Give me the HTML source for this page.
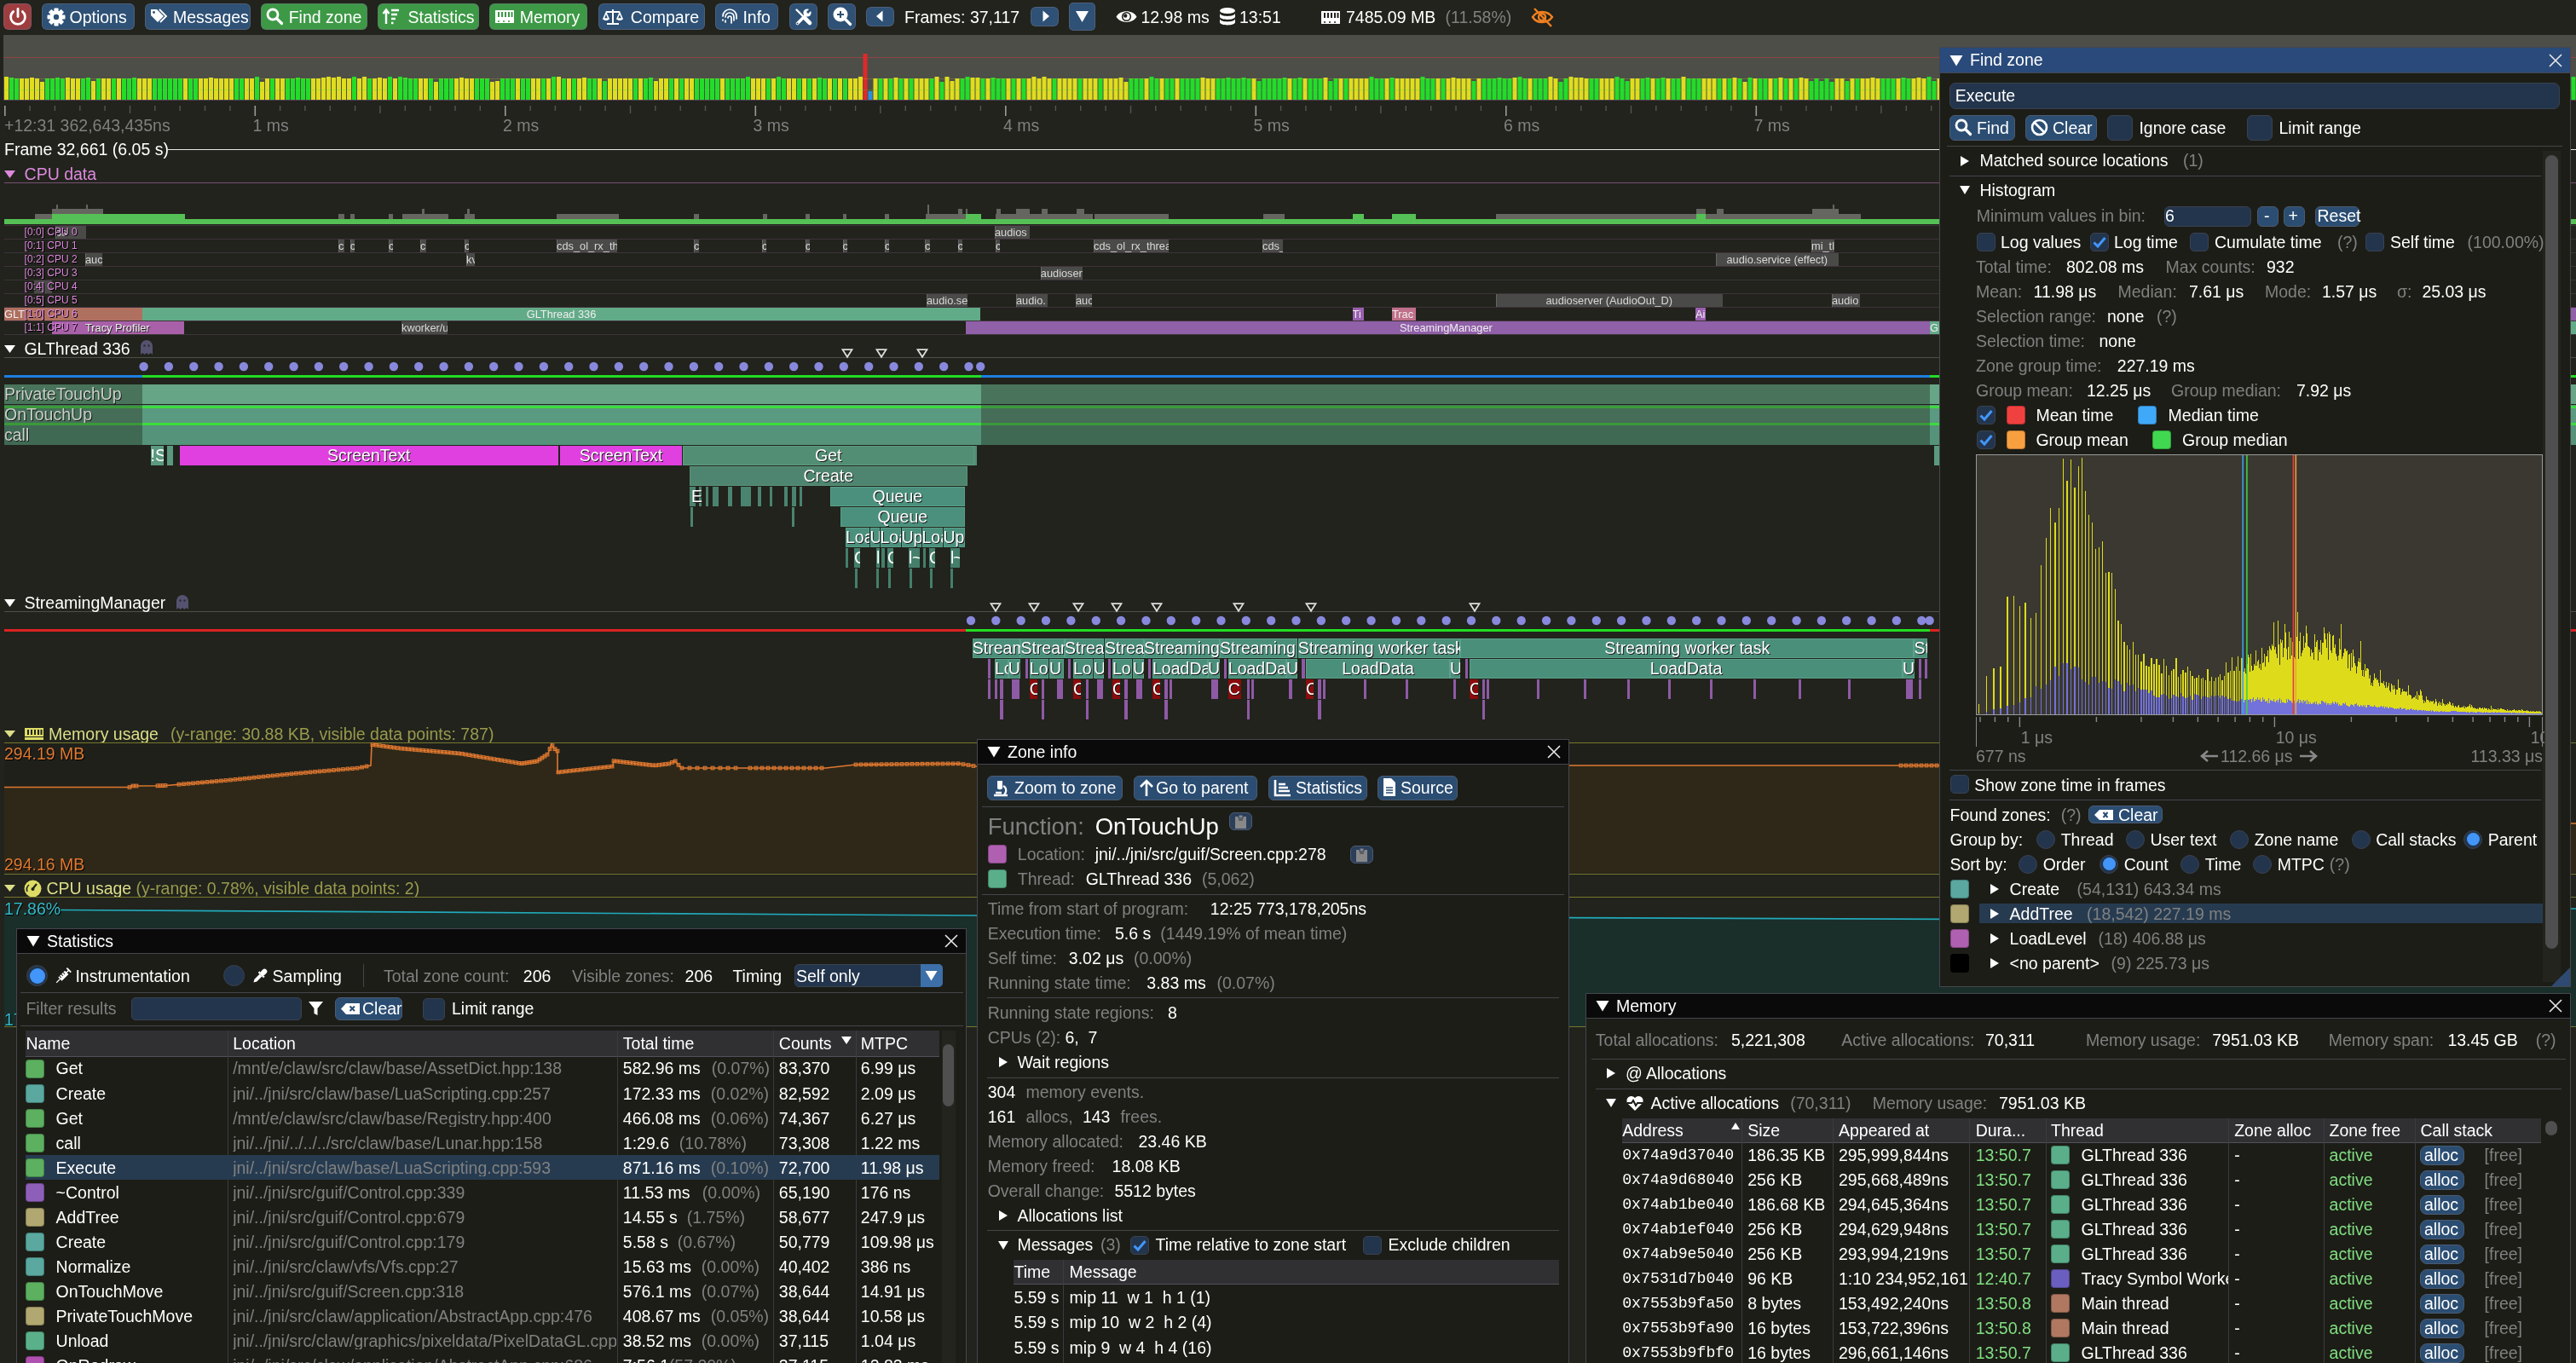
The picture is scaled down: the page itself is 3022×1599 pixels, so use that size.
<!DOCTYPE html><html><head><meta charset="utf-8"><style>
html,body{margin:0;padding:0}
body{width:3022px;height:1599px;overflow:hidden;background:#21231C;position:relative;-webkit-font-smoothing:antialiased;font-family:"Liberation Sans",sans-serif;font-size:19.5px;color:#fff}
.a{position:absolute}
.t{position:absolute;white-space:pre;line-height:19.5px}
#r{position:absolute;left:0;top:0;width:3022px;height:1599px;will-change:transform}
.z{position:absolute;white-space:pre;box-sizing:border-box}
svg.a{overflow:visible}
</style></head><body>
<div id=r>
<div class=a style="left:4.0px;top:4.0px;width:33.0px;height:31.0px;background:#9E3D40;border-radius:6px;box-sizing:border-box;border:1px solid rgba(110,110,128,0.5)"></div>
<svg class=a style="left:10.5px;top:9px;" width="20" height="21" viewBox="0 0 20 21"><path d="M10 1.5v9" stroke="#fff" stroke-width="2.8" stroke-linecap="round" fill="none"/><path d="M4.6 4.6a8.4 8.4 0 1 0 10.8 0" stroke="#fff" stroke-width="2.8" stroke-linecap="round" fill="none"/></svg>
<div class=a style="left:49.0px;top:4.0px;width:108.6px;height:31.0px;background:#2E5175;border-radius:6px;box-sizing:border-box;border:1px solid rgba(110,110,128,0.5)"></div>
<svg class=a style="left:55px;top:8.5px;" width="22" height="22" viewBox="0 0 22 22"><g transform="translate(11,11)"><circle r="7.6" fill="#fff"/><g fill="#fff"><rect x="-2.6" y="-10.5" width="5.2" height="6" rx="1" transform="rotate(0)"/><rect x="-2.6" y="-10.5" width="5.2" height="6" rx="1" transform="rotate(45)"/><rect x="-2.6" y="-10.5" width="5.2" height="6" rx="1" transform="rotate(90)"/><rect x="-2.6" y="-10.5" width="5.2" height="6" rx="1" transform="rotate(135)"/><rect x="-2.6" y="-10.5" width="5.2" height="6" rx="1" transform="rotate(180)"/><rect x="-2.6" y="-10.5" width="5.2" height="6" rx="1" transform="rotate(225)"/><rect x="-2.6" y="-10.5" width="5.2" height="6" rx="1" transform="rotate(270)"/><rect x="-2.6" y="-10.5" width="5.2" height="6" rx="1" transform="rotate(315)"/></g><circle r="3.2" fill="#2E5175"/></g></svg>
<div class=t style="left:81.5px;top:10.8px">Options</div>
<div class=a style="left:170.0px;top:4.0px;width:123.7px;height:31.0px;background:#2E5175;border-radius:6px;box-sizing:border-box;border:1px solid rgba(110,110,128,0.5)"></div>
<svg class=a style="left:176px;top:8.5px;" width="22" height="22" viewBox="0 0 22 22"><path d="M1 2h7l8 8-7 7-8-8z" fill="#fff"/><circle cx="4.5" cy="5.5" r="1.4" fill="#2E5175"/><path d="M11 2l8 8-7 7" stroke="#fff" stroke-width="1.8" fill="none"/></svg>
<div class=t style="left:203.0px;top:10.8px">Messages</div>
<div class=a style="left:306.0px;top:4.0px;width:125.0px;height:31.0px;background:#3D9946;border-radius:6px;box-sizing:border-box;border:1px solid rgba(110,110,128,0.5)"></div>
<svg class=a style="left:312px;top:8.5px;" width="22" height="22" viewBox="0 0 22 22"><circle cx="8" cy="8" r="6" stroke="#fff" stroke-width="2.8" fill="none"/><path d="M12.5 12.5l6 6" stroke="#fff" stroke-width="3.2" stroke-linecap="round"/></svg>
<div class=t style="left:338.7px;top:10.8px">Find zone</div>
<div class=a style="left:443.0px;top:4.0px;width:118.7px;height:31.0px;background:#3D9946;border-radius:6px;box-sizing:border-box;border:1px solid rgba(110,110,128,0.5)"></div>
<svg class=a style="left:449px;top:8.5px;" width="22" height="22" viewBox="0 0 22 22"><path d="M4 19V3M0.5 7L4 2.5 7.5 7" stroke="#fff" stroke-width="2.4" fill="none"/><path d="M10 3h9M10 8h7M10 13h5M10 18h2.5" stroke="#fff" stroke-width="2.4"/></svg>
<div class=t style="left:478.5px;top:10.8px">Statistics</div>
<div class=a style="left:574.0px;top:4.0px;width:115.4px;height:31.0px;background:#3D9946;border-radius:6px;box-sizing:border-box;border:1px solid rgba(110,110,128,0.5)"></div>
<svg class=a style="left:580px;top:8.5px;" width="24" height="22" viewBox="0 0 24 22"><path d="M1 3h22v11H1z" fill="#fff"/><path d="M5 5v6M9 5v6M13 5v6M17 5v6M20.5 5v6" stroke="#3D9946" stroke-width="2"/><path d="M1 14h22v4H1z" fill="#fff"/><path d="M4 16h2M10 16h2M16 16h2" stroke="#3D9946" stroke-width="1.5"/></svg>
<div class=t style="left:609.8px;top:10.8px">Memory</div>
<div class=a style="left:702.0px;top:4.0px;width:124.9px;height:31.0px;background:#2E5175;border-radius:6px;box-sizing:border-box;border:1px solid rgba(110,110,128,0.5)"></div>
<svg class=a style="left:708px;top:8.5px;" width="22" height="22" viewBox="0 0 22 22"><path d="M11 2v17M4 19h14M3 5h16" stroke="#fff" stroke-width="2" fill="none"/><path d="M3 6l-3 7h6z M19 6l-3 7h6z" stroke="#fff" stroke-width="1.6" fill="none"/><path d="M0 13a3 2 0 0 0 6 0zM16 13a3 2 0 0 0 6 0z" fill="#fff"/></svg>
<div class=t style="left:739.8px;top:10.8px">Compare</div>
<div class=a style="left:839.0px;top:4.0px;width:74.4px;height:31.0px;background:#2E5175;border-radius:6px;box-sizing:border-box;border:1px solid rgba(110,110,128,0.5)"></div>
<svg class=a style="left:845px;top:8.5px;" width="22" height="22" viewBox="0 0 22 22"><g stroke="#fff" stroke-width="1.7" fill="none" stroke-linecap="round"><path d="M3 10a8 8 0 0 1 16 0v3"/><path d="M6 11a5 5 0 0 1 10 0v4"/><path d="M9 12a2 2 0 0 1 4 0v6"/><path d="M6 15v2M3 14v1"/></g></svg>
<div class=t style="left:871.4px;top:10.8px">Info</div>
<div class=a style="left:926.0px;top:4.0px;width:33.0px;height:31.0px;background:#2E5175;border-radius:6px;box-sizing:border-box;border:1px solid rgba(110,110,128,0.5)"></div>
<svg class=a style="left:932px;top:9px;" width="21" height="21" viewBox="0 0 21 21"><g stroke="#fff" stroke-linecap="round"><path d="M2.5 2.5l9 9" stroke-width="2.4"/><path d="M12 12l6 6" stroke-width="4.6"/><path d="M3.5 18.5L13 9" stroke-width="3.6"/></g><circle cx="15" cy="6" r="4.6" fill="#fff"/><path d="M15 6l4-4" stroke="#2E5175" stroke-width="3"/><circle cx="3.5" cy="18.5" r="1" fill="#2E5175"/></svg>
<div class=a style="left:971.0px;top:4.0px;width:33.0px;height:31.0px;background:#2E5175;border-radius:6px;box-sizing:border-box;border:1px solid rgba(110,110,128,0.5)"></div>
<svg class=a style="left:977px;top:8px;" width="22" height="22" viewBox="0 0 22 22"><circle cx="9" cy="9" r="8.5" fill="#fff"/><path d="M14.5 14.5l6 6" stroke="#fff" stroke-width="3.2" stroke-linecap="round"/><path d="M5 9h8M9 5v8" stroke="#2E5175" stroke-width="2"/></svg>
<div class=a style="left:1016.0px;top:8.0px;width:33.0px;height:23.0px;background:#2E5175;border-radius:6px;box-sizing:border-box;border:1px solid rgba(110,110,128,0.5)"></div>
<svg class=a style="left:1026.5px;top:12px;" width="10" height="14" viewBox="0 0 10 14"><path d="M8.5 0.5L1 7l7.5 6.5z" fill="#fff"/></svg>
<div class=t style="left:1061.0px;top:10.8px">Frames: 37,117</div>
<div class=a style="left:1209.0px;top:8.0px;width:33.0px;height:23.0px;background:#2E5175;border-radius:6px;box-sizing:border-box;border:1px solid rgba(110,110,128,0.5)"></div>
<svg class=a style="left:1222px;top:12px;" width="10" height="14" viewBox="0 0 10 14"><path d="M1.5 0.5L9 7l-7.5 6.5z" fill="#fff"/></svg>
<div class=a style="left:1254.0px;top:3.0px;width:30.5px;height:33.0px;background:#2E5175;border-radius:5px;box-sizing:border-box;border:1px solid rgba(110,110,128,0.5)"></div>
<svg class=a style="left:1261px;top:11px;" width="17" height="16" viewBox="0 0 17 16"><path d="M1 2h15L8.5 15z" fill="#fff"/></svg>
<svg class=a style="left:1308.5px;top:9.5px;" width="25" height="19" viewBox="0 0 25 19"><path d="M0.5 9.5C5 1 20 1 24.5 9.5 20 18 5 18 0.5 9.5z" fill="#fff"/><circle cx="12.5" cy="9.5" r="5.6" fill="#21231C"/><circle cx="12.5" cy="9.5" r="4" fill="#fff"/><circle cx="11.2" cy="8.5" r="2.2" fill="#21231C"/></svg>
<div class=t style="left:1338.5px;top:10.8px">12.98 ms</div>
<svg class=a style="left:1430px;top:8px;" width="20" height="24" viewBox="0 0 20 24"><ellipse cx="10" cy="4.5" rx="9" ry="3.6" fill="#fff"/><path d="M1 7.5c0 4.5 18 4.5 18 0v4c0 4.5-18 4.5-18 0z M1 14c0 4.5 18 4.5 18 0v4c0 4.5-18 4.5-18 0z" fill="#fff"/></svg>
<div class=t style="left:1454.0px;top:10.8px">13:51</div>
<svg class=a style="left:1549px;top:10px;" width="25" height="20" viewBox="0 0 25 20"><path d="M1 3h22v11H1z" fill="#fff"/><path d="M5 5v6M9 5v6M13 5v6M17 5v6M20.5 5v6" stroke="#21231C" stroke-width="2"/><path d="M1 14h22v4H1z" fill="#fff"/><path d="M4 16h2M10 16h2M16 16h2" stroke="#21231C" stroke-width="1.5"/></svg>
<div class=t style="left:1579.0px;top:10.8px">7485.09 MB</div>
<div class=t style="left:1695.6px;top:10.8px;color:#808080">(11.58%)</div>
<svg class=a style="left:1795px;top:8px;" width="29" height="24" viewBox="0 0 29 24"><g fill="none" stroke="#F08020" stroke-width="2.4"><path d="M3 12C8 4 20 4 26 12 20 20 8 20 3 12z"/><circle cx="14" cy="12" r="4"/><path d="M5 2l20 21"/></g></svg>
<div class=a style="left:4.0px;top:41.0px;width:3018.0px;height:77.0px;background:#4D4E48"></div>
<div class=a style="left:4.0px;top:67.0px;width:3018.0px;height:1.0px;background:rgba(200,60,60,0.55)"></div>
<svg class=a style="left:0px;top:0px;" width="3022" height="120" viewBox="0 0 3022 120"><rect x="5" y="90" width="5" height="27" fill="#E0DD1E"/><rect x="11" y="91" width="5" height="26" fill="#22DD28"/><rect x="17" y="92" width="5" height="25" fill="#22DD28"/><rect x="23" y="92" width="5" height="25" fill="#E0DD1E"/><rect x="29" y="92" width="5" height="25" fill="#E0DD1E"/><rect x="35" y="91" width="5" height="26" fill="#E0DD1E"/><rect x="41" y="92" width="5" height="25" fill="#E0DD1E"/><rect x="47" y="96" width="5" height="21" fill="#E0DD1E"/><rect x="53" y="92" width="5" height="25" fill="#22DD28"/><rect x="59" y="92" width="5" height="25" fill="#22DD28"/><rect x="65" y="91" width="5" height="26" fill="#22DD28"/><rect x="71" y="92" width="5" height="25" fill="#22DD28"/><rect x="77" y="91" width="5" height="26" fill="#E0DD1E"/><rect x="83" y="92" width="5" height="25" fill="#E0DD1E"/><rect x="89" y="92" width="5" height="25" fill="#E0DD1E"/><rect x="95" y="92" width="5" height="25" fill="#22DD28"/><rect x="101" y="91" width="5" height="26" fill="#22DD28"/><rect x="107" y="95" width="5" height="22" fill="#E0DD1E"/><rect x="113" y="92" width="5" height="25" fill="#22DD28"/><rect x="119" y="92" width="5" height="25" fill="#E0DD1E"/><rect x="125" y="92" width="5" height="25" fill="#E0DD1E"/><rect x="131" y="92" width="5" height="25" fill="#22DD28"/><rect x="137" y="92" width="5" height="25" fill="#E0DD1E"/><rect x="143" y="92" width="5" height="25" fill="#22DD28"/><rect x="149" y="92" width="5" height="25" fill="#22DD28"/><rect x="155" y="91" width="5" height="26" fill="#22DD28"/><rect x="161" y="92" width="5" height="25" fill="#E0DD1E"/><rect x="167" y="92" width="5" height="25" fill="#E0DD1E"/><rect x="173" y="92" width="5" height="25" fill="#E0DD1E"/><rect x="179" y="92" width="5" height="25" fill="#22DD28"/><rect x="185" y="92" width="5" height="25" fill="#22DD28"/><rect x="191" y="92" width="5" height="25" fill="#22DD28"/><rect x="197" y="92" width="5" height="25" fill="#22DD28"/><rect x="203" y="92" width="5" height="25" fill="#22DD28"/><rect x="209" y="92" width="5" height="25" fill="#22DD28"/><rect x="215" y="92" width="5" height="25" fill="#E0DD1E"/><rect x="221" y="92" width="5" height="25" fill="#22DD28"/><rect x="227" y="92" width="5" height="25" fill="#22DD28"/><rect x="233" y="92" width="5" height="25" fill="#E0DD1E"/><rect x="239" y="92" width="5" height="25" fill="#E0DD1E"/><rect x="245" y="91" width="5" height="26" fill="#E0DD1E"/><rect x="251" y="92" width="5" height="25" fill="#E0DD1E"/><rect x="257" y="92" width="5" height="25" fill="#E0DD1E"/><rect x="263" y="92" width="5" height="25" fill="#E0DD1E"/><rect x="269" y="92" width="5" height="25" fill="#E0DD1E"/><rect x="275" y="92" width="5" height="25" fill="#22DD28"/><rect x="281" y="92" width="5" height="25" fill="#22DD28"/><rect x="287" y="92" width="5" height="25" fill="#E0DD1E"/><rect x="293" y="92" width="5" height="25" fill="#E0DD1E"/><rect x="299" y="90" width="5" height="27" fill="#22DD28"/><rect x="305" y="96" width="5" height="21" fill="#E0DD1E"/><rect x="311" y="92" width="5" height="25" fill="#E0DD1E"/><rect x="317" y="92" width="5" height="25" fill="#22DD28"/><rect x="323" y="92" width="5" height="25" fill="#E0DD1E"/><rect x="329" y="92" width="5" height="25" fill="#E0DD1E"/><rect x="335" y="92" width="5" height="25" fill="#22DD28"/><rect x="341" y="92" width="5" height="25" fill="#22DD28"/><rect x="347" y="91" width="5" height="26" fill="#22DD28"/><rect x="353" y="92" width="5" height="25" fill="#22DD28"/><rect x="359" y="92" width="5" height="25" fill="#22DD28"/><rect x="365" y="92" width="5" height="25" fill="#E0DD1E"/><rect x="371" y="92" width="5" height="25" fill="#E0DD1E"/><rect x="377" y="91" width="5" height="26" fill="#E0DD1E"/><rect x="383" y="90" width="5" height="27" fill="#E0DD1E"/><rect x="389" y="91" width="5" height="26" fill="#E0DD1E"/><rect x="395" y="90" width="5" height="27" fill="#E0DD1E"/><rect x="401" y="92" width="5" height="25" fill="#E0DD1E"/><rect x="407" y="92" width="5" height="25" fill="#E0DD1E"/><rect x="413" y="90" width="5" height="27" fill="#22DD28"/><rect x="419" y="92" width="5" height="25" fill="#E0DD1E"/><rect x="425" y="90" width="5" height="27" fill="#E0DD1E"/><rect x="431" y="92" width="5" height="25" fill="#22DD28"/><rect x="437" y="92" width="5" height="25" fill="#E0DD1E"/><rect x="443" y="91" width="5" height="26" fill="#E0DD1E"/><rect x="449" y="92" width="5" height="25" fill="#E0DD1E"/><rect x="455" y="90" width="5" height="27" fill="#22DD28"/><rect x="461" y="92" width="5" height="25" fill="#E0DD1E"/><rect x="467" y="90" width="5" height="27" fill="#22DD28"/><rect x="473" y="91" width="5" height="26" fill="#22DD28"/><rect x="479" y="92" width="5" height="25" fill="#22DD28"/><rect x="485" y="92" width="5" height="25" fill="#22DD28"/><rect x="491" y="92" width="5" height="25" fill="#E0DD1E"/><rect x="497" y="92" width="5" height="25" fill="#E0DD1E"/><rect x="503" y="92" width="5" height="25" fill="#22DD28"/><rect x="509" y="96" width="5" height="21" fill="#E0DD1E"/><rect x="515" y="92" width="5" height="25" fill="#22DD28"/><rect x="521" y="92" width="5" height="25" fill="#22DD28"/><rect x="527" y="92" width="5" height="25" fill="#22DD28"/><rect x="533" y="92" width="5" height="25" fill="#E0DD1E"/><rect x="539" y="91" width="5" height="26" fill="#E0DD1E"/><rect x="545" y="92" width="5" height="25" fill="#E0DD1E"/><rect x="551" y="92" width="5" height="25" fill="#E0DD1E"/><rect x="557" y="92" width="5" height="25" fill="#22DD28"/><rect x="563" y="92" width="5" height="25" fill="#22DD28"/><rect x="569" y="92" width="5" height="25" fill="#22DD28"/><rect x="575" y="96" width="5" height="21" fill="#E0DD1E"/><rect x="581" y="95" width="5" height="22" fill="#E0DD1E"/><rect x="587" y="92" width="5" height="25" fill="#22DD28"/><rect x="593" y="92" width="5" height="25" fill="#22DD28"/><rect x="599" y="92" width="5" height="25" fill="#22DD28"/><rect x="605" y="92" width="5" height="25" fill="#E0DD1E"/><rect x="611" y="92" width="5" height="25" fill="#22DD28"/><rect x="617" y="92" width="5" height="25" fill="#22DD28"/><rect x="623" y="92" width="5" height="25" fill="#E0DD1E"/><rect x="629" y="92" width="5" height="25" fill="#E0DD1E"/><rect x="635" y="92" width="5" height="25" fill="#22DD28"/><rect x="641" y="92" width="5" height="25" fill="#E0DD1E"/><rect x="647" y="90" width="5" height="27" fill="#22DD28"/><rect x="653" y="90" width="5" height="27" fill="#E0DD1E"/><rect x="659" y="92" width="5" height="25" fill="#22DD28"/><rect x="665" y="92" width="5" height="25" fill="#E0DD1E"/><rect x="671" y="92" width="5" height="25" fill="#22DD28"/><rect x="677" y="92" width="5" height="25" fill="#E0DD1E"/><rect x="683" y="91" width="5" height="26" fill="#E0DD1E"/><rect x="689" y="92" width="5" height="25" fill="#22DD28"/><rect x="695" y="92" width="5" height="25" fill="#22DD28"/><rect x="701" y="92" width="5" height="25" fill="#E0DD1E"/><rect x="707" y="95" width="5" height="22" fill="#22DD28"/><rect x="713" y="92" width="5" height="25" fill="#E0DD1E"/><rect x="719" y="92" width="5" height="25" fill="#E0DD1E"/><rect x="725" y="92" width="5" height="25" fill="#E0DD1E"/><rect x="731" y="92" width="5" height="25" fill="#E0DD1E"/><rect x="737" y="92" width="5" height="25" fill="#E0DD1E"/><rect x="743" y="92" width="5" height="25" fill="#22DD28"/><rect x="749" y="92" width="5" height="25" fill="#E0DD1E"/><rect x="755" y="92" width="5" height="25" fill="#22DD28"/><rect x="761" y="91" width="5" height="26" fill="#22DD28"/><rect x="767" y="95" width="5" height="22" fill="#E0DD1E"/><rect x="773" y="92" width="5" height="25" fill="#E0DD1E"/><rect x="779" y="92" width="5" height="25" fill="#E0DD1E"/><rect x="785" y="92" width="5" height="25" fill="#22DD28"/><rect x="791" y="92" width="5" height="25" fill="#E0DD1E"/><rect x="797" y="92" width="5" height="25" fill="#22DD28"/><rect x="803" y="92" width="5" height="25" fill="#E0DD1E"/><rect x="809" y="92" width="5" height="25" fill="#E0DD1E"/><rect x="815" y="92" width="5" height="25" fill="#22DD28"/><rect x="821" y="92" width="5" height="25" fill="#22DD28"/><rect x="827" y="92" width="5" height="25" fill="#22DD28"/><rect x="833" y="92" width="5" height="25" fill="#22DD28"/><rect x="839" y="92" width="5" height="25" fill="#22DD28"/><rect x="845" y="92" width="5" height="25" fill="#E0DD1E"/><rect x="851" y="92" width="5" height="25" fill="#22DD28"/><rect x="857" y="92" width="5" height="25" fill="#22DD28"/><rect x="863" y="92" width="5" height="25" fill="#22DD28"/><rect x="869" y="92" width="5" height="25" fill="#22DD28"/><rect x="875" y="90" width="5" height="27" fill="#22DD28"/><rect x="881" y="92" width="5" height="25" fill="#E0DD1E"/><rect x="887" y="92" width="5" height="25" fill="#E0DD1E"/><rect x="893" y="92" width="5" height="25" fill="#E0DD1E"/><rect x="899" y="92" width="5" height="25" fill="#22DD28"/><rect x="905" y="92" width="5" height="25" fill="#E0DD1E"/><rect x="911" y="90" width="5" height="27" fill="#22DD28"/><rect x="917" y="92" width="5" height="25" fill="#22DD28"/><rect x="923" y="92" width="5" height="25" fill="#E0DD1E"/><rect x="929" y="92" width="5" height="25" fill="#E0DD1E"/><rect x="935" y="92" width="5" height="25" fill="#22DD28"/><rect x="941" y="92" width="5" height="25" fill="#E0DD1E"/><rect x="947" y="92" width="5" height="25" fill="#22DD28"/><rect x="953" y="92" width="5" height="25" fill="#E0DD1E"/><rect x="959" y="91" width="5" height="26" fill="#22DD28"/><rect x="965" y="92" width="5" height="25" fill="#22DD28"/><rect x="971" y="92" width="5" height="25" fill="#E0DD1E"/><rect x="977" y="92" width="5" height="25" fill="#22DD28"/><rect x="983" y="92" width="5" height="25" fill="#E0DD1E"/><rect x="989" y="92" width="5" height="25" fill="#22DD28"/><rect x="995" y="92" width="5" height="25" fill="#E0DD1E"/><rect x="1001" y="92" width="5" height="25" fill="#E0DD1E"/><rect x="1007" y="90" width="5" height="27" fill="#E0DD1E"/><rect x="1012.5" y="63" width="5" height="54" fill="#DD2A2A"/><rect x="1018.5" y="107" width="5" height="10" fill="#2A90E0"/><rect x="1024.5" y="92" width="5" height="25" fill="#E0DD1E"/><rect x="1030.5" y="92" width="5" height="25" fill="#22DD28"/><rect x="1036.5" y="92" width="5" height="25" fill="#E0DD1E"/><rect x="1042.5" y="92" width="5" height="25" fill="#22DD28"/><rect x="1048.5" y="91" width="5" height="26" fill="#E0DD1E"/><rect x="1054.5" y="92" width="5" height="25" fill="#22DD28"/><rect x="1060.5" y="92" width="5" height="25" fill="#E0DD1E"/><rect x="1066.5" y="92" width="5" height="25" fill="#22DD28"/><rect x="1072.5" y="92" width="5" height="25" fill="#E0DD1E"/><rect x="1078.5" y="92" width="5" height="25" fill="#E0DD1E"/><rect x="1084.5" y="92" width="5" height="25" fill="#E0DD1E"/><rect x="1090.5" y="92" width="5" height="25" fill="#22DD28"/><rect x="1096.5" y="90" width="5" height="27" fill="#E0DD1E"/><rect x="1102.5" y="96" width="5" height="21" fill="#22DD28"/><rect x="1108.5" y="90" width="5" height="27" fill="#E0DD1E"/><rect x="1114.5" y="95" width="5" height="22" fill="#E0DD1E"/><rect x="1120.5" y="92" width="5" height="25" fill="#E0DD1E"/><rect x="1126.5" y="92" width="5" height="25" fill="#22DD28"/><rect x="1132.5" y="90" width="5" height="27" fill="#22DD28"/><rect x="1138.5" y="91" width="5" height="26" fill="#E0DD1E"/><rect x="1144.5" y="91" width="5" height="26" fill="#E0DD1E"/><rect x="1150.5" y="92" width="5" height="25" fill="#22DD28"/><rect x="1156.5" y="92" width="5" height="25" fill="#E0DD1E"/><rect x="1162.5" y="91" width="5" height="26" fill="#22DD28"/><rect x="1168.5" y="92" width="5" height="25" fill="#22DD28"/><rect x="1174.5" y="92" width="5" height="25" fill="#22DD28"/><rect x="1180.5" y="92" width="5" height="25" fill="#E0DD1E"/><rect x="1186.5" y="92" width="5" height="25" fill="#22DD28"/><rect x="1192.5" y="92" width="5" height="25" fill="#E0DD1E"/><rect x="1198.5" y="92" width="5" height="25" fill="#22DD28"/><rect x="1204.5" y="92" width="5" height="25" fill="#E0DD1E"/><rect x="1210.5" y="90" width="5" height="27" fill="#E0DD1E"/><rect x="1216.5" y="92" width="5" height="25" fill="#E0DD1E"/><rect x="1222.5" y="90" width="5" height="27" fill="#E0DD1E"/><rect x="1228.5" y="92" width="5" height="25" fill="#E0DD1E"/><rect x="1234.5" y="92" width="5" height="25" fill="#22DD28"/><rect x="1240.5" y="92" width="5" height="25" fill="#E0DD1E"/><rect x="1246.5" y="92" width="5" height="25" fill="#E0DD1E"/><rect x="1252.5" y="92" width="5" height="25" fill="#E0DD1E"/><rect x="1258.5" y="92" width="5" height="25" fill="#E0DD1E"/><rect x="1264.5" y="92" width="5" height="25" fill="#22DD28"/><rect x="1270.5" y="92" width="5" height="25" fill="#E0DD1E"/><rect x="1276.5" y="92" width="5" height="25" fill="#E0DD1E"/><rect x="1282.5" y="92" width="5" height="25" fill="#E0DD1E"/><rect x="1288.5" y="92" width="5" height="25" fill="#22DD28"/><rect x="1294.5" y="92" width="5" height="25" fill="#E0DD1E"/><rect x="1300.5" y="92" width="5" height="25" fill="#E0DD1E"/><rect x="1306.5" y="92" width="5" height="25" fill="#E0DD1E"/><rect x="1312.5" y="91" width="5" height="26" fill="#E0DD1E"/><rect x="1318.5" y="96" width="5" height="21" fill="#E0DD1E"/><rect x="1324.5" y="92" width="5" height="25" fill="#22DD28"/><rect x="1330.5" y="92" width="5" height="25" fill="#22DD28"/><rect x="1336.5" y="92" width="5" height="25" fill="#22DD28"/><rect x="1342.5" y="92" width="5" height="25" fill="#E0DD1E"/><rect x="1348.5" y="90" width="5" height="27" fill="#22DD28"/><rect x="1354.5" y="92" width="5" height="25" fill="#22DD28"/><rect x="1360.5" y="92" width="5" height="25" fill="#E0DD1E"/><rect x="1366.5" y="92" width="5" height="25" fill="#22DD28"/><rect x="1372.5" y="92" width="5" height="25" fill="#22DD28"/><rect x="1378.5" y="92" width="5" height="25" fill="#E0DD1E"/><rect x="1384.5" y="92" width="5" height="25" fill="#22DD28"/><rect x="1390.5" y="92" width="5" height="25" fill="#22DD28"/><rect x="1396.5" y="92" width="5" height="25" fill="#22DD28"/><rect x="1402.5" y="92" width="5" height="25" fill="#22DD28"/><rect x="1408.5" y="91" width="5" height="26" fill="#E0DD1E"/><rect x="1414.5" y="92" width="5" height="25" fill="#E0DD1E"/><rect x="1420.5" y="92" width="5" height="25" fill="#E0DD1E"/><rect x="1426.5" y="92" width="5" height="25" fill="#22DD28"/><rect x="1432.5" y="92" width="5" height="25" fill="#22DD28"/><rect x="1438.5" y="91" width="5" height="26" fill="#22DD28"/><rect x="1444.5" y="92" width="5" height="25" fill="#22DD28"/><rect x="1450.5" y="92" width="5" height="25" fill="#22DD28"/><rect x="1456.5" y="91" width="5" height="26" fill="#22DD28"/><rect x="1462.5" y="92" width="5" height="25" fill="#22DD28"/><rect x="1468.5" y="92" width="5" height="25" fill="#E0DD1E"/><rect x="1474.5" y="95" width="5" height="22" fill="#22DD28"/><rect x="1480.5" y="92" width="5" height="25" fill="#22DD28"/><rect x="1486.5" y="92" width="5" height="25" fill="#22DD28"/><rect x="1492.5" y="92" width="5" height="25" fill="#22DD28"/><rect x="1498.5" y="92" width="5" height="25" fill="#22DD28"/><rect x="1504.5" y="91" width="5" height="26" fill="#22DD28"/><rect x="1510.5" y="92" width="5" height="25" fill="#E0DD1E"/><rect x="1516.5" y="92" width="5" height="25" fill="#22DD28"/><rect x="1522.5" y="91" width="5" height="26" fill="#22DD28"/><rect x="1528.5" y="92" width="5" height="25" fill="#E0DD1E"/><rect x="1534.5" y="92" width="5" height="25" fill="#22DD28"/><rect x="1540.5" y="92" width="5" height="25" fill="#22DD28"/><rect x="1546.5" y="92" width="5" height="25" fill="#22DD28"/><rect x="1552.5" y="91" width="5" height="26" fill="#E0DD1E"/><rect x="1558.5" y="95" width="5" height="22" fill="#22DD28"/><rect x="1564.5" y="92" width="5" height="25" fill="#22DD28"/><rect x="1570.5" y="92" width="5" height="25" fill="#E0DD1E"/><rect x="1576.5" y="92" width="5" height="25" fill="#22DD28"/><rect x="1582.5" y="92" width="5" height="25" fill="#E0DD1E"/><rect x="1588.5" y="92" width="5" height="25" fill="#E0DD1E"/><rect x="1594.5" y="92" width="5" height="25" fill="#E0DD1E"/><rect x="1600.5" y="92" width="5" height="25" fill="#E0DD1E"/><rect x="1606.5" y="90" width="5" height="27" fill="#22DD28"/><rect x="1612.5" y="92" width="5" height="25" fill="#22DD28"/><rect x="1618.5" y="92" width="5" height="25" fill="#22DD28"/><rect x="1624.5" y="92" width="5" height="25" fill="#E0DD1E"/><rect x="1630.5" y="91" width="5" height="26" fill="#22DD28"/><rect x="1636.5" y="92" width="5" height="25" fill="#E0DD1E"/><rect x="1642.5" y="92" width="5" height="25" fill="#E0DD1E"/><rect x="1648.5" y="92" width="5" height="25" fill="#E0DD1E"/><rect x="1654.5" y="92" width="5" height="25" fill="#E0DD1E"/><rect x="1660.5" y="92" width="5" height="25" fill="#E0DD1E"/><rect x="1666.5" y="90" width="5" height="27" fill="#22DD28"/><rect x="1672.5" y="92" width="5" height="25" fill="#22DD28"/><rect x="1678.5" y="92" width="5" height="25" fill="#22DD28"/><rect x="1684.5" y="92" width="5" height="25" fill="#E0DD1E"/><rect x="1690.5" y="92" width="5" height="25" fill="#22DD28"/><rect x="1696.5" y="92" width="5" height="25" fill="#E0DD1E"/><rect x="1702.5" y="91" width="5" height="26" fill="#E0DD1E"/><rect x="1708.5" y="92" width="5" height="25" fill="#E0DD1E"/><rect x="1714.5" y="92" width="5" height="25" fill="#E0DD1E"/><rect x="1720.5" y="92" width="5" height="25" fill="#E0DD1E"/><rect x="1726.5" y="95" width="5" height="22" fill="#22DD28"/><rect x="1732.5" y="92" width="5" height="25" fill="#E0DD1E"/><rect x="1738.5" y="92" width="5" height="25" fill="#22DD28"/><rect x="1744.5" y="92" width="5" height="25" fill="#22DD28"/><rect x="1750.5" y="92" width="5" height="25" fill="#22DD28"/><rect x="1756.5" y="91" width="5" height="26" fill="#22DD28"/><rect x="1762.5" y="92" width="5" height="25" fill="#22DD28"/><rect x="1768.5" y="92" width="5" height="25" fill="#22DD28"/><rect x="1774.5" y="91" width="5" height="26" fill="#E0DD1E"/><rect x="1780.5" y="90" width="5" height="27" fill="#22DD28"/><rect x="1786.5" y="92" width="5" height="25" fill="#22DD28"/><rect x="1792.5" y="92" width="5" height="25" fill="#E0DD1E"/><rect x="1798.5" y="92" width="5" height="25" fill="#22DD28"/><rect x="1804.5" y="92" width="5" height="25" fill="#22DD28"/><rect x="1810.5" y="92" width="5" height="25" fill="#22DD28"/><rect x="1816.5" y="90" width="5" height="27" fill="#E0DD1E"/><rect x="1822.5" y="92" width="5" height="25" fill="#E0DD1E"/><rect x="1828.5" y="96" width="5" height="21" fill="#22DD28"/><rect x="1834.5" y="92" width="5" height="25" fill="#22DD28"/><rect x="1840.5" y="90" width="5" height="27" fill="#E0DD1E"/><rect x="1846.5" y="91" width="5" height="26" fill="#E0DD1E"/><rect x="1852.5" y="91" width="5" height="26" fill="#E0DD1E"/><rect x="1858.5" y="92" width="5" height="25" fill="#E0DD1E"/><rect x="1864.5" y="92" width="5" height="25" fill="#22DD28"/><rect x="1870.5" y="92" width="5" height="25" fill="#22DD28"/><rect x="1876.5" y="92" width="5" height="25" fill="#E0DD1E"/><rect x="1882.5" y="92" width="5" height="25" fill="#E0DD1E"/><rect x="1888.5" y="92" width="5" height="25" fill="#E0DD1E"/><rect x="1894.5" y="90" width="5" height="27" fill="#22DD28"/><rect x="1900.5" y="92" width="5" height="25" fill="#22DD28"/><rect x="1906.5" y="95" width="5" height="22" fill="#22DD28"/><rect x="1912.5" y="92" width="5" height="25" fill="#E0DD1E"/><rect x="1918.5" y="92" width="5" height="25" fill="#E0DD1E"/><rect x="1924.5" y="92" width="5" height="25" fill="#22DD28"/><rect x="1930.5" y="91" width="5" height="26" fill="#22DD28"/><rect x="1936.5" y="92" width="5" height="25" fill="#E0DD1E"/><rect x="1942.5" y="92" width="5" height="25" fill="#22DD28"/><rect x="1948.5" y="91" width="5" height="26" fill="#22DD28"/><rect x="1954.5" y="92" width="5" height="25" fill="#E0DD1E"/><rect x="1960.5" y="92" width="5" height="25" fill="#22DD28"/><rect x="1966.5" y="92" width="5" height="25" fill="#22DD28"/><rect x="1972.5" y="90" width="5" height="27" fill="#E0DD1E"/><rect x="1978.5" y="92" width="5" height="25" fill="#22DD28"/><rect x="1984.5" y="92" width="5" height="25" fill="#22DD28"/><rect x="1990.5" y="92" width="5" height="25" fill="#22DD28"/><rect x="1996.5" y="92" width="5" height="25" fill="#E0DD1E"/><rect x="2002.5" y="92" width="5" height="25" fill="#E0DD1E"/><rect x="2008.5" y="92" width="5" height="25" fill="#E0DD1E"/><rect x="2014.5" y="92" width="5" height="25" fill="#22DD28"/><rect x="2020.5" y="92" width="5" height="25" fill="#E0DD1E"/><rect x="2026.5" y="92" width="5" height="25" fill="#22DD28"/><rect x="2032.5" y="91" width="5" height="26" fill="#E0DD1E"/><rect x="2038.5" y="92" width="5" height="25" fill="#22DD28"/><rect x="2044.5" y="96" width="5" height="21" fill="#E0DD1E"/><rect x="2050.5" y="91" width="5" height="26" fill="#22DD28"/><rect x="2056.5" y="92" width="5" height="25" fill="#E0DD1E"/><rect x="2062.5" y="92" width="5" height="25" fill="#22DD28"/><rect x="2068.5" y="92" width="5" height="25" fill="#22DD28"/><rect x="2074.5" y="92" width="5" height="25" fill="#E0DD1E"/><rect x="2080.5" y="92" width="5" height="25" fill="#22DD28"/><rect x="2086.5" y="91" width="5" height="26" fill="#E0DD1E"/><rect x="2092.5" y="92" width="5" height="25" fill="#22DD28"/><rect x="2098.5" y="92" width="5" height="25" fill="#E0DD1E"/><rect x="2104.5" y="92" width="5" height="25" fill="#22DD28"/><rect x="2110.5" y="91" width="5" height="26" fill="#E0DD1E"/><rect x="2116.5" y="92" width="5" height="25" fill="#E0DD1E"/><rect x="2122.5" y="95" width="5" height="22" fill="#22DD28"/><rect x="2128.5" y="92" width="5" height="25" fill="#22DD28"/><rect x="2134.5" y="95" width="5" height="22" fill="#22DD28"/><rect x="2140.5" y="92" width="5" height="25" fill="#22DD28"/><rect x="2146.5" y="96" width="5" height="21" fill="#22DD28"/><rect x="2152.5" y="92" width="5" height="25" fill="#E0DD1E"/><rect x="2158.5" y="92" width="5" height="25" fill="#E0DD1E"/><rect x="2164.5" y="95" width="5" height="22" fill="#22DD28"/><rect x="2170.5" y="92" width="5" height="25" fill="#E0DD1E"/><rect x="2176.5" y="92" width="5" height="25" fill="#22DD28"/><rect x="2182.5" y="92" width="5" height="25" fill="#E0DD1E"/><rect x="2188.5" y="92" width="5" height="25" fill="#E0DD1E"/><rect x="2194.5" y="91" width="5" height="26" fill="#E0DD1E"/><rect x="2200.5" y="92" width="5" height="25" fill="#E0DD1E"/><rect x="2206.5" y="92" width="5" height="25" fill="#22DD28"/><rect x="2212.5" y="92" width="5" height="25" fill="#22DD28"/><rect x="2218.5" y="92" width="5" height="25" fill="#22DD28"/><rect x="2224.5" y="92" width="5" height="25" fill="#E0DD1E"/><rect x="2230.5" y="91" width="5" height="26" fill="#22DD28"/><rect x="2236.5" y="92" width="5" height="25" fill="#22DD28"/><rect x="2242.5" y="92" width="5" height="25" fill="#E0DD1E"/><rect x="2248.5" y="91" width="5" height="26" fill="#E0DD1E"/><rect x="2254.5" y="92" width="5" height="25" fill="#E0DD1E"/><rect x="2260.5" y="90" width="5" height="27" fill="#22DD28"/><rect x="2266.5" y="95" width="5" height="22" fill="#22DD28"/><rect x="2272.5" y="92" width="5" height="25" fill="#E0DD1E"/><rect x="2278.5" y="92" width="5" height="25" fill="#22DD28"/><rect x="2284.5" y="92" width="5" height="25" fill="#E0DD1E"/><rect x="2290.5" y="92" width="5" height="25" fill="#E0DD1E"/><rect x="2296.5" y="92" width="5" height="25" fill="#E0DD1E"/><rect x="2302.5" y="91" width="5" height="26" fill="#22DD28"/><rect x="2308.5" y="92" width="5" height="25" fill="#E0DD1E"/><rect x="2314.5" y="91" width="5" height="26" fill="#22DD28"/><rect x="2320.5" y="91" width="5" height="26" fill="#E0DD1E"/><rect x="2326.5" y="92" width="5" height="25" fill="#22DD28"/><rect x="2332.5" y="92" width="5" height="25" fill="#22DD28"/><rect x="2338.5" y="92" width="5" height="25" fill="#E0DD1E"/><rect x="2344.5" y="92" width="5" height="25" fill="#22DD28"/><rect x="2350.5" y="92" width="5" height="25" fill="#E0DD1E"/><rect x="2356.5" y="92" width="5" height="25" fill="#E0DD1E"/><rect x="2362.5" y="92" width="5" height="25" fill="#E0DD1E"/><rect x="2368.5" y="92" width="5" height="25" fill="#22DD28"/><rect x="2374.5" y="91" width="5" height="26" fill="#22DD28"/><rect x="2380.5" y="92" width="5" height="25" fill="#E0DD1E"/><rect x="2386.5" y="92" width="5" height="25" fill="#22DD28"/><rect x="2392.5" y="92" width="5" height="25" fill="#E0DD1E"/><rect x="2398.5" y="92" width="5" height="25" fill="#E0DD1E"/><rect x="2404.5" y="95" width="5" height="22" fill="#22DD28"/><rect x="2410.5" y="92" width="5" height="25" fill="#22DD28"/><rect x="2416.5" y="92" width="5" height="25" fill="#22DD28"/><rect x="2422.5" y="92" width="5" height="25" fill="#22DD28"/><rect x="2428.5" y="92" width="5" height="25" fill="#E0DD1E"/><rect x="2434.5" y="91" width="5" height="26" fill="#22DD28"/><rect x="2440.5" y="92" width="5" height="25" fill="#E0DD1E"/><rect x="2446.5" y="91" width="5" height="26" fill="#E0DD1E"/><rect x="2452.5" y="92" width="5" height="25" fill="#E0DD1E"/><rect x="2458.5" y="92" width="5" height="25" fill="#E0DD1E"/><rect x="2464.5" y="92" width="5" height="25" fill="#22DD28"/><rect x="2470.5" y="91" width="5" height="26" fill="#E0DD1E"/><rect x="2476.5" y="92" width="5" height="25" fill="#E0DD1E"/><rect x="2482.5" y="92" width="5" height="25" fill="#22DD28"/><rect x="2488.5" y="92" width="5" height="25" fill="#E0DD1E"/><rect x="2494.5" y="92" width="5" height="25" fill="#22DD28"/><rect x="2500.5" y="92" width="5" height="25" fill="#22DD28"/><rect x="2506.5" y="90" width="5" height="27" fill="#22DD28"/><rect x="2512.5" y="92" width="5" height="25" fill="#22DD28"/><rect x="2518.5" y="92" width="5" height="25" fill="#22DD28"/><rect x="2524.5" y="95" width="5" height="22" fill="#22DD28"/><rect x="2530.5" y="92" width="5" height="25" fill="#E0DD1E"/><rect x="2536.5" y="92" width="5" height="25" fill="#E0DD1E"/><rect x="2542.5" y="92" width="5" height="25" fill="#22DD28"/><rect x="2548.5" y="92" width="5" height="25" fill="#E0DD1E"/><rect x="2554.5" y="96" width="5" height="21" fill="#22DD28"/><rect x="2560.5" y="92" width="5" height="25" fill="#22DD28"/><rect x="2566.5" y="91" width="5" height="26" fill="#22DD28"/><rect x="2572.5" y="92" width="5" height="25" fill="#22DD28"/><rect x="2578.5" y="92" width="5" height="25" fill="#22DD28"/><rect x="2584.5" y="92" width="5" height="25" fill="#E0DD1E"/><rect x="2590.5" y="95" width="5" height="22" fill="#E0DD1E"/><rect x="2596.5" y="92" width="5" height="25" fill="#22DD28"/><rect x="2602.5" y="92" width="5" height="25" fill="#22DD28"/><rect x="2608.5" y="92" width="5" height="25" fill="#22DD28"/><rect x="2614.5" y="92" width="5" height="25" fill="#E0DD1E"/><rect x="2620.5" y="91" width="5" height="26" fill="#22DD28"/><rect x="2626.5" y="92" width="5" height="25" fill="#22DD28"/><rect x="2632.5" y="92" width="5" height="25" fill="#E0DD1E"/><rect x="2638.5" y="95" width="5" height="22" fill="#E0DD1E"/><rect x="2644.5" y="92" width="5" height="25" fill="#E0DD1E"/><rect x="2650.5" y="95" width="5" height="22" fill="#22DD28"/><rect x="2656.5" y="92" width="5" height="25" fill="#E0DD1E"/><rect x="2662.5" y="95" width="5" height="22" fill="#22DD28"/><rect x="2668.5" y="95" width="5" height="22" fill="#E0DD1E"/><rect x="2674.5" y="92" width="5" height="25" fill="#22DD28"/><rect x="2680.5" y="91" width="5" height="26" fill="#E0DD1E"/><rect x="2686.5" y="92" width="5" height="25" fill="#E0DD1E"/><rect x="2692.5" y="91" width="5" height="26" fill="#22DD28"/><rect x="2698.5" y="92" width="5" height="25" fill="#E0DD1E"/><rect x="2704.5" y="92" width="5" height="25" fill="#E0DD1E"/><rect x="2710.5" y="92" width="5" height="25" fill="#E0DD1E"/><rect x="2716.5" y="92" width="5" height="25" fill="#E0DD1E"/><rect x="2722.5" y="92" width="5" height="25" fill="#E0DD1E"/><rect x="2728.5" y="92" width="5" height="25" fill="#22DD28"/><rect x="2734.5" y="95" width="5" height="22" fill="#E0DD1E"/><rect x="2740.5" y="95" width="5" height="22" fill="#22DD28"/><rect x="2746.5" y="92" width="5" height="25" fill="#E0DD1E"/><rect x="2752.5" y="92" width="5" height="25" fill="#E0DD1E"/><rect x="2758.5" y="92" width="5" height="25" fill="#E0DD1E"/><rect x="2764.5" y="90" width="5" height="27" fill="#E0DD1E"/><rect x="2770.5" y="92" width="5" height="25" fill="#E0DD1E"/><rect x="2776.5" y="92" width="5" height="25" fill="#22DD28"/><rect x="2782.5" y="92" width="5" height="25" fill="#E0DD1E"/><rect x="2788.5" y="92" width="5" height="25" fill="#E0DD1E"/><rect x="2794.5" y="92" width="5" height="25" fill="#E0DD1E"/><rect x="2800.5" y="92" width="5" height="25" fill="#22DD28"/><rect x="2806.5" y="92" width="5" height="25" fill="#E0DD1E"/><rect x="2812.5" y="92" width="5" height="25" fill="#22DD28"/><rect x="2818.5" y="90" width="5" height="27" fill="#E0DD1E"/><rect x="2824.5" y="92" width="5" height="25" fill="#22DD28"/><rect x="2830.5" y="91" width="5" height="26" fill="#22DD28"/><rect x="2836.5" y="92" width="5" height="25" fill="#22DD28"/><rect x="2842.5" y="92" width="5" height="25" fill="#22DD28"/><rect x="2848.5" y="90" width="5" height="27" fill="#22DD28"/><rect x="2854.5" y="96" width="5" height="21" fill="#22DD28"/><rect x="2860.5" y="92" width="5" height="25" fill="#E0DD1E"/><rect x="2866.5" y="95" width="5" height="22" fill="#22DD28"/><rect x="2872.5" y="92" width="5" height="25" fill="#E0DD1E"/><rect x="2878.5" y="92" width="5" height="25" fill="#22DD28"/><rect x="2884.5" y="92" width="5" height="25" fill="#E0DD1E"/><rect x="2890.5" y="92" width="5" height="25" fill="#22DD28"/><rect x="2896.5" y="92" width="5" height="25" fill="#E0DD1E"/><rect x="2902.5" y="91" width="5" height="26" fill="#22DD28"/><rect x="2908.5" y="91" width="5" height="26" fill="#22DD28"/><rect x="2914.5" y="92" width="5" height="25" fill="#22DD28"/><rect x="2920.5" y="92" width="5" height="25" fill="#22DD28"/><rect x="2926.5" y="92" width="5" height="25" fill="#E0DD1E"/><rect x="2932.5" y="92" width="5" height="25" fill="#E0DD1E"/><rect x="2938.5" y="92" width="5" height="25" fill="#E0DD1E"/><rect x="2944.5" y="92" width="5" height="25" fill="#E0DD1E"/><rect x="2950.5" y="96" width="5" height="21" fill="#22DD28"/><rect x="2956.5" y="92" width="5" height="25" fill="#22DD28"/><rect x="2962.5" y="90" width="5" height="27" fill="#E0DD1E"/><rect x="2968.5" y="91" width="5" height="26" fill="#22DD28"/><rect x="2974.5" y="92" width="5" height="25" fill="#E0DD1E"/><rect x="2980.5" y="92" width="5" height="25" fill="#E0DD1E"/><rect x="2986.5" y="91" width="5" height="26" fill="#22DD28"/><rect x="2992.5" y="91" width="5" height="26" fill="#22DD28"/><rect x="2998.5" y="92" width="5" height="25" fill="#22DD28"/><rect x="3004.5" y="91" width="5" height="26" fill="#22DD28"/><rect x="3010.5" y="92" width="5" height="25" fill="#22DD28"/><rect x="3016.5" y="90" width="5" height="27" fill="#22DD28"/></svg>
<div class=a style="left:4.0px;top:92.0px;width:3018.0px;height:1.0px;background:rgba(220,220,60,0.22)"></div>
<div class=a style="left:4.0px;top:105.0px;width:3018.0px;height:1.0px;background:rgba(60,220,60,0.25)"></div>
<div class=a style="left:4.0px;top:117.0px;width:3018.0px;height:1.0px;background:rgba(90,60,90,0.6)"></div>
<svg class=a style="left:0px;top:120px;" width="3022" height="25" viewBox="0 0 3022 25"><g transform="translate(0,-120)"><rect x="5.0" y="124" width="1.6" height="12" fill="#9a9a9a"/><rect x="34.4" y="124" width="1.4" height="6" fill="#555"/><rect x="63.7" y="124" width="1.4" height="6" fill="#555"/><rect x="93.1" y="124" width="1.4" height="6" fill="#555"/><rect x="122.4" y="124" width="1.4" height="6" fill="#555"/><rect x="151.8" y="124" width="1.4" height="9" fill="#555"/><rect x="181.1" y="124" width="1.4" height="6" fill="#555"/><rect x="210.5" y="124" width="1.4" height="6" fill="#555"/><rect x="239.8" y="124" width="1.4" height="6" fill="#555"/><rect x="269.2" y="124" width="1.4" height="6" fill="#555"/><rect x="298.5" y="124" width="1.6" height="12" fill="#9a9a9a"/><rect x="327.9" y="124" width="1.4" height="6" fill="#555"/><rect x="357.2" y="124" width="1.4" height="6" fill="#555"/><rect x="386.6" y="124" width="1.4" height="6" fill="#555"/><rect x="415.9" y="124" width="1.4" height="6" fill="#555"/><rect x="445.2" y="124" width="1.4" height="9" fill="#555"/><rect x="474.6" y="124" width="1.4" height="6" fill="#555"/><rect x="504.0" y="124" width="1.4" height="6" fill="#555"/><rect x="533.3" y="124" width="1.4" height="6" fill="#555"/><rect x="562.6" y="124" width="1.4" height="6" fill="#555"/><rect x="592.0" y="124" width="1.6" height="12" fill="#9a9a9a"/><rect x="621.4" y="124" width="1.4" height="6" fill="#555"/><rect x="650.7" y="124" width="1.4" height="6" fill="#555"/><rect x="680.1" y="124" width="1.4" height="6" fill="#555"/><rect x="709.4" y="124" width="1.4" height="6" fill="#555"/><rect x="738.8" y="124" width="1.4" height="9" fill="#555"/><rect x="768.1" y="124" width="1.4" height="6" fill="#555"/><rect x="797.5" y="124" width="1.4" height="6" fill="#555"/><rect x="826.8" y="124" width="1.4" height="6" fill="#555"/><rect x="856.2" y="124" width="1.4" height="6" fill="#555"/><rect x="885.5" y="124" width="1.6" height="12" fill="#9a9a9a"/><rect x="914.9" y="124" width="1.4" height="6" fill="#555"/><rect x="944.2" y="124" width="1.4" height="6" fill="#555"/><rect x="973.6" y="124" width="1.4" height="6" fill="#555"/><rect x="1002.9" y="124" width="1.4" height="6" fill="#555"/><rect x="1032.2" y="124" width="1.4" height="9" fill="#555"/><rect x="1061.6" y="124" width="1.4" height="6" fill="#555"/><rect x="1091.0" y="124" width="1.4" height="6" fill="#555"/><rect x="1120.3" y="124" width="1.4" height="6" fill="#555"/><rect x="1149.7" y="124" width="1.4" height="6" fill="#555"/><rect x="1179.0" y="124" width="1.6" height="12" fill="#9a9a9a"/><rect x="1208.4" y="124" width="1.4" height="6" fill="#555"/><rect x="1237.7" y="124" width="1.4" height="6" fill="#555"/><rect x="1267.0" y="124" width="1.4" height="6" fill="#555"/><rect x="1296.4" y="124" width="1.4" height="6" fill="#555"/><rect x="1325.8" y="124" width="1.4" height="9" fill="#555"/><rect x="1355.1" y="124" width="1.4" height="6" fill="#555"/><rect x="1384.5" y="124" width="1.4" height="6" fill="#555"/><rect x="1413.8" y="124" width="1.4" height="6" fill="#555"/><rect x="1443.2" y="124" width="1.4" height="6" fill="#555"/><rect x="1472.5" y="124" width="1.6" height="12" fill="#9a9a9a"/><rect x="1501.9" y="124" width="1.4" height="6" fill="#555"/><rect x="1531.2" y="124" width="1.4" height="6" fill="#555"/><rect x="1560.6" y="124" width="1.4" height="6" fill="#555"/><rect x="1589.9" y="124" width="1.4" height="6" fill="#555"/><rect x="1619.2" y="124" width="1.4" height="9" fill="#555"/><rect x="1648.6" y="124" width="1.4" height="6" fill="#555"/><rect x="1678.0" y="124" width="1.4" height="6" fill="#555"/><rect x="1707.3" y="124" width="1.4" height="6" fill="#555"/><rect x="1736.7" y="124" width="1.4" height="6" fill="#555"/><rect x="1766.0" y="124" width="1.6" height="12" fill="#9a9a9a"/><rect x="1795.4" y="124" width="1.4" height="6" fill="#555"/><rect x="1824.7" y="124" width="1.4" height="6" fill="#555"/><rect x="1854.1" y="124" width="1.4" height="6" fill="#555"/><rect x="1883.4" y="124" width="1.4" height="6" fill="#555"/><rect x="1912.8" y="124" width="1.4" height="9" fill="#555"/><rect x="1942.1" y="124" width="1.4" height="6" fill="#555"/><rect x="1971.5" y="124" width="1.4" height="6" fill="#555"/><rect x="2000.8" y="124" width="1.4" height="6" fill="#555"/><rect x="2030.2" y="124" width="1.4" height="6" fill="#555"/><rect x="2059.5" y="124" width="1.6" height="12" fill="#9a9a9a"/><rect x="2088.8" y="124" width="1.4" height="6" fill="#555"/><rect x="2118.2" y="124" width="1.4" height="6" fill="#555"/><rect x="2147.6" y="124" width="1.4" height="6" fill="#555"/><rect x="2176.9" y="124" width="1.4" height="6" fill="#555"/><rect x="2206.2" y="124" width="1.4" height="9" fill="#555"/><rect x="2235.6" y="124" width="1.4" height="6" fill="#555"/><rect x="2265.0" y="124" width="1.4" height="6" fill="#555"/><rect x="2294.3" y="124" width="1.4" height="6" fill="#555"/><rect x="2323.7" y="124" width="1.4" height="6" fill="#555"/><rect x="2353.0" y="124" width="1.6" height="12" fill="#9a9a9a"/><rect x="2382.3" y="124" width="1.4" height="6" fill="#555"/><rect x="2411.7" y="124" width="1.4" height="6" fill="#555"/><rect x="2441.1" y="124" width="1.4" height="6" fill="#555"/><rect x="2470.4" y="124" width="1.4" height="6" fill="#555"/><rect x="2499.8" y="124" width="1.4" height="9" fill="#555"/><rect x="2529.1" y="124" width="1.4" height="6" fill="#555"/><rect x="2558.5" y="124" width="1.4" height="6" fill="#555"/><rect x="2587.8" y="124" width="1.4" height="6" fill="#555"/><rect x="2617.2" y="124" width="1.4" height="6" fill="#555"/><rect x="2646.5" y="124" width="1.6" height="12" fill="#9a9a9a"/><rect x="2675.8" y="124" width="1.4" height="6" fill="#555"/><rect x="2705.2" y="124" width="1.4" height="6" fill="#555"/><rect x="2734.6" y="124" width="1.4" height="6" fill="#555"/><rect x="2763.9" y="124" width="1.4" height="6" fill="#555"/><rect x="2793.2" y="124" width="1.4" height="9" fill="#555"/><rect x="2822.6" y="124" width="1.4" height="6" fill="#555"/><rect x="2852.0" y="124" width="1.4" height="6" fill="#555"/><rect x="2881.3" y="124" width="1.4" height="6" fill="#555"/><rect x="2910.7" y="124" width="1.4" height="6" fill="#555"/><rect x="2940.0" y="124" width="1.6" height="12" fill="#9a9a9a"/><rect x="2969.4" y="124" width="1.4" height="6" fill="#555"/><rect x="2998.7" y="124" width="1.4" height="6" fill="#555"/></g></svg>
<div class=t style="left:5.0px;top:138.3px;color:#808080">+12:31 362,643,435ns</div>
<div class=t style="left:296.5px;top:138.3px;color:#808080">1 ms</div>
<div class=t style="left:590.0px;top:138.3px;color:#808080">2 ms</div>
<div class=t style="left:883.5px;top:138.3px;color:#808080">3 ms</div>
<div class=t style="left:1177.0px;top:138.3px;color:#808080">4 ms</div>
<div class=t style="left:1470.5px;top:138.3px;color:#808080">5 ms</div>
<div class=t style="left:1764.0px;top:138.3px;color:#808080">6 ms</div>
<div class=t style="left:2057.5px;top:138.3px;color:#808080">7 ms</div>
<div class=t style="left:2351.0px;top:138.3px;color:#808080">8 ms</div>
<div class=t style="left:2644.5px;top:138.3px;color:#808080">9 ms</div>
<div class=t style="left:2938.0px;top:138.3px;color:#808080">10 ms</div>
<div class=t style="left:5.0px;top:165.8px;color:#fff">Frame 32,661 (6.05 s)</div>
<div class=a style="left:197.0px;top:174.5px;width:2825.0px;height:1.2px;background:#e8e8e8"></div>
<svg class=a style="left:5px;top:199.5px;" width="13" height="9" viewBox="0 0 13 9"><path d="M0 0H13L6.5 9z" fill="#DD88DD"/></svg>
<div class=t style="left:28.6px;top:194.8px;color:#DD88DD">CPU data</div>
<div class=a style="left:5.0px;top:214.0px;width:3017.0px;height:1.0px;background:rgba(221,136,221,0.45)"></div>
<div class=a style="left:5.0px;top:257.0px;width:3017.0px;height:6.0px;background:#55C055"></div>
<div class=a style="left:40.7px;top:251.0px;width:20.7px;height:6.0px;background:#666660"></div>
<div class=a style="left:61.4px;top:251.0px;width:155.5px;height:6.0px;background:#55C055"></div>
<div class=a style="left:61.4px;top:245.0px;width:59.6px;height:6.0px;background:#666660"></div>
<div class=a style="left:66.0px;top:240.0px;width:2.0px;height:5.0px;background:#666660"></div>
<div class=a style="left:101.0px;top:240.0px;width:2.0px;height:5.0px;background:#666660"></div>
<div class=a style="left:397.0px;top:251.0px;width:6.6px;height:6.0px;background:#666660"></div>
<div class=a style="left:410.7px;top:251.0px;width:5.3px;height:6.0px;background:#666660"></div>
<div class=a style="left:456.0px;top:251.0px;width:5.0px;height:6.0px;background:#666660"></div>
<div class=a style="left:472.0px;top:251.0px;width:53.8px;height:6.0px;background:#666660"></div>
<div class=a style="left:545.0px;top:251.0px;width:11.8px;height:6.0px;background:#666660"></div>
<div class=a style="left:653.0px;top:251.0px;width:73.0px;height:6.0px;background:#666660"></div>
<div class=a style="left:814.0px;top:251.0px;width:6.0px;height:6.0px;background:#666660"></div>
<div class=a style="left:894.7px;top:251.0px;width:4.9px;height:6.0px;background:#666660"></div>
<div class=a style="left:945.0px;top:251.0px;width:5.0px;height:6.0px;background:#666660"></div>
<div class=a style="left:988.8px;top:251.0px;width:4.2px;height:6.0px;background:#666660"></div>
<div class=a style="left:1037.9px;top:251.0px;width:5.1px;height:6.0px;background:#666660"></div>
<div class=a style="left:1085.7px;top:251.0px;width:47.3px;height:6.0px;background:#666660"></div>
<div class=a style="left:1168.0px;top:251.0px;width:114.0px;height:6.0px;background:#666660"></div>
<div class=a style="left:1284.0px;top:251.0px;width:87.0px;height:6.0px;background:#666660"></div>
<div class=a style="left:1481.7px;top:251.0px;width:25.3px;height:6.0px;background:#666660"></div>
<div class=a style="left:1755.0px;top:251.0px;width:235.7px;height:6.0px;background:#666660"></div>
<div class=a style="left:2000.7px;top:251.0px;width:182.3px;height:6.0px;background:#666660"></div>
<div class=a style="left:1133.0px;top:251.0px;width:18.0px;height:6.0px;background:#55C055"></div>
<div class=a style="left:1633.0px;top:251.0px;width:27.7px;height:6.0px;background:#55C055"></div>
<div class=a style="left:1990.0px;top:251.0px;width:10.7px;height:6.0px;background:#55C055"></div>
<div class=a style="left:1587.0px;top:251.0px;width:13.0px;height:6.0px;background:#55C055"></div>
<div class=a style="left:495.0px;top:245.0px;width:3.0px;height:6.0px;background:#666660"></div>
<div class=a style="left:548.0px;top:245.0px;width:3.0px;height:6.0px;background:#666660"></div>
<div class=a style="left:1124.0px;top:245.0px;width:5.0px;height:6.0px;background:#666660"></div>
<div class=a style="left:1168.6px;top:245.0px;width:5.4px;height:6.0px;background:#666660"></div>
<div class=a style="left:1192.0px;top:245.0px;width:16.0px;height:6.0px;background:#666660"></div>
<div class=a style="left:1222.0px;top:245.0px;width:7.0px;height:6.0px;background:#666660"></div>
<div class=a style="left:1262.7px;top:245.0px;width:9.3px;height:6.0px;background:#666660"></div>
<div class=a style="left:1990.0px;top:245.0px;width:10.7px;height:6.0px;background:#666660"></div>
<div class=a style="left:2014.0px;top:245.0px;width:8.0px;height:6.0px;background:#666660"></div>
<div class=a style="left:2126.0px;top:245.0px;width:31.0px;height:6.0px;background:#666660"></div>
<div class=a style="left:1088.0px;top:240.0px;width:2.0px;height:11.0px;background:#666660"></div>
<div class=a style="left:1133.0px;top:245.0px;width:2.0px;height:6.0px;background:#666660"></div>
<div class=a style="left:2150.0px;top:240.0px;width:2.0px;height:5.0px;background:#666660"></div>
<div class=a style="left:5.0px;top:264.0px;width:3017.0px;height:1.0px;background:rgba(221,136,221,0.16)"></div>
<div class=a style="left:5.0px;top:280.0px;width:3017.0px;height:1.0px;background:rgba(221,136,221,0.16)"></div>
<div class=a style="left:5.0px;top:296.0px;width:3017.0px;height:1.0px;background:rgba(221,136,221,0.16)"></div>
<div class=a style="left:5.0px;top:312.0px;width:3017.0px;height:1.0px;background:rgba(221,136,221,0.16)"></div>
<div class=a style="left:5.0px;top:328.0px;width:3017.0px;height:1.0px;background:rgba(221,136,221,0.16)"></div>
<div class=a style="left:5.0px;top:344.0px;width:3017.0px;height:1.0px;background:rgba(221,136,221,0.16)"></div>
<div class=a style="left:5.0px;top:360.0px;width:3017.0px;height:1.0px;background:rgba(221,136,221,0.16)"></div>
<div class=a style="left:5.0px;top:376.0px;width:3017.0px;height:1.0px;background:rgba(221,136,221,0.16)"></div>
<div class=a style="left:5.0px;top:392.0px;width:3017.0px;height:1.0px;background:rgba(221,136,221,0.16)"></div>
<div class=z style="left:65.0px;top:265.0px;width:36.2px;height:15px;background:#4A4A48;line-height:15px;font-size:12.8px;color:#d8d8d8;overflow:hidden;text-align:left;box-shadow:inset 1px 0 #666">os</div>
<div class=z style="left:1167.0px;top:265.0px;width:40.5px;height:15px;background:#4A4A48;line-height:15px;font-size:12.8px;color:#d8d8d8;overflow:hidden;text-align:left;box-shadow:inset 1px 0 #666">audios</div>
<div class=z style="left:397.0px;top:281.0px;width:6.6px;height:15px;background:#4A4A48;line-height:15px;font-size:12.8px;color:#d8d8d8;overflow:hidden;text-align:left;box-shadow:inset 1px 0 #666">c</div>
<div class=z style="left:410.7px;top:281.0px;width:5.3px;height:15px;background:#4A4A48;line-height:15px;font-size:12.8px;color:#d8d8d8;overflow:hidden;text-align:left;box-shadow:inset 1px 0 #666">c</div>
<div class=z style="left:456.0px;top:281.0px;width:5.0px;height:15px;background:#4A4A48;line-height:15px;font-size:12.8px;color:#d8d8d8;overflow:hidden;text-align:left;box-shadow:inset 1px 0 #666">c</div>
<div class=z style="left:493.0px;top:281.0px;width:7.0px;height:15px;background:#4A4A48;line-height:15px;font-size:12.8px;color:#d8d8d8;overflow:hidden;text-align:left;box-shadow:inset 1px 0 #666">c</div>
<div class=z style="left:545.0px;top:281.0px;width:5.0px;height:15px;background:#4A4A48;line-height:15px;font-size:12.8px;color:#d8d8d8;overflow:hidden;text-align:left;box-shadow:inset 1px 0 #666">c</div>
<div class=z style="left:653.0px;top:281.0px;width:71.4px;height:15px;background:#4A4A48;line-height:15px;font-size:12.8px;color:#d8d8d8;overflow:hidden;text-align:center;box-shadow:inset 1px 0 #666">cds_ol_rx_thr</div>
<div class=z style="left:814.0px;top:281.0px;width:6.0px;height:15px;background:#4A4A48;line-height:15px;font-size:12.8px;color:#d8d8d8;overflow:hidden;text-align:left;box-shadow:inset 1px 0 #666">c</div>
<div class=z style="left:894.0px;top:281.0px;width:5.0px;height:15px;background:#4A4A48;line-height:15px;font-size:12.8px;color:#d8d8d8;overflow:hidden;text-align:left;box-shadow:inset 1px 0 #666">c</div>
<div class=z style="left:944.7px;top:281.0px;width:5.3px;height:15px;background:#4A4A48;line-height:15px;font-size:12.8px;color:#d8d8d8;overflow:hidden;text-align:left;box-shadow:inset 1px 0 #666">c</div>
<div class=z style="left:988.5px;top:281.0px;width:5.5px;height:15px;background:#4A4A48;line-height:15px;font-size:12.8px;color:#d8d8d8;overflow:hidden;text-align:left;box-shadow:inset 1px 0 #666">c</div>
<div class=z style="left:1037.9px;top:281.0px;width:5.1px;height:15px;background:#4A4A48;line-height:15px;font-size:12.8px;color:#d8d8d8;overflow:hidden;text-align:left;box-shadow:inset 1px 0 #666">c</div>
<div class=z style="left:1085.0px;top:281.0px;width:6.0px;height:15px;background:#4A4A48;line-height:15px;font-size:12.8px;color:#d8d8d8;overflow:hidden;text-align:left;box-shadow:inset 1px 0 #666">c</div>
<div class=z style="left:1123.6px;top:281.0px;width:5.4px;height:15px;background:#4A4A48;line-height:15px;font-size:12.8px;color:#d8d8d8;overflow:hidden;text-align:left;box-shadow:inset 1px 0 #666">c</div>
<div class=z style="left:1168.0px;top:281.0px;width:5.0px;height:15px;background:#4A4A48;line-height:15px;font-size:12.8px;color:#d8d8d8;overflow:hidden;text-align:left;box-shadow:inset 1px 0 #666">c</div>
<div class=z style="left:1283.0px;top:281.0px;width:87.5px;height:15px;background:#4A4A48;line-height:15px;font-size:12.8px;color:#d8d8d8;overflow:hidden;text-align:center;box-shadow:inset 1px 0 #666">cds_ol_rx_threa</div>
<div class=z style="left:1481.0px;top:281.0px;width:24.0px;height:15px;background:#4A4A48;line-height:15px;font-size:12.8px;color:#d8d8d8;overflow:hidden;text-align:left;box-shadow:inset 1px 0 #666">cds_</div>
<div class=z style="left:2125.0px;top:281.0px;width:26.7px;height:15px;background:#4A4A48;line-height:15px;font-size:12.8px;color:#d8d8d8;overflow:hidden;text-align:left;box-shadow:inset 1px 0 #666">mi_tl</div>
<div class=z style="left:100.0px;top:297.0px;width:20.4px;height:15px;background:#4A4A48;line-height:15px;font-size:12.8px;color:#d8d8d8;overflow:hidden;text-align:left;box-shadow:inset 1px 0 #666">auc</div>
<div class=z style="left:547.0px;top:297.0px;width:9.8px;height:15px;background:#4A4A48;line-height:15px;font-size:12.8px;color:#d8d8d8;overflow:hidden;text-align:left;box-shadow:inset 1px 0 #666">kv</div>
<div class=z style="left:2013.0px;top:297.0px;width:143.5px;height:15px;background:#4A4A48;line-height:15px;font-size:12.8px;color:#d8d8d8;overflow:hidden;text-align:center;box-shadow:inset 1px 0 #666">audio.service (effect)</div>
<div class=z style="left:1220.8px;top:313.0px;width:49.7px;height:15px;background:#4A4A48;line-height:15px;font-size:12.8px;color:#d8d8d8;overflow:hidden;text-align:left;box-shadow:inset 1px 0 #666">audioser</div>
<div class=a style="left:40.0px;top:329.0px;width:21.0px;height:15.0px;background:#4A4A48"></div>
<div class=z style="left:1087.0px;top:345.0px;width:47.5px;height:15px;background:#4A4A48;line-height:15px;font-size:12.8px;color:#d8d8d8;overflow:hidden;text-align:left;box-shadow:inset 1px 0 #666">audio.se</div>
<div class=z style="left:1192.0px;top:345.0px;width:36.6px;height:15px;background:#4A4A48;line-height:15px;font-size:12.8px;color:#d8d8d8;overflow:hidden;text-align:left;box-shadow:inset 1px 0 #666">audio.</div>
<div class=z style="left:1262.0px;top:345.0px;width:19.0px;height:15px;background:#4A4A48;line-height:15px;font-size:12.8px;color:#d8d8d8;overflow:hidden;text-align:left;box-shadow:inset 1px 0 #666">auc</div>
<div class=z style="left:1755.0px;top:345.0px;width:265.5px;height:15px;background:#4A4A48;line-height:15px;font-size:12.8px;color:#d8d8d8;overflow:hidden;text-align:center;box-shadow:inset 1px 0 #666">audioserver (AudioOut_D)</div>
<div class=z style="left:2149.0px;top:345.0px;width:32.6px;height:15px;background:#4A4A48;line-height:15px;font-size:12.8px;color:#d8d8d8;overflow:hidden;text-align:left;box-shadow:inset 1px 0 #666">audio</div>
<div class=z style="left:5.0px;top:361.0px;width:162.0px;height:15px;background:#B07060;line-height:15px;font-size:12.8px;color:#eee;overflow:hidden;text-align:left">GLT</div>
<div class=z style="left:167.0px;top:361.0px;width:983.0px;height:15px;background:#62AB88;line-height:15px;font-size:12.8px;color:#eee;overflow:hidden;text-align:center">GLThread 336</div>
<div class=z style="left:1586.6px;top:361.0px;width:13.4px;height:15px;background:#9A60B0;line-height:15px;font-size:12.8px;color:#eee;overflow:hidden;text-align:left">Ti</div>
<div class=z style="left:1633.0px;top:361.0px;width:27.7px;height:15px;background:#C0708A;line-height:15px;font-size:12.8px;color:#eee;overflow:hidden;text-align:left">Trac</div>
<div class=z style="left:1989.0px;top:361.0px;width:11.7px;height:15px;background:#9A60B0;line-height:15px;font-size:12.8px;color:#eee;overflow:hidden;text-align:left">Ai</div>
<div class=a style="left:60.5px;top:377.0px;width:155.5px;height:15.0px;background:#A860A8"></div>
<div class=t style="left:100.0px;top:378.5px;font-size:12.8px;line-height:12.8px;color:#eee;text-shadow:1px 1px #222">Tracy Profiler</div>
<div class=z style="left:471.0px;top:377.0px;width:53.6px;height:15px;background:#4A4A48;line-height:15px;font-size:12.8px;color:#d8d8d8;overflow:hidden;text-align:left">kworker/u</div>
<div class=z style="left:1133.0px;top:377.0px;width:1131.0px;height:15px;background:#9060A8;line-height:15px;font-size:12.8px;color:#eee;overflow:hidden;text-align:left;text-indent:509px">StreamingManager</div>
<div class=z style="left:2264.0px;top:377.0px;width:11.0px;height:15px;background:#62AB88;line-height:15px;font-size:12.8px;color:#eee;overflow:hidden;text-align:left">Gl</div>
<div class=a style="left:3016.0px;top:361.0px;width:6.0px;height:15.0px;background:#9060A8"></div>
<div class=a style="left:3016.0px;top:377.0px;width:6.0px;height:15.0px;background:#62AB88"></div>
<div class=t style="left:28.6px;top:266.4px;font-size:12px;line-height:12px;color:#DD88DD;text-shadow:1px 1px #000">[0:0] CPU 0</div>
<div class=t style="left:28.6px;top:282.4px;font-size:12px;line-height:12px;color:#DD88DD;text-shadow:1px 1px #000">[0:1] CPU 1</div>
<div class=t style="left:28.6px;top:298.4px;font-size:12px;line-height:12px;color:#DD88DD;text-shadow:1px 1px #000">[0:2] CPU 2</div>
<div class=t style="left:28.6px;top:314.4px;font-size:12px;line-height:12px;color:#DD88DD;text-shadow:1px 1px #000">[0:3] CPU 3</div>
<div class=t style="left:28.6px;top:330.4px;font-size:12px;line-height:12px;color:#DD88DD;text-shadow:1px 1px #000">[0:4] CPU 4</div>
<div class=t style="left:28.6px;top:346.4px;font-size:12px;line-height:12px;color:#DD88DD;text-shadow:1px 1px #000">[0:5] CPU 5</div>
<div class=t style="left:28.6px;top:362.4px;font-size:12px;line-height:12px;color:#DD88DD;text-shadow:1px 1px #000">[1:0] CPU 6</div>
<div class=t style="left:28.6px;top:378.4px;font-size:12px;line-height:12px;color:#DD88DD;text-shadow:1px 1px #000">[1:1] CPU 7</div>
<svg class=a style="left:5px;top:404.5px;" width="13" height="9" viewBox="0 0 13 9"><path d="M0 0H13L6.5 9z" fill="#fff"/></svg>
<div class=t style="left:28.4px;top:399.8px">GLThread 336</div>
<svg class=a style="left:164px;top:398px;" width="16" height="18" viewBox="0 0 16 18"><path d="M1 8a7 7 0 0 1 14 0v10l-2.3-2-2.3 2-2.4-2-2.4 2-2.3-2L1 18z" fill="#555270"/><circle cx="5.5" cy="7.5" r="1.2" fill="#2a2a30"/><circle cx="10.5" cy="7.5" r="1.2" fill="#2a2a30"/></svg>
<div class=a style="left:5.0px;top:419.0px;width:3017.0px;height:1.0px;background:rgba(255,255,255,0.2)"></div>
<svg class=a style="left:987px;top:409px;" width="14" height="11" viewBox="0 0 14 11"><path d="M1.5 1.2H12.5L7 9.8z" fill="none" stroke="#ddd" stroke-width="1.8"/></svg>
<svg class=a style="left:1026.7px;top:409px;" width="14" height="11" viewBox="0 0 14 11"><path d="M1.5 1.2H12.5L7 9.8z" fill="none" stroke="#ddd" stroke-width="1.8"/></svg>
<svg class=a style="left:1075px;top:409px;" width="14" height="11" viewBox="0 0 14 11"><path d="M1.5 1.2H12.5L7 9.8z" fill="none" stroke="#ddd" stroke-width="1.8"/></svg>
<svg class=a style="left:0px;top:424px;" width="3022" height="12" viewBox="0 0 3022 12"><circle cx="168.6" cy="6" r="5.2" fill="#8888DD"/><circle cx="197.9" cy="6" r="5.2" fill="#8888DD"/><circle cx="227.3" cy="6" r="5.2" fill="#8888DD"/><circle cx="256.6" cy="6" r="5.2" fill="#8888DD"/><circle cx="285.9" cy="6" r="5.2" fill="#8888DD"/><circle cx="315.2" cy="6" r="5.2" fill="#8888DD"/><circle cx="344.6" cy="6" r="5.2" fill="#8888DD"/><circle cx="373.9" cy="6" r="5.2" fill="#8888DD"/><circle cx="403.2" cy="6" r="5.2" fill="#8888DD"/><circle cx="432.6" cy="6" r="5.2" fill="#8888DD"/><circle cx="461.9" cy="6" r="5.2" fill="#8888DD"/><circle cx="491.2" cy="6" r="5.2" fill="#8888DD"/><circle cx="520.6" cy="6" r="5.2" fill="#8888DD"/><circle cx="549.9" cy="6" r="5.2" fill="#8888DD"/><circle cx="579.2" cy="6" r="5.2" fill="#8888DD"/><circle cx="608.5" cy="6" r="5.2" fill="#8888DD"/><circle cx="637.9" cy="6" r="5.2" fill="#8888DD"/><circle cx="667.2" cy="6" r="5.2" fill="#8888DD"/><circle cx="696.5" cy="6" r="5.2" fill="#8888DD"/><circle cx="725.9" cy="6" r="5.2" fill="#8888DD"/><circle cx="755.2" cy="6" r="5.2" fill="#8888DD"/><circle cx="784.5" cy="6" r="5.2" fill="#8888DD"/><circle cx="813.9" cy="6" r="5.2" fill="#8888DD"/><circle cx="843.2" cy="6" r="5.2" fill="#8888DD"/><circle cx="872.5" cy="6" r="5.2" fill="#8888DD"/><circle cx="901.9" cy="6" r="5.2" fill="#8888DD"/><circle cx="931.2" cy="6" r="5.2" fill="#8888DD"/><circle cx="960.5" cy="6" r="5.2" fill="#8888DD"/><circle cx="989.8" cy="6" r="5.2" fill="#8888DD"/><circle cx="1019.2" cy="6" r="5.2" fill="#8888DD"/><circle cx="1048.5" cy="6" r="5.2" fill="#8888DD"/><circle cx="1077.8" cy="6" r="5.2" fill="#8888DD"/><circle cx="1107.2" cy="6" r="5.2" fill="#8888DD"/><circle cx="1136.5" cy="6" r="5.2" fill="#8888DD"/><circle cx="1150.2" cy="6" r="5.2" fill="#8888DD"/></svg>
<div class=a style="left:5.0px;top:440.0px;width:161.8px;height:3.0px;background:#1E7FE0"></div>
<div class=a style="left:166.8px;top:440.0px;width:984.2px;height:3.0px;background:#22DD22"></div>
<div class=a style="left:1151.0px;top:440.0px;width:1871.0px;height:3.0px;background:#1E7FE0"></div>
<div class=a style="left:2264.0px;top:440.0px;width:11.0px;height:3.0px;background:#22DD22"></div>
<div class=a style="left:3016.0px;top:440.0px;width:6.0px;height:3.0px;background:#22DD22"></div>
<div class=a style="left:5.0px;top:451.0px;width:161.8px;height:23.0px;background:#49745B"></div>
<div class=a style="left:166.8px;top:451.0px;width:984.2px;height:23.0px;background:#66A585"></div>
<div class=a style="left:1151.0px;top:451.0px;width:1871.0px;height:23.0px;background:#49745B"></div>
<div class=a style="left:2264.0px;top:451.0px;width:11.0px;height:23.0px;background:#66A585"></div>
<div class=a style="left:3016.0px;top:451.0px;width:6.0px;height:23.0px;background:#66A585"></div>
<div class=t style="left:5.0px;top:453.3px;color:#c8d0c8;text-shadow:1px 1px 0 #1a1a1a">PrivateTouchUp</div>
<div class=a style="left:5.0px;top:475.0px;width:161.8px;height:23.0px;background:#456D58"></div>
<div class=a style="left:166.8px;top:475.0px;width:984.2px;height:23.0px;background:#5A9A80"></div>
<div class=a style="left:1151.0px;top:475.0px;width:1871.0px;height:23.0px;background:#456D58"></div>
<div class=a style="left:2264.0px;top:475.0px;width:11.0px;height:23.0px;background:#5A9A80"></div>
<div class=a style="left:3016.0px;top:475.0px;width:6.0px;height:23.0px;background:#5A9A80"></div>
<div class=t style="left:5.0px;top:477.3px;color:#c8d0c8;text-shadow:1px 1px 0 #1a1a1a">OnTouchUp</div>
<div class=a style="left:5.0px;top:499.0px;width:161.8px;height:23.0px;background:#406953"></div>
<div class=a style="left:166.8px;top:499.0px;width:984.2px;height:23.0px;background:#55937A"></div>
<div class=a style="left:1151.0px;top:499.0px;width:1871.0px;height:23.0px;background:#406953"></div>
<div class=a style="left:2264.0px;top:499.0px;width:11.0px;height:23.0px;background:#55937A"></div>
<div class=a style="left:3016.0px;top:499.0px;width:6.0px;height:23.0px;background:#55937A"></div>
<div class=t style="left:5.0px;top:501.3px;color:#c8d0c8;text-shadow:1px 1px 0 #1a1a1a">call</div>
<div class=a style="left:5.0px;top:475.5px;width:161.8px;height:3.0px;background:#3A9A3A"></div>
<div class=a style="left:166.8px;top:475.5px;width:984.2px;height:3.0px;background:#3CDD3C"></div>
<div class=a style="left:1151.0px;top:475.5px;width:1871.0px;height:3.0px;background:#3A9A3A"></div>
<div class=a style="left:2264.0px;top:475.5px;width:11.0px;height:3.0px;background:#3CDD3C"></div>
<div class=a style="left:3016.0px;top:475.5px;width:6.0px;height:3.0px;background:#3CDD3C"></div>
<div class=a style="left:5.0px;top:496.0px;width:161.8px;height:3.0px;background:#3A9A3A"></div>
<div class=a style="left:166.8px;top:496.0px;width:984.2px;height:3.0px;background:#3CDD3C"></div>
<div class=a style="left:1151.0px;top:496.0px;width:1871.0px;height:3.0px;background:#3A9A3A"></div>
<div class=a style="left:2264.0px;top:496.0px;width:11.0px;height:3.0px;background:#3CDD3C"></div>
<div class=a style="left:3016.0px;top:496.0px;width:6.0px;height:3.0px;background:#3CDD3C"></div>
<div class=a style="left:2269.0px;top:523.0px;width:6.0px;height:23.0px;background:#5A9A80"></div>
<div class=z style="left:176.6px;top:523.0px;width:15.4px;height:23px;background:#5A9A80;line-height:23px;font-size:19.5px;color:#fff;overflow:hidden;text-align:left">!S</div>
<div class=a style="left:196.0px;top:523.0px;width:7.0px;height:23.0px;background:#5A9A80"></div>
<div class=z style="left:210.8px;top:523.0px;width:443.9px;height:23px;background:#E040E0;line-height:23px;font-size:19.5px;color:#fff;overflow:hidden;text-align:center;text-shadow:1px 1px 0 #1a1a1a">ScreenText</div>
<div class=z style="left:657.0px;top:523.0px;width:142.9px;height:23px;background:#E040E0;line-height:23px;font-size:19.5px;color:#fff;overflow:hidden;text-align:center;text-shadow:1px 1px 0 #1a1a1a">ScreenText</div>
<div class=z style="left:800.8px;top:523.0px;width:341.9px;height:23px;background:#528E74;line-height:23px;font-size:19.5px;color:#fff;overflow:hidden;text-align:center;text-shadow:1px 1px 0 #1a1a1a;box-shadow:inset 0 0 0 1px #5c9c80">Get</div>
<div class=a style="left:1143.0px;top:523.0px;width:3.0px;height:23.0px;background:#528E74"></div>
<div class=z style="left:809.0px;top:547.0px;width:325.6px;height:23px;background:#4E8570;line-height:23px;font-size:19.5px;color:#fff;overflow:hidden;text-align:center;text-shadow:1px 1px 0 #1a1a1a;box-shadow:inset 0 0 0 1px #5a917a">Create</div>
<div class=a style="left:809.0px;top:571.0px;width:7.0px;height:23.0px;background:#4A8470"></div>
<div class=a style="left:820.0px;top:571.0px;width:3.0px;height:23.0px;background:#4A8470"></div>
<div class=a style="left:828.0px;top:571.0px;width:3.0px;height:23.0px;background:#4A8470"></div>
<div class=a style="left:836.0px;top:571.0px;width:7.0px;height:23.0px;background:#4A8470"></div>
<div class=a style="left:854.0px;top:571.0px;width:5.0px;height:23.0px;background:#4A8470"></div>
<div class=a style="left:869.0px;top:571.0px;width:12.0px;height:23.0px;background:#4A8470"></div>
<div class=a style="left:889.0px;top:571.0px;width:4.0px;height:23.0px;background:#4A8470"></div>
<div class=a style="left:903.0px;top:571.0px;width:3.0px;height:23.0px;background:#4A8470"></div>
<div class=a style="left:920.0px;top:571.0px;width:4.0px;height:23.0px;background:#4A8470"></div>
<div class=a style="left:929.0px;top:571.0px;width:5.0px;height:23.0px;background:#4A8470"></div>
<div class=a style="left:938.0px;top:571.0px;width:3.0px;height:23.0px;background:#4A8470"></div>
<div class=t style="left:811.0px;top:573.3px;text-shadow:1px 1px 0 #1a1a1a">E</div>
<div class=z style="left:973.9px;top:571.0px;width:157.9px;height:23px;background:#4A907C;line-height:23px;font-size:19.5px;color:#fff;overflow:hidden;text-align:center;text-shadow:1px 1px 0 #1a1a1a;box-shadow:inset 0 0 0 1px #58a08a">Queue</div>
<div class=a style="left:810.0px;top:595.0px;width:3.0px;height:23.0px;background:#4A8470"></div>
<div class=a style="left:929.0px;top:595.0px;width:3.0px;height:23.0px;background:#4A8470"></div>
<div class=z style="left:986.0px;top:595.0px;width:145.8px;height:23px;background:#4A907C;line-height:23px;font-size:19.5px;color:#fff;overflow:hidden;text-align:center;text-shadow:1px 1px 0 #1a1a1a;box-shadow:inset 0 0 0 1px #58a08a">Queue</div>
<div class=z style="left:992.0px;top:619.0px;width:28.0px;height:23px;background:#4A907C;line-height:23px;font-size:19.5px;color:#fff;overflow:hidden;text-align:left;text-shadow:1px 1px 0 #1a1a1a;box-shadow:inset 0 0 0 1px #58a08a">Loa</div>
<div class=z style="left:1020.5px;top:619.0px;width:11.5px;height:23px;background:#4A907C;line-height:23px;font-size:19.5px;color:#fff;overflow:hidden;text-align:left;text-shadow:1px 1px 0 #1a1a1a;box-shadow:inset 0 0 0 1px #58a08a">U</div>
<div class=z style="left:1032.5px;top:619.0px;width:24.5px;height:23px;background:#4A907C;line-height:23px;font-size:19.5px;color:#fff;overflow:hidden;text-align:left;text-shadow:1px 1px 0 #1a1a1a;box-shadow:inset 0 0 0 1px #58a08a">Loa</div>
<div class=z style="left:1057.5px;top:619.0px;width:23.5px;height:23px;background:#4A907C;line-height:23px;font-size:19.5px;color:#fff;overflow:hidden;text-align:left;text-shadow:1px 1px 0 #1a1a1a;box-shadow:inset 0 0 0 1px #58a08a">Up</div>
<div class=z style="left:1081.5px;top:619.0px;width:24.5px;height:23px;background:#4A907C;line-height:23px;font-size:19.5px;color:#fff;overflow:hidden;text-align:left;text-shadow:1px 1px 0 #1a1a1a;box-shadow:inset 0 0 0 1px #58a08a">Loa</div>
<div class=z style="left:1106.5px;top:619.0px;width:25.3px;height:23px;background:#4A907C;line-height:23px;font-size:19.5px;color:#fff;overflow:hidden;text-align:left;text-shadow:1px 1px 0 #1a1a1a;box-shadow:inset 0 0 0 1px #58a08a">Up</div>
<div class=a style="left:992.0px;top:643.0px;width:3.0px;height:23.0px;background:#447F6C"></div>
<div class=z style="left:1002.0px;top:643.0px;width:7.0px;height:23px;background:#447F6C;line-height:23px;font-size:19.5px;color:#fff;overflow:hidden;text-align:left">C</div>
<div class=z style="left:1028.0px;top:643.0px;width:4.0px;height:23px;background:#447F6C;line-height:23px;font-size:19.5px;color:#fff;overflow:hidden;text-align:left">l</div>
<div class=a style="left:1034.0px;top:643.0px;width:4.0px;height:23.0px;background:#447F6C"></div>
<div class=z style="left:1041.0px;top:643.0px;width:7.0px;height:23px;background:#447F6C;line-height:23px;font-size:19.5px;color:#fff;overflow:hidden;text-align:left">C</div>
<div class=z style="left:1066.0px;top:643.0px;width:4.0px;height:23px;background:#447F6C;line-height:23px;font-size:19.5px;color:#fff;overflow:hidden;text-align:left">l</div>
<div class=z style="left:1070.0px;top:643.0px;width:9.0px;height:23px;background:#447F6C;line-height:23px;font-size:19.5px;color:#fff;overflow:hidden;text-align:left">~</div>
<div class=a style="left:1083.0px;top:643.0px;width:3.0px;height:23.0px;background:#447F6C"></div>
<div class=z style="left:1090.0px;top:643.0px;width:7.0px;height:23px;background:#447F6C;line-height:23px;font-size:19.5px;color:#fff;overflow:hidden;text-align:left">C</div>
<div class=z style="left:1115.0px;top:643.0px;width:3.0px;height:23px;background:#447F6C;line-height:23px;font-size:19.5px;color:#fff;overflow:hidden;text-align:left">l</div>
<div class=z style="left:1118.0px;top:643.0px;width:8.0px;height:23px;background:#447F6C;line-height:23px;font-size:19.5px;color:#fff;overflow:hidden;text-align:left">~</div>
<div class=a style="left:1003.0px;top:667.0px;width:3.0px;height:23.0px;background:#447F6C"></div>
<div class=a style="left:1028.0px;top:667.0px;width:3.0px;height:23.0px;background:#447F6C"></div>
<div class=a style="left:1042.0px;top:667.0px;width:3.0px;height:23.0px;background:#447F6C"></div>
<div class=a style="left:1067.0px;top:667.0px;width:3.0px;height:23.0px;background:#447F6C"></div>
<div class=a style="left:1091.0px;top:667.0px;width:3.0px;height:23.0px;background:#447F6C"></div>
<div class=a style="left:1115.0px;top:667.0px;width:3.0px;height:23.0px;background:#447F6C"></div>
<svg class=a style="left:5px;top:702.5px;" width="13" height="9" viewBox="0 0 13 9"><path d="M0 0H13L6.5 9z" fill="#fff"/></svg>
<div class=t style="left:28.4px;top:697.8px">StreamingManager</div>
<svg class=a style="left:206px;top:697px;" width="16" height="18" viewBox="0 0 16 18"><path d="M1 8a7 7 0 0 1 14 0v10l-2.3-2-2.3 2-2.4-2-2.4 2-2.3-2L1 18z" fill="#555270"/><circle cx="5.5" cy="7.5" r="1.2" fill="#2a2a30"/><circle cx="10.5" cy="7.5" r="1.2" fill="#2a2a30"/></svg>
<div class=a style="left:5.0px;top:717.0px;width:3017.0px;height:1.0px;background:rgba(255,255,255,0.2)"></div>
<svg class=a style="left:1160.5px;top:707px;" width="14" height="11" viewBox="0 0 14 11"><path d="M1.5 1.2H12.5L7 9.8z" fill="none" stroke="#ddd" stroke-width="1.8"/></svg>
<svg class=a style="left:1206.4px;top:707px;" width="14" height="11" viewBox="0 0 14 11"><path d="M1.5 1.2H12.5L7 9.8z" fill="none" stroke="#ddd" stroke-width="1.8"/></svg>
<svg class=a style="left:1258.4px;top:707px;" width="14" height="11" viewBox="0 0 14 11"><path d="M1.5 1.2H12.5L7 9.8z" fill="none" stroke="#ddd" stroke-width="1.8"/></svg>
<svg class=a style="left:1303.3px;top:707px;" width="14" height="11" viewBox="0 0 14 11"><path d="M1.5 1.2H12.5L7 9.8z" fill="none" stroke="#ddd" stroke-width="1.8"/></svg>
<svg class=a style="left:1350.4px;top:707px;" width="14" height="11" viewBox="0 0 14 11"><path d="M1.5 1.2H12.5L7 9.8z" fill="none" stroke="#ddd" stroke-width="1.8"/></svg>
<svg class=a style="left:1446px;top:707px;" width="14" height="11" viewBox="0 0 14 11"><path d="M1.5 1.2H12.5L7 9.8z" fill="none" stroke="#ddd" stroke-width="1.8"/></svg>
<svg class=a style="left:1530.5px;top:707px;" width="14" height="11" viewBox="0 0 14 11"><path d="M1.5 1.2H12.5L7 9.8z" fill="none" stroke="#ddd" stroke-width="1.8"/></svg>
<svg class=a style="left:1723.4px;top:707px;" width="14" height="11" viewBox="0 0 14 11"><path d="M1.5 1.2H12.5L7 9.8z" fill="none" stroke="#ddd" stroke-width="1.8"/></svg>
<svg class=a style="left:0px;top:722px;" width="3022" height="12" viewBox="0 0 3022 12"><circle cx="1139.0" cy="6" r="5.2" fill="#8888DD"/><circle cx="1168.3" cy="6" r="5.2" fill="#8888DD"/><circle cx="1197.7" cy="6" r="5.2" fill="#8888DD"/><circle cx="1227.0" cy="6" r="5.2" fill="#8888DD"/><circle cx="1256.4" cy="6" r="5.2" fill="#8888DD"/><circle cx="1285.8" cy="6" r="5.2" fill="#8888DD"/><circle cx="1315.1" cy="6" r="5.2" fill="#8888DD"/><circle cx="1344.5" cy="6" r="5.2" fill="#8888DD"/><circle cx="1373.8" cy="6" r="5.2" fill="#8888DD"/><circle cx="1403.2" cy="6" r="5.2" fill="#8888DD"/><circle cx="1432.5" cy="6" r="5.2" fill="#8888DD"/><circle cx="1461.8" cy="6" r="5.2" fill="#8888DD"/><circle cx="1491.2" cy="6" r="5.2" fill="#8888DD"/><circle cx="1520.5" cy="6" r="5.2" fill="#8888DD"/><circle cx="1549.9" cy="6" r="5.2" fill="#8888DD"/><circle cx="1579.2" cy="6" r="5.2" fill="#8888DD"/><circle cx="1608.6" cy="6" r="5.2" fill="#8888DD"/><circle cx="1638.0" cy="6" r="5.2" fill="#8888DD"/><circle cx="1667.3" cy="6" r="5.2" fill="#8888DD"/><circle cx="1696.7" cy="6" r="5.2" fill="#8888DD"/><circle cx="1726.0" cy="6" r="5.2" fill="#8888DD"/><circle cx="1755.3" cy="6" r="5.2" fill="#8888DD"/><circle cx="1784.7" cy="6" r="5.2" fill="#8888DD"/><circle cx="1814.1" cy="6" r="5.2" fill="#8888DD"/><circle cx="1843.4" cy="6" r="5.2" fill="#8888DD"/><circle cx="1872.8" cy="6" r="5.2" fill="#8888DD"/><circle cx="1902.1" cy="6" r="5.2" fill="#8888DD"/><circle cx="1931.5" cy="6" r="5.2" fill="#8888DD"/><circle cx="1960.8" cy="6" r="5.2" fill="#8888DD"/><circle cx="1990.2" cy="6" r="5.2" fill="#8888DD"/><circle cx="2019.5" cy="6" r="5.2" fill="#8888DD"/><circle cx="2048.8" cy="6" r="5.2" fill="#8888DD"/><circle cx="2078.2" cy="6" r="5.2" fill="#8888DD"/><circle cx="2107.6" cy="6" r="5.2" fill="#8888DD"/><circle cx="2136.9" cy="6" r="5.2" fill="#8888DD"/><circle cx="2166.2" cy="6" r="5.2" fill="#8888DD"/><circle cx="2195.6" cy="6" r="5.2" fill="#8888DD"/><circle cx="2224.9" cy="6" r="5.2" fill="#8888DD"/><circle cx="2254.3" cy="6" r="5.2" fill="#8888DD"/><circle cx="2263.6" cy="6" r="5.2" fill="#8888DD"/></svg>
<div class=a style="left:5.0px;top:738.0px;width:1127.6px;height:3.0px;background:#DD2222"></div>
<div class=a style="left:1132.6px;top:738.0px;width:1131.4px;height:3.0px;background:#22DD22"></div>
<div class=a style="left:2264.0px;top:738.0px;width:758.0px;height:3.0px;background:#DD2222"></div>
<div class=z style="left:1140.8px;top:749.0px;width:55.9px;height:23px;background:#4A8F7A;line-height:23px;font-size:19.5px;color:#fff;overflow:hidden;text-align:left;text-shadow:1px 1px 0 #1a1a1a;box-shadow:inset 0 0 0 1px #5aa08a">Streaming worker task</div>
<div class=z style="left:1197.4px;top:749.0px;width:51.2px;height:23px;background:#4A8F7A;line-height:23px;font-size:19.5px;color:#fff;overflow:hidden;text-align:left;text-shadow:1px 1px 0 #1a1a1a;box-shadow:inset 0 0 0 1px #5aa08a">Streaming worker task</div>
<div class=z style="left:1249.0px;top:749.0px;width:46.0px;height:23px;background:#4A8F7A;line-height:23px;font-size:19.5px;color:#fff;overflow:hidden;text-align:left;text-shadow:1px 1px 0 #1a1a1a;box-shadow:inset 0 0 0 1px #5aa08a">Streaming</div>
<div class=z style="left:1296.0px;top:749.0px;width:45.8px;height:23px;background:#4A8F7A;line-height:23px;font-size:19.5px;color:#fff;overflow:hidden;text-align:left;text-shadow:1px 1px 0 #1a1a1a;box-shadow:inset 0 0 0 1px #5aa08a">Streaming</div>
<div class=z style="left:1342.0px;top:749.0px;width:88.8px;height:23px;background:#4A8F7A;line-height:23px;font-size:19.5px;color:#fff;overflow:hidden;text-align:left;text-shadow:1px 1px 0 #1a1a1a;box-shadow:inset 0 0 0 1px #5aa08a">Streaming worker task</div>
<div class=z style="left:1431.0px;top:749.0px;width:91.0px;height:23px;background:#4A8F7A;line-height:23px;font-size:19.5px;color:#fff;overflow:hidden;text-align:left;text-shadow:1px 1px 0 #1a1a1a;box-shadow:inset 0 0 0 1px #5aa08a">Streaming worker task</div>
<div class=z style="left:1522.8px;top:749.0px;width:190.2px;height:23px;background:#4A8F7A;line-height:23px;font-size:19.5px;color:#fff;overflow:hidden;text-align:left;text-shadow:1px 1px 0 #1a1a1a;box-shadow:inset 0 0 0 1px #5aa08a">Streaming worker task</div>
<div class=z style="left:1713.0px;top:749.0px;width:532.4px;height:23px;background:#4A8F7A;line-height:23px;font-size:19.5px;color:#fff;overflow:hidden;text-align:center;text-shadow:1px 1px 0 #1a1a1a;box-shadow:inset 0 0 0 1px #5aa08a">Streaming worker task</div>
<div class=z style="left:2245.4px;top:749.0px;width:15.3px;height:23px;background:#4A8F7A;line-height:23px;font-size:19.5px;color:#fff;overflow:hidden;text-align:left;text-shadow:1px 1px 0 #1a1a1a;box-shadow:inset 0 0 0 1px #5aa08a">St</div>
<div class=z style="left:1167.0px;top:773.0px;width:15.7px;height:23px;background:#4A8F7A;line-height:23px;font-size:19.5px;color:#fff;overflow:hidden;text-align:left;text-shadow:1px 1px 0 #1a1a1a;box-shadow:inset 0 0 0 1px #5aa08a">Lo</div>
<div class=z style="left:1182.7px;top:773.0px;width:14.0px;height:23px;background:#4A8F7A;line-height:23px;font-size:19.5px;color:#fff;overflow:hidden;text-align:left;text-shadow:1px 1px 0 #1a1a1a;box-shadow:inset 0 0 0 1px #5aa08a">U</div>
<div class=z style="left:1207.8px;top:773.0px;width:22.6px;height:23px;background:#4A8F7A;line-height:23px;font-size:19.5px;color:#fff;overflow:hidden;text-align:left;text-shadow:1px 1px 0 #1a1a1a;box-shadow:inset 0 0 0 1px #5aa08a">Lo</div>
<div class=z style="left:1231.0px;top:773.0px;width:17.4px;height:23px;background:#4A8F7A;line-height:23px;font-size:19.5px;color:#fff;overflow:hidden;text-align:left;text-shadow:1px 1px 0 #1a1a1a;box-shadow:inset 0 0 0 1px #5aa08a">U</div>
<div class=z style="left:1259.0px;top:773.0px;width:23.0px;height:23px;background:#4A8F7A;line-height:23px;font-size:19.5px;color:#fff;overflow:hidden;text-align:left;text-shadow:1px 1px 0 #1a1a1a;box-shadow:inset 0 0 0 1px #5aa08a">Lo</div>
<div class=z style="left:1283.0px;top:773.0px;width:12.0px;height:23px;background:#4A8F7A;line-height:23px;font-size:19.5px;color:#fff;overflow:hidden;text-align:left;text-shadow:1px 1px 0 #1a1a1a;box-shadow:inset 0 0 0 1px #5aa08a">U</div>
<div class=z style="left:1305.0px;top:773.0px;width:23.0px;height:23px;background:#4A8F7A;line-height:23px;font-size:19.5px;color:#fff;overflow:hidden;text-align:left;text-shadow:1px 1px 0 #1a1a1a;box-shadow:inset 0 0 0 1px #5aa08a">Lo</div>
<div class=z style="left:1329.0px;top:773.0px;width:12.8px;height:23px;background:#4A8F7A;line-height:23px;font-size:19.5px;color:#fff;overflow:hidden;text-align:left;text-shadow:1px 1px 0 #1a1a1a;box-shadow:inset 0 0 0 1px #5aa08a">U</div>
<div class=z style="left:1352.0px;top:773.0px;width:64.8px;height:23px;background:#4A8F7A;line-height:23px;font-size:19.5px;color:#fff;overflow:hidden;text-align:left;text-shadow:1px 1px 0 #1a1a1a;box-shadow:inset 0 0 0 1px #5aa08a">LoadData</div>
<div class=z style="left:1417.0px;top:773.0px;width:13.8px;height:23px;background:#4A8F7A;line-height:23px;font-size:19.5px;color:#fff;overflow:hidden;text-align:left;text-shadow:1px 1px 0 #1a1a1a;box-shadow:inset 0 0 0 1px #5aa08a">U</div>
<div class=z style="left:1440.8px;top:773.0px;width:68.0px;height:23px;background:#4A8F7A;line-height:23px;font-size:19.5px;color:#fff;overflow:hidden;text-align:left;text-shadow:1px 1px 0 #1a1a1a;box-shadow:inset 0 0 0 1px #5aa08a">LoadData</div>
<div class=z style="left:1509.0px;top:773.0px;width:13.0px;height:23px;background:#4A8F7A;line-height:23px;font-size:19.5px;color:#fff;overflow:hidden;text-align:left;text-shadow:1px 1px 0 #1a1a1a;box-shadow:inset 0 0 0 1px #5aa08a">U</div>
<div class=z style="left:1532.0px;top:773.0px;width:169.0px;height:23px;background:#4A8F7A;line-height:23px;font-size:19.5px;color:#fff;overflow:hidden;text-align:center;text-shadow:1px 1px 0 #1a1a1a;box-shadow:inset 0 0 0 1px #5aa08a">LoadData</div>
<div class=z style="left:1701.0px;top:773.0px;width:12.0px;height:23px;background:#4A8F7A;line-height:23px;font-size:19.5px;color:#fff;overflow:hidden;text-align:left;text-shadow:1px 1px 0 #1a1a1a;box-shadow:inset 0 0 0 1px #5aa08a">U</div>
<div class=z style="left:1724.0px;top:773.0px;width:507.9px;height:23px;background:#4A8F7A;line-height:23px;font-size:19.5px;color:#fff;overflow:hidden;text-align:center;text-shadow:1px 1px 0 #1a1a1a;box-shadow:inset 0 0 0 1px #5aa08a">LoadData</div>
<div class=z style="left:2231.9px;top:773.0px;width:14.1px;height:23px;background:#4A8F7A;line-height:23px;font-size:19.5px;color:#fff;overflow:hidden;text-align:left;text-shadow:1px 1px 0 #1a1a1a;box-shadow:inset 0 0 0 1px #5aa08a">U</div>
<div class=a style="left:1159.0px;top:773.0px;width:3.4px;height:23.0px;background:#8E5AA5"></div>
<div class=a style="left:1203.0px;top:773.0px;width:3.0px;height:23.0px;background:#8E5AA5"></div>
<div class=a style="left:1253.0px;top:773.0px;width:3.0px;height:23.0px;background:#8E5AA5"></div>
<div class=a style="left:1300.0px;top:773.0px;width:3.0px;height:23.0px;background:#8E5AA5"></div>
<div class=a style="left:1347.0px;top:773.0px;width:3.0px;height:23.0px;background:#8E5AA5"></div>
<div class=a style="left:1436.0px;top:773.0px;width:3.0px;height:23.0px;background:#8E5AA5"></div>
<div class=a style="left:1527.0px;top:773.0px;width:3.5px;height:23.0px;background:#8E5AA5"></div>
<div class=a style="left:1719.0px;top:773.0px;width:3.0px;height:23.0px;background:#8E5AA5"></div>
<div class=a style="left:2250.5px;top:773.0px;width:3.5px;height:23.0px;background:#8E5AA5"></div>
<div class=a style="left:2258.0px;top:773.0px;width:2.7px;height:23.0px;background:#8E5AA5"></div>
<div class=a style="left:1159.0px;top:797.0px;width:3.0px;height:23.0px;background:#8E5AA5"></div>
<div class=a style="left:1167.0px;top:797.0px;width:3.0px;height:23.0px;background:#8E5AA5"></div>
<div class=a style="left:1173.0px;top:797.0px;width:4.0px;height:23.0px;background:#8E5AA5"></div>
<div class=a style="left:1187.0px;top:797.0px;width:8.5px;height:23.0px;background:#8E5AA5"></div>
<div class=a style="left:1222.0px;top:797.0px;width:3.0px;height:23.0px;background:#8E5AA5"></div>
<div class=a style="left:1240.0px;top:797.0px;width:7.0px;height:23.0px;background:#8E5AA5"></div>
<div class=a style="left:1273.5px;top:797.0px;width:3.5px;height:23.0px;background:#8E5AA5"></div>
<div class=a style="left:1287.0px;top:797.0px;width:7.0px;height:23.0px;background:#8E5AA5"></div>
<div class=a style="left:1319.0px;top:797.0px;width:3.5px;height:23.0px;background:#8E5AA5"></div>
<div class=a style="left:1333.0px;top:797.0px;width:7.0px;height:23.0px;background:#8E5AA5"></div>
<div class=a style="left:1366.0px;top:797.0px;width:4.0px;height:23.0px;background:#8E5AA5"></div>
<div class=a style="left:1372.0px;top:797.0px;width:3.0px;height:23.0px;background:#8E5AA5"></div>
<div class=a style="left:1421.0px;top:797.0px;width:8.0px;height:23.0px;background:#8E5AA5"></div>
<div class=a style="left:1462.7px;top:797.0px;width:3.0px;height:23.0px;background:#8E5AA5"></div>
<div class=a style="left:1467.6px;top:797.0px;width:3.4px;height:23.0px;background:#8E5AA5"></div>
<div class=a style="left:1512.0px;top:797.0px;width:4.0px;height:23.0px;background:#8E5AA5"></div>
<div class=a style="left:1546.0px;top:797.0px;width:3.6px;height:23.0px;background:#8E5AA5"></div>
<div class=a style="left:1552.0px;top:797.0px;width:2.7px;height:23.0px;background:#8E5AA5"></div>
<div class=a style="left:1599.6px;top:797.0px;width:3.1px;height:23.0px;background:#8E5AA5"></div>
<div class=a style="left:1649.0px;top:797.0px;width:3.0px;height:23.0px;background:#8E5AA5"></div>
<div class=a style="left:1704.5px;top:797.0px;width:3.5px;height:23.0px;background:#8E5AA5"></div>
<div class=a style="left:1738.7px;top:797.0px;width:3.0px;height:23.0px;background:#8E5AA5"></div>
<div class=a style="left:1744.0px;top:797.0px;width:3.0px;height:23.0px;background:#8E5AA5"></div>
<div class=a style="left:1803.0px;top:797.0px;width:3.0px;height:23.0px;background:#8E5AA5"></div>
<div class=a style="left:1858.0px;top:797.0px;width:3.0px;height:23.0px;background:#8E5AA5"></div>
<div class=a style="left:1909.0px;top:797.0px;width:2.7px;height:23.0px;background:#8E5AA5"></div>
<div class=a style="left:1957.0px;top:797.0px;width:3.0px;height:23.0px;background:#8E5AA5"></div>
<div class=a style="left:2005.8px;top:797.0px;width:3.2px;height:23.0px;background:#8E5AA5"></div>
<div class=a style="left:2057.0px;top:797.0px;width:3.0px;height:23.0px;background:#8E5AA5"></div>
<div class=a style="left:2109.8px;top:797.0px;width:2.9px;height:23.0px;background:#8E5AA5"></div>
<div class=a style="left:2168.0px;top:797.0px;width:2.6px;height:23.0px;background:#8E5AA5"></div>
<div class=a style="left:2236.0px;top:797.0px;width:7.8px;height:23.0px;background:#8E5AA5"></div>
<div class=a style="left:2251.0px;top:797.0px;width:3.0px;height:23.0px;background:#8E5AA5"></div>
<div class=z style="left:1207.8px;top:797.0px;width:9.2px;height:23px;background:#8A0C0C;line-height:23px;font-size:19.5px;color:#fff;overflow:hidden;text-align:left;text-shadow:1px 1px 0 #1a1a1a">C</div>
<div class=z style="left:1259.0px;top:797.0px;width:9.0px;height:23px;background:#8A0C0C;line-height:23px;font-size:19.5px;color:#fff;overflow:hidden;text-align:left;text-shadow:1px 1px 0 #1a1a1a">C</div>
<div class=z style="left:1305.0px;top:797.0px;width:8.8px;height:23px;background:#8A0C0C;line-height:23px;font-size:19.5px;color:#fff;overflow:hidden;text-align:left;text-shadow:1px 1px 0 #1a1a1a">C</div>
<div class=z style="left:1352.0px;top:797.0px;width:9.0px;height:23px;background:#8A0C0C;line-height:23px;font-size:19.5px;color:#fff;overflow:hidden;text-align:left;text-shadow:1px 1px 0 #1a1a1a">C</div>
<div class=z style="left:1440.8px;top:797.0px;width:15.2px;height:23px;background:#8A0C0C;line-height:23px;font-size:19.5px;color:#fff;overflow:hidden;text-align:left;text-shadow:1px 1px 0 #1a1a1a">C</div>
<div class=z style="left:1532.0px;top:797.0px;width:9.0px;height:23px;background:#8A0C0C;line-height:23px;font-size:19.5px;color:#fff;overflow:hidden;text-align:left;text-shadow:1px 1px 0 #1a1a1a">C</div>
<div class=z style="left:1724.0px;top:797.0px;width:9.8px;height:23px;background:#8A0C0C;line-height:23px;font-size:19.5px;color:#fff;overflow:hidden;text-align:left;text-shadow:1px 1px 0 #1a1a1a">C</div>
<div class=a style="left:1173.0px;top:821.0px;width:4.0px;height:23.0px;background:#8E5AA5"></div>
<div class=a style="left:1222.0px;top:821.0px;width:3.0px;height:23.0px;background:#8E5AA5"></div>
<div class=a style="left:1273.5px;top:821.0px;width:3.5px;height:23.0px;background:#8E5AA5"></div>
<div class=a style="left:1319.0px;top:821.0px;width:3.5px;height:23.0px;background:#8E5AA5"></div>
<div class=a style="left:1366.0px;top:821.0px;width:3.5px;height:23.0px;background:#8E5AA5"></div>
<div class=a style="left:1462.7px;top:821.0px;width:3.0px;height:23.0px;background:#8E5AA5"></div>
<div class=a style="left:1546.0px;top:821.0px;width:3.6px;height:23.0px;background:#8E5AA5"></div>
<div class=a style="left:1738.7px;top:821.0px;width:3.0px;height:23.0px;background:#8E5AA5"></div>
<svg class=a style="left:5px;top:857.0px;" width="13" height="8" viewBox="0 0 13 8"><path d="M0 0H13L6.5 8z" fill="#DDDD88"/></svg>
<svg class=a style="left:28px;top:852px;" width="25" height="18" viewBox="0 0 25 18"><path d="M1 2h22v10H1z" fill="#DDDD66"/><path d="M5 4v6M9 4v6M13 4v6M17 4v6M20.5 4v6" stroke="#21231C" stroke-width="2"/><path d="M1 13h22v3H1z" fill="#DDDD66"/></svg>
<div class=t style="left:57.0px;top:851.8px;color:#DDDD88">Memory usage</div>
<div class=t style="left:200.0px;top:851.8px;color:#99994D">(y-range: 30.88 KB, visible data points: 787)</div>
<div class=a style="left:5.0px;top:871.0px;width:3017.0px;height:154.0px;background:rgba(0,0,0,0.06)"></div>
<div class=a style="left:5.0px;top:871.0px;width:3017.0px;height:1.0px;background:#77772E"></div>
<div class=a style="left:5.0px;top:1024.5px;width:3017.0px;height:1.0px;background:#77772E"></div>
<svg class=a style="left:0px;top:860px;" width="3022" height="170" viewBox="0 0 3022 170"><path d="M5.0 63.5 L152.0 63.5 L155.0 62.0 L192.0 61.7 L260.0 56.0 L340.0 48.0 L420.0 41.0 L435.0 38.0 L436.0 13.5 L470.0 18.0 L540.0 24.0 L611.6 35.8 L630.0 33.0 L642.8 24.6 L647.0 13.0 L650.0 18.0 L654.0 21.0 L654.0 46.0 L718.8 39.0 L720.0 32.7 L768.0 38.0 L785.0 36.0 L792.0 32.7 L799.0 41.0 L968.8 41.0 L1004.0 37.0 L1125.0 35.8 L1145.5 39.0 L1180.0 38.0 L2990.0 38.0 L3000.0 106.0 L3022.0 106.0 L3022 164 L5 164z" fill="#2F2818"/><path d="M5.0 63.5 L152.0 63.5 L155.0 62.0 L192.0 61.7 L260.0 56.0 L340.0 48.0 L420.0 41.0 L435.0 38.0 L436.0 13.5 L470.0 18.0 L540.0 24.0 L611.6 35.8 L630.0 33.0 L642.8 24.6 L647.0 13.0 L650.0 18.0 L654.0 21.0 L654.0 46.0 L718.8 39.0 L720.0 32.7 L768.0 38.0 L785.0 36.0 L792.0 32.7 L799.0 41.0 L968.8 41.0 L1004.0 37.0 L1125.0 35.8 L1145.5 39.0 L1180.0 38.0 L2990.0 38.0 L3000.0 106.0 L3022.0 106.0" fill="none" stroke="#E07830" stroke-width="1.6"/><g fill="none" stroke="#E07830" stroke-width="1.1"><rect x="150.2" y="61.7" width="3.6" height="3.6"/><rect x="154.2" y="60.2" width="3.6" height="3.6"/><rect x="158.2" y="60.2" width="3.6" height="3.6"/><rect x="183.2" y="60.0" width="3.6" height="3.6"/><rect x="186.2" y="59.9" width="3.6" height="3.6"/><rect x="189.2" y="59.9" width="3.6" height="3.6"/><rect x="192.2" y="59.7" width="3.6" height="3.6"/><rect x="208.2" y="58.4" width="3.6" height="3.6"/><rect x="213.7" y="57.9" width="3.6" height="3.6"/><rect x="219.2" y="57.5" width="3.6" height="3.6"/><rect x="224.7" y="57.0" width="3.6" height="3.6"/><rect x="230.2" y="56.5" width="3.6" height="3.6"/><rect x="235.7" y="56.1" width="3.6" height="3.6"/><rect x="241.2" y="55.6" width="3.6" height="3.6"/><rect x="246.7" y="55.2" width="3.6" height="3.6"/><rect x="252.2" y="54.7" width="3.6" height="3.6"/><rect x="257.7" y="54.2" width="3.6" height="3.6"/><rect x="263.2" y="53.7" width="3.6" height="3.6"/><rect x="268.7" y="53.2" width="3.6" height="3.6"/><rect x="274.2" y="52.6" width="3.6" height="3.6"/><rect x="279.7" y="52.1" width="3.6" height="3.6"/><rect x="285.2" y="51.5" width="3.6" height="3.6"/><rect x="290.7" y="51.0" width="3.6" height="3.6"/><rect x="296.2" y="50.4" width="3.6" height="3.6"/><rect x="301.7" y="49.8" width="3.6" height="3.6"/><rect x="307.2" y="49.3" width="3.6" height="3.6"/><rect x="312.7" y="48.7" width="3.6" height="3.6"/><rect x="318.2" y="48.2" width="3.6" height="3.6"/><rect x="323.7" y="47.7" width="3.6" height="3.6"/><rect x="329.2" y="47.1" width="3.6" height="3.6"/><rect x="334.7" y="46.6" width="3.6" height="3.6"/><rect x="340.2" y="46.0" width="3.6" height="3.6"/><rect x="345.7" y="45.5" width="3.6" height="3.6"/><rect x="351.2" y="45.1" width="3.6" height="3.6"/><rect x="356.7" y="44.6" width="3.6" height="3.6"/><rect x="362.2" y="44.1" width="3.6" height="3.6"/><rect x="367.7" y="43.6" width="3.6" height="3.6"/><rect x="373.2" y="43.1" width="3.6" height="3.6"/><rect x="378.7" y="42.7" width="3.6" height="3.6"/><rect x="384.2" y="42.2" width="3.6" height="3.6"/><rect x="389.7" y="41.7" width="3.6" height="3.6"/><rect x="395.2" y="41.2" width="3.6" height="3.6"/><rect x="400.7" y="40.7" width="3.6" height="3.6"/><rect x="406.2" y="40.2" width="3.6" height="3.6"/><rect x="411.7" y="39.8" width="3.6" height="3.6"/><rect x="417.2" y="39.3" width="3.6" height="3.6"/><rect x="422.7" y="38.3" width="3.6" height="3.6"/><rect x="428.2" y="37.2" width="3.6" height="3.6"/><rect x="435.2" y="11.8" width="3.6" height="3.6"/><rect x="439.4" y="12.4" width="3.6" height="3.6"/><rect x="443.6" y="12.9" width="3.6" height="3.6"/><rect x="447.8" y="13.5" width="3.6" height="3.6"/><rect x="452.0" y="14.1" width="3.6" height="3.6"/><rect x="456.2" y="14.6" width="3.6" height="3.6"/><rect x="460.4" y="15.2" width="3.6" height="3.6"/><rect x="464.6" y="15.7" width="3.6" height="3.6"/><rect x="468.8" y="16.3" width="3.6" height="3.6"/><rect x="473.0" y="16.6" width="3.6" height="3.6"/><rect x="477.2" y="17.0" width="3.6" height="3.6"/><rect x="481.4" y="17.3" width="3.6" height="3.6"/><rect x="485.6" y="17.7" width="3.6" height="3.6"/><rect x="489.8" y="18.1" width="3.6" height="3.6"/><rect x="494.0" y="18.4" width="3.6" height="3.6"/><rect x="498.2" y="18.8" width="3.6" height="3.6"/><rect x="502.4" y="19.1" width="3.6" height="3.6"/><rect x="506.6" y="19.5" width="3.6" height="3.6"/><rect x="510.8" y="19.9" width="3.6" height="3.6"/><rect x="515.0" y="20.2" width="3.6" height="3.6"/><rect x="519.2" y="20.6" width="3.6" height="3.6"/><rect x="523.4" y="20.9" width="3.6" height="3.6"/><rect x="527.6" y="21.3" width="3.6" height="3.6"/><rect x="531.8" y="21.7" width="3.6" height="3.6"/><rect x="536.0" y="22.0" width="3.6" height="3.6"/><rect x="540.2" y="22.5" width="3.6" height="3.6"/><rect x="544.4" y="23.2" width="3.6" height="3.6"/><rect x="548.6" y="23.9" width="3.6" height="3.6"/><rect x="552.8" y="24.6" width="3.6" height="3.6"/><rect x="557.0" y="25.3" width="3.6" height="3.6"/><rect x="561.2" y="26.0" width="3.6" height="3.6"/><rect x="565.4" y="26.7" width="3.6" height="3.6"/><rect x="569.6" y="27.4" width="3.6" height="3.6"/><rect x="573.8" y="28.1" width="3.6" height="3.6"/><rect x="578.0" y="28.8" width="3.6" height="3.6"/><rect x="582.2" y="29.5" width="3.6" height="3.6"/><rect x="586.4" y="30.1" width="3.6" height="3.6"/><rect x="590.6" y="30.8" width="3.6" height="3.6"/><rect x="594.8" y="31.5" width="3.6" height="3.6"/><rect x="599.0" y="32.2" width="3.6" height="3.6"/><rect x="603.2" y="32.9" width="3.6" height="3.6"/><rect x="607.4" y="33.6" width="3.6" height="3.6"/><rect x="610.2" y="33.9" width="3.6" height="3.6"/><rect x="613.2" y="33.5" width="3.6" height="3.6"/><rect x="616.2" y="33.0" width="3.6" height="3.6"/><rect x="619.2" y="32.6" width="3.6" height="3.6"/><rect x="622.2" y="32.1" width="3.6" height="3.6"/><rect x="625.2" y="31.7" width="3.6" height="3.6"/><rect x="628.2" y="31.2" width="3.6" height="3.6"/><rect x="631.2" y="29.2" width="3.6" height="3.6"/><rect x="634.2" y="27.3" width="3.6" height="3.6"/><rect x="637.2" y="25.3" width="3.6" height="3.6"/><rect x="640.2" y="23.3" width="3.6" height="3.6"/><rect x="643.2" y="16.7" width="3.6" height="3.6"/><rect x="646.2" y="12.9" width="3.6" height="3.6"/><rect x="649.2" y="16.9" width="3.6" height="3.6"/><rect x="652.2" y="19.2" width="3.6" height="3.6"/><rect x="653.2" y="44.1" width="3.6" height="3.6"/><rect x="657.7" y="43.6" width="3.6" height="3.6"/><rect x="662.2" y="43.1" width="3.6" height="3.6"/><rect x="666.7" y="42.6" width="3.6" height="3.6"/><rect x="671.2" y="42.1" width="3.6" height="3.6"/><rect x="675.7" y="41.7" width="3.6" height="3.6"/><rect x="680.2" y="41.2" width="3.6" height="3.6"/><rect x="684.7" y="40.7" width="3.6" height="3.6"/><rect x="689.2" y="40.2" width="3.6" height="3.6"/><rect x="693.7" y="39.7" width="3.6" height="3.6"/><rect x="698.2" y="39.2" width="3.6" height="3.6"/><rect x="702.7" y="38.7" width="3.6" height="3.6"/><rect x="707.2" y="38.3" width="3.6" height="3.6"/><rect x="711.7" y="37.8" width="3.6" height="3.6"/><rect x="716.2" y="37.3" width="3.6" height="3.6"/><rect x="718.2" y="30.9" width="3.6" height="3.6"/><rect x="722.0" y="31.3" width="3.6" height="3.6"/><rect x="725.8" y="31.7" width="3.6" height="3.6"/><rect x="729.6" y="32.2" width="3.6" height="3.6"/><rect x="733.4" y="32.6" width="3.6" height="3.6"/><rect x="737.2" y="33.0" width="3.6" height="3.6"/><rect x="741.0" y="33.4" width="3.6" height="3.6"/><rect x="744.8" y="33.8" width="3.6" height="3.6"/><rect x="748.6" y="34.3" width="3.6" height="3.6"/><rect x="752.4" y="34.7" width="3.6" height="3.6"/><rect x="756.2" y="35.1" width="3.6" height="3.6"/><rect x="760.0" y="35.5" width="3.6" height="3.6"/><rect x="763.8" y="35.9" width="3.6" height="3.6"/><rect x="767.6" y="36.0" width="3.6" height="3.6"/><rect x="771.4" y="35.6" width="3.6" height="3.6"/><rect x="775.2" y="35.1" width="3.6" height="3.6"/><rect x="779.0" y="34.7" width="3.6" height="3.6"/><rect x="782.8" y="34.2" width="3.6" height="3.6"/><rect x="786.6" y="32.6" width="3.6" height="3.6"/><rect x="790.4" y="31.1" width="3.6" height="3.6"/><rect x="794.2" y="35.6" width="3.6" height="3.6"/><rect x="798.2" y="39.2" width="3.6" height="3.6"/><rect x="807.2" y="39.2" width="3.6" height="3.6"/><rect x="816.2" y="39.2" width="3.6" height="3.6"/><rect x="825.2" y="39.2" width="3.6" height="3.6"/><rect x="834.2" y="39.2" width="3.6" height="3.6"/><rect x="843.2" y="39.2" width="3.6" height="3.6"/><rect x="852.2" y="39.2" width="3.6" height="3.6"/><rect x="861.2" y="39.2" width="3.6" height="3.6"/><rect x="878.2" y="39.2" width="3.6" height="3.6"/><rect x="885.2" y="39.2" width="3.6" height="3.6"/><rect x="892.2" y="39.2" width="3.6" height="3.6"/><rect x="899.2" y="39.2" width="3.6" height="3.6"/><rect x="906.2" y="39.2" width="3.6" height="3.6"/><rect x="913.2" y="39.2" width="3.6" height="3.6"/><rect x="920.2" y="39.2" width="3.6" height="3.6"/><rect x="927.2" y="39.2" width="3.6" height="3.6"/><rect x="934.2" y="39.2" width="3.6" height="3.6"/><rect x="941.2" y="39.2" width="3.6" height="3.6"/><rect x="948.2" y="39.2" width="3.6" height="3.6"/><rect x="955.2" y="39.2" width="3.6" height="3.6"/><rect x="962.2" y="39.2" width="3.6" height="3.6"/><rect x="1002.2" y="35.2" width="3.6" height="3.6"/><rect x="1008.2" y="35.1" width="3.6" height="3.6"/><rect x="1014.2" y="35.1" width="3.6" height="3.6"/><rect x="1020.2" y="35.0" width="3.6" height="3.6"/><rect x="1026.2" y="35.0" width="3.6" height="3.6"/><rect x="1032.2" y="34.9" width="3.6" height="3.6"/><rect x="1038.2" y="34.8" width="3.6" height="3.6"/><rect x="1044.2" y="34.8" width="3.6" height="3.6"/><rect x="1050.2" y="34.7" width="3.6" height="3.6"/><rect x="1056.2" y="34.7" width="3.6" height="3.6"/><rect x="1062.2" y="34.6" width="3.6" height="3.6"/><rect x="1068.2" y="34.5" width="3.6" height="3.6"/><rect x="1074.2" y="34.5" width="3.6" height="3.6"/><rect x="1080.2" y="34.4" width="3.6" height="3.6"/><rect x="1086.2" y="34.4" width="3.6" height="3.6"/><rect x="1092.2" y="34.3" width="3.6" height="3.6"/><rect x="1098.2" y="34.2" width="3.6" height="3.6"/><rect x="1104.2" y="34.2" width="3.6" height="3.6"/><rect x="1110.2" y="34.1" width="3.6" height="3.6"/><rect x="1116.2" y="34.1" width="3.6" height="3.6"/><rect x="1122.2" y="34.0" width="3.6" height="3.6"/><rect x="1128.2" y="34.8" width="3.6" height="3.6"/><rect x="1134.2" y="35.7" width="3.6" height="3.6"/><rect x="1140.2" y="36.7" width="3.6" height="3.6"/><rect x="2228.2" y="36.2" width="3.6" height="3.6"/><rect x="2234.2" y="36.2" width="3.6" height="3.6"/><rect x="2240.2" y="36.2" width="3.6" height="3.6"/><rect x="2246.2" y="36.2" width="3.6" height="3.6"/><rect x="2252.2" y="36.2" width="3.6" height="3.6"/><rect x="2258.2" y="36.2" width="3.6" height="3.6"/><rect x="2264.2" y="36.2" width="3.6" height="3.6"/><rect x="2270.2" y="36.2" width="3.6" height="3.6"/></g></svg>
<div class=t style="left:5.0px;top:875.4px;color:#E07830;text-shadow:1px 1px #000">294.19 MB</div>
<div class=t style="left:5.0px;top:1004.8px;color:#E07830;text-shadow:1px 1px #000">294.16 MB</div>
<svg class=a style="left:5px;top:1038.0px;" width="13" height="8" viewBox="0 0 13 8"><path d="M0 0H13L6.5 8z" fill="#DDDD88"/></svg>
<svg class=a style="left:28px;top:1032px;" width="21" height="21" viewBox="0 0 21 21"><circle cx="10.5" cy="10.5" r="10" fill="#DDDD66"/><path d="M10.5 10.5L15 5" stroke="#21231C" stroke-width="2.2"/><circle cx="10.5" cy="11" r="2" fill="#21231C"/><path d="M4 14a7 7 0 0 1 2-8" stroke="#21231C" stroke-width="1.6" fill="none"/></svg>
<div class=t style="left:54.5px;top:1032.8px;color:#DDDD88">CPU usage</div>
<div class=t style="left:159.4px;top:1032.8px;color:#99994D">(y-range: 0.78%, visible data points: 2)</div>
<div class=a style="left:5.0px;top:1052.0px;width:3017.0px;height:1.0px;background:#77772E"></div>
<div class=a style="left:5.0px;top:1204.0px;width:3017.0px;height:1.0px;background:#77772E"></div>
<svg class=a style="left:0px;top:1050px;" width="3022" height="160" viewBox="0 0 3022 160"><path d="M5 17 L70 17.5 L1150 24 L2990 31 L3010 16 L3022 16 L3022 154 L5 154z" fill="#1A2E2A"/><path d="M70 17.5 L1150 24 L2990 31 L3010 16 L3022 16" stroke="#22AABB" stroke-width="1.6" fill="none"/></svg>
<div class=t style="left:5.0px;top:1056.8px;color:#33B8C8;text-shadow:1px 1px #000">17.86%</div>
<div class=t style="left:5.0px;top:1186.8px;color:#33B8C8;text-shadow:1px 1px #000">17.08%</div>
<div class=a style="left:19.0px;top:1089.0px;width:1115.0px;height:516.0px;background:#1C1D17;box-sizing:border-box;border:1px solid #46464E"></div>
<div class=a style="left:19.0px;top:1089.0px;width:1115.0px;height:30.0px;background:#0A0A0A;box-sizing:border-box;border:1px solid #46464E"></div>
<svg class=a style="left:30.5px;top:1097.0px;" width="16" height="14" viewBox="0 0 16 14"><path d="M0.5 1H15.5L8 13.5z" fill="#fff"/></svg>
<div class=t style="left:55.0px;top:1094.8px">Statistics</div>
<svg class=a style="left:1107.5px;top:1096.0px;" width="16" height="16" viewBox="0 0 16 16"><path d="M1 1L15 15M15 1L1 15" stroke="#e8e8e8" stroke-width="1.6"/></svg>
<div class=a style="left:31.2px;top:1132.2px;width:25.0px;height:25.0px;background:#23354C;border-radius:50%;box-sizing:border-box;border:1px solid #3a4150"></div>
<div class=a style="left:34.8px;top:1135.7px;width:18.0px;height:18.0px;background:#4296FA;border-radius:50%"></div>
<svg class=a style="left:62.5px;top:1133.5px;" width="22" height="22" viewBox="0 0 22 22"><g transform="rotate(45 11 11)"><rect x="8" y="5" width="6" height="11" fill="#fff"/><rect x="10.3" y="1.5" width="1.4" height="4" fill="#fff"/><rect x="7.5" y="0.5" width="7" height="1.8" fill="#fff"/><rect x="10.4" y="16" width="1.2" height="6" fill="#fff"/><path d="M8 8h3M8 11h3M8 14h3" stroke="#1C1D17" stroke-width="1"/></g></svg>
<div class=t style="left:88.4px;top:1135.5px">Instrumentation</div>
<div class=a style="left:261.6px;top:1132.2px;width:25.0px;height:25.0px;background:#23354C;border-radius:50%;box-sizing:border-box;border:1px solid #3a4150"></div>
<svg class=a style="left:293.5px;top:1133.5px;" width="22" height="22" viewBox="0 0 22 22"><g transform="rotate(45 11 11)"><rect x="8" y="0.5" width="6" height="8" rx="3" fill="#fff"/><rect x="6.5" y="7.5" width="9" height="2.2" fill="#fff"/><path d="M9 9.7h4v8.5l-2 3.5-2-3.5z" fill="#fff"/></g></svg>
<div class=t style="left:319.6px;top:1135.5px">Sampling</div>
<div class=a style="left:426.0px;top:1131.0px;width:1.0px;height:27.0px;background:#45454B"></div>
<div class=t style="left:450.0px;top:1135.5px;color:#808080">Total zone count:</div>
<div class=t style="left:613.8px;top:1135.5px">206</div>
<div class=t style="left:671.0px;top:1135.5px;color:#808080">Visible zones:</div>
<div class=t style="left:803.6px;top:1135.5px">206</div>
<div class=t style="left:859.4px;top:1135.5px">Timing</div>
<div class=a style="left:931.7px;top:1131.3px;width:174.5px;height:27.2px;background:#23354C;border-radius:5px;box-sizing:border-box;border:1px solid #3a4150"></div>
<div class=a style="left:1079.5px;top:1131.3px;width:26.8px;height:27.2px;background:#3D6FA8;border-radius:0 5px 5px 0"></div>
<svg class=a style="left:1085px;top:1138px;" width="15" height="13" viewBox="0 0 15 13"><path d="M0.5 1H14.5L7.5 12.5z" fill="#fff"/></svg>
<div class=t style="left:934.0px;top:1135.5px">Self only</div>
<div class=a style="left:24.0px;top:1164.0px;width:1106.0px;height:1.0px;background:#45454B"></div>
<div class=t style="left:30.4px;top:1174.4px;color:#808080">Filter results</div>
<div class=a style="left:154.0px;top:1170.0px;width:199.6px;height:27.0px;background:#23354C;border-radius:5px;box-sizing:border-box;border:1px solid #3a4150"></div>
<svg class=a style="left:361px;top:1174px;" width="19" height="19" viewBox="0 0 19 19"><path d="M1 1H18L11.5 9V17L7.5 15V9z" fill="#fff"/></svg>
<div class=a style="left:392.9px;top:1170.0px;width:79.0px;height:27.0px;background:#2B4D72;border-radius:6px;box-sizing:border-box;border:1px solid #4b5a70"></div>
<svg class=a style="left:399px;top:1176px;" width="24" height="15" viewBox="0 0 24 15"><path d="M7 1H23V14H7L1 7.5z" fill="#fff"/><path d="M11.5 4.5L17 10M17 4.5L11.5 10" stroke="#2B4D72" stroke-width="2"/></svg>
<div class=t style="left:425.0px;top:1174.4px">Clear</div>
<div class=a style="left:496.4px;top:1170.6px;width:26.0px;height:26.0px;background:#23354C;border-radius:5px;box-sizing:border-box;border:1px solid #3a4150"></div>
<div class=t style="left:530.0px;top:1174.4px">Limit range</div>
<div class=a style="left:24.0px;top:1203.0px;width:1106.0px;height:1.0px;background:#45454B"></div>
<div class=a style="left:30.0px;top:1209.0px;width:1071.8px;height:30.0px;background:#303033"></div>
<div class=a style="left:30.0px;top:1238.5px;width:1071.8px;height:1.0px;background:#50505A"></div>
<div class=t style="left:30.4px;top:1214.5px">Name</div>
<div class=t style="left:273.2px;top:1214.5px">Location</div>
<div class=t style="left:730.8px;top:1214.5px">Total time</div>
<div class=t style="left:913.8px;top:1214.5px">Counts</div>
<div class=t style="left:1009.8px;top:1214.5px">MTPC</div>
<svg class=a style="left:986px;top:1215px;" width="14" height="11" viewBox="0 0 14 11"><path d="M1 1H13L7 10z" fill="#fff"/></svg>
<div class=a style="left:266.5px;top:1209.0px;width:1.0px;height:396.0px;background:#3B3B40"></div>
<div class=a style="left:724.0px;top:1209.0px;width:1.0px;height:396.0px;background:#3B3B40"></div>
<div class=a style="left:907.0px;top:1209.0px;width:1.0px;height:396.0px;background:#3B3B40"></div>
<div class=a style="left:1003.6px;top:1209.0px;width:1.0px;height:396.0px;background:#3B3B40"></div>
<div class=a style="left:0;top:0;width:1102px;height:1599px;overflow:hidden">
<div class=a style="left:30.4px;top:1242.6px;width:22.0px;height:22.0px;background:#5CB060;border-radius:4px;box-sizing:border-box;border:1px solid rgba(0,0,0,0.25)"></div>
<div class=t style="left:65.6px;top:1244.4px">Get</div>
<div class=t style="left:273.2px;top:1244.4px;color:#808080;width:450px;overflow:hidden">/mnt/e/claw/src/claw/base/AssetDict.hpp:138</div>
<div class=t style="left:730.8px;top:1244.4px">582.96 ms</div>
<div class=t style="left:834.8px;top:1244.4px;color:#808080">(0.07%)</div>
<div class=t style="left:913.8px;top:1244.4px">83,370</div>
<div class=t style="left:1009.8px;top:1244.4px">6.99 μs</div>
<div class=a style="left:30.4px;top:1271.6px;width:22.0px;height:22.0px;background:#5AA8A0;border-radius:4px;box-sizing:border-box;border:1px solid rgba(0,0,0,0.25)"></div>
<div class=t style="left:65.6px;top:1273.5px">Create</div>
<div class=t style="left:273.2px;top:1273.5px;color:#808080;width:450px;overflow:hidden">jni/../jni/src/claw/base/LuaScripting.cpp:257</div>
<div class=t style="left:730.8px;top:1273.5px">172.33 ms</div>
<div class=t style="left:833.8px;top:1273.5px;color:#808080">(0.02%)</div>
<div class=t style="left:913.8px;top:1273.5px">82,592</div>
<div class=t style="left:1009.8px;top:1273.5px">2.09 μs</div>
<div class=a style="left:30.4px;top:1300.6px;width:22.0px;height:22.0px;background:#5CB060;border-radius:4px;box-sizing:border-box;border:1px solid rgba(0,0,0,0.25)"></div>
<div class=t style="left:65.6px;top:1302.5px">Get</div>
<div class=t style="left:273.2px;top:1302.5px;color:#808080;width:450px;overflow:hidden">/mnt/e/claw/src/claw/base/Registry.hpp:400</div>
<div class=t style="left:730.8px;top:1302.5px">466.08 ms</div>
<div class=t style="left:833.8px;top:1302.5px;color:#808080">(0.06%)</div>
<div class=t style="left:913.8px;top:1302.5px">74,367</div>
<div class=t style="left:1009.8px;top:1302.5px">6.27 μs</div>
<div class=a style="left:30.4px;top:1329.7px;width:22.0px;height:22.0px;background:#5CB060;border-radius:4px;box-sizing:border-box;border:1px solid rgba(0,0,0,0.25)"></div>
<div class=t style="left:65.6px;top:1331.5px">call</div>
<div class=t style="left:273.2px;top:1331.5px;color:#808080;width:450px;overflow:hidden">jni/../jni/../../../src/claw/base/Lunar.hpp:158</div>
<div class=t style="left:730.8px;top:1331.5px">1:29.6</div>
<div class=t style="left:796.8px;top:1331.5px;color:#808080">(10.78%)</div>
<div class=t style="left:913.8px;top:1331.5px">73,308</div>
<div class=t style="left:1009.8px;top:1331.5px">1.22 ms</div>
<div class=a style="left:30.0px;top:1355.2px;width:1071.8px;height:29.0px;background:#263B50"></div>
<div class=a style="left:30.4px;top:1358.7px;width:22.0px;height:22.0px;background:#5CB060;border-radius:4px;box-sizing:border-box;border:1px solid rgba(0,0,0,0.25)"></div>
<div class=t style="left:65.6px;top:1360.5px">Execute</div>
<div class=t style="left:273.2px;top:1360.5px;color:#808080;width:450px;overflow:hidden">jni/../jni/src/claw/base/LuaScripting.cpp:593</div>
<div class=t style="left:730.8px;top:1360.5px">871.16 ms</div>
<div class=t style="left:833.8px;top:1360.5px;color:#808080">(0.10%)</div>
<div class=t style="left:913.8px;top:1360.5px">72,700</div>
<div class=t style="left:1009.8px;top:1360.5px">11.98 μs</div>
<div class=a style="left:30.4px;top:1387.7px;width:22.0px;height:22.0px;background:#8E5FB8;border-radius:4px;box-sizing:border-box;border:1px solid rgba(0,0,0,0.25)"></div>
<div class=t style="left:65.6px;top:1389.5px">~Control</div>
<div class=t style="left:273.2px;top:1389.5px;color:#808080;width:450px;overflow:hidden">jni/../jni/src/guif/Control.cpp:339</div>
<div class=t style="left:730.8px;top:1389.5px">11.53 ms</div>
<div class=t style="left:823.8px;top:1389.5px;color:#808080">(0.00%)</div>
<div class=t style="left:913.8px;top:1389.5px">65,190</div>
<div class=t style="left:1009.8px;top:1389.5px">176 ns</div>
<div class=a style="left:30.4px;top:1416.7px;width:22.0px;height:22.0px;background:#B0A870;border-radius:4px;box-sizing:border-box;border:1px solid rgba(0,0,0,0.25)"></div>
<div class=t style="left:65.6px;top:1418.6px">AddTree</div>
<div class=t style="left:273.2px;top:1418.6px;color:#808080;width:450px;overflow:hidden">jni/../jni/src/guif/Control.cpp:679</div>
<div class=t style="left:730.8px;top:1418.6px">14.55 s</div>
<div class=t style="left:805.8px;top:1418.6px;color:#808080">(1.75%)</div>
<div class=t style="left:913.8px;top:1418.6px">58,677</div>
<div class=t style="left:1009.8px;top:1418.6px">247.9 μs</div>
<div class=a style="left:30.4px;top:1445.7px;width:22.0px;height:22.0px;background:#5AA8A0;border-radius:4px;box-sizing:border-box;border:1px solid rgba(0,0,0,0.25)"></div>
<div class=t style="left:65.6px;top:1447.6px">Create</div>
<div class=t style="left:273.2px;top:1447.6px;color:#808080;width:450px;overflow:hidden">jni/../jni/src/guif/Control.cpp:179</div>
<div class=t style="left:730.8px;top:1447.6px">5.58 s</div>
<div class=t style="left:794.8px;top:1447.6px;color:#808080">(0.67%)</div>
<div class=t style="left:913.8px;top:1447.6px">50,779</div>
<div class=t style="left:1009.8px;top:1447.6px">109.98 μs</div>
<div class=a style="left:30.4px;top:1474.8px;width:22.0px;height:22.0px;background:#5AA8A0;border-radius:4px;box-sizing:border-box;border:1px solid rgba(0,0,0,0.25)"></div>
<div class=t style="left:65.6px;top:1476.6px">Normalize</div>
<div class=t style="left:273.2px;top:1476.6px;color:#808080;width:450px;overflow:hidden">jni/../jni/src/claw/vfs/Vfs.cpp:27</div>
<div class=t style="left:730.8px;top:1476.6px">15.63 ms</div>
<div class=t style="left:822.8px;top:1476.6px;color:#808080">(0.00%)</div>
<div class=t style="left:913.8px;top:1476.6px">40,402</div>
<div class=t style="left:1009.8px;top:1476.6px">386 ns</div>
<div class=a style="left:30.4px;top:1503.8px;width:22.0px;height:22.0px;background:#5CB060;border-radius:4px;box-sizing:border-box;border:1px solid rgba(0,0,0,0.25)"></div>
<div class=t style="left:65.6px;top:1505.6px">OnTouchMove</div>
<div class=t style="left:273.2px;top:1505.6px;color:#808080;width:450px;overflow:hidden">jni/../jni/src/guif/Screen.cpp:318</div>
<div class=t style="left:730.8px;top:1505.6px">576.1 ms</div>
<div class=t style="left:822.8px;top:1505.6px;color:#808080">(0.07%)</div>
<div class=t style="left:913.8px;top:1505.6px">38,644</div>
<div class=t style="left:1009.8px;top:1505.6px">14.91 μs</div>
<div class=a style="left:30.4px;top:1532.8px;width:22.0px;height:22.0px;background:#B0A870;border-radius:4px;box-sizing:border-box;border:1px solid rgba(0,0,0,0.25)"></div>
<div class=t style="left:65.6px;top:1534.6px">PrivateTouchMove</div>
<div class=t style="left:273.2px;top:1534.6px;color:#808080;width:450px;overflow:hidden">jni/../jni/src/claw/application/AbstractApp.cpp:476</div>
<div class=t style="left:730.8px;top:1534.6px">408.67 ms</div>
<div class=t style="left:833.8px;top:1534.6px;color:#808080">(0.05%)</div>
<div class=t style="left:913.8px;top:1534.6px">38,644</div>
<div class=t style="left:1009.8px;top:1534.6px">10.58 μs</div>
<div class=a style="left:30.4px;top:1561.8px;width:22.0px;height:22.0px;background:#5AB08A;border-radius:4px;box-sizing:border-box;border:1px solid rgba(0,0,0,0.25)"></div>
<div class=t style="left:65.6px;top:1563.7px">Unload</div>
<div class=t style="left:273.2px;top:1563.7px;color:#808080;width:450px;overflow:hidden">jni/../jni/src/claw/graphics/pixeldata/PixelDataGL.cpp</div>
<div class=t style="left:730.8px;top:1563.7px">38.52 ms</div>
<div class=t style="left:822.8px;top:1563.7px;color:#808080">(0.00%)</div>
<div class=t style="left:913.8px;top:1563.7px">37,115</div>
<div class=t style="left:1009.8px;top:1563.7px">1.04 μs</div>
<div class=a style="left:30.4px;top:1590.8px;width:22.0px;height:22.0px;background:#B050B0;border-radius:4px;box-sizing:border-box;border:1px solid rgba(0,0,0,0.25)"></div>
<div class=t style="left:65.6px;top:1592.7px">OnRedraw</div>
<div class=t style="left:273.2px;top:1592.7px;color:#808080;width:450px;overflow:hidden">jni/../jni/src/claw/application/AbstractApp.cpp:686</div>
<div class=t style="left:730.8px;top:1592.7px">7:56.1</div>
<div class=t style="left:784.8px;top:1592.7px;color:#808080">(57.20%)</div>
<div class=t style="left:913.8px;top:1592.7px">37,115</div>
<div class=t style="left:1009.8px;top:1592.7px">12.83 ms</div>
</div>
<div class=a style="left:1105.0px;top:1209.0px;width:15.5px;height:396.0px;background:rgba(255,255,255,0.03)"></div>
<div class=a style="left:1106.0px;top:1224.5px;width:13.0px;height:73.5px;background:#4F4F4F;border-radius:7px"></div>
<div class=a style="left:1146.0px;top:867.0px;width:695.0px;height:738.0px;background:#1C1D17;box-sizing:border-box;border:1px solid #46464E"></div>
<div class=a style="left:1146.0px;top:867.0px;width:695.0px;height:30.0px;background:#0A0A0A;box-sizing:border-box;border:1px solid #46464E"></div>
<svg class=a style="left:1157.5px;top:875.0px;" width="16" height="14" viewBox="0 0 16 14"><path d="M0.5 1H15.5L8 13.5z" fill="#fff"/></svg>
<div class=t style="left:1182.0px;top:872.8px">Zone info</div>
<svg class=a style="left:1814.5px;top:874.0px;" width="16" height="16" viewBox="0 0 16 16"><path d="M1 1L15 15M15 1L1 15" stroke="#e8e8e8" stroke-width="1.6"/></svg>
<div class=a style="left:1158.2px;top:909.6px;width:159.0px;height:29.8px;background:#2B4D72;border-radius:6px;box-sizing:border-box;border:1px solid #4b5a70"></div>
<svg class=a style="left:1164.2px;top:913px;" width="20" height="22" viewBox="0 0 20 22"><path d="M6 3h6v9a4 4 0 0 1-6 0z" fill="#fff"/><path d="M2 20h16M4 17h7" stroke="#fff" stroke-width="2.4"/><path d="M13 9a6 6 0 0 1 1 10" stroke="#fff" stroke-width="2.2" fill="none"/></svg>
<div class=t style="left:1190.0px;top:915.3px">Zoom to zone</div>
<div class=a style="left:1330.0px;top:909.6px;width:145.4px;height:29.8px;background:#2B4D72;border-radius:6px;box-sizing:border-box;border:1px solid #4b5a70"></div>
<svg class=a style="left:1336px;top:913px;" width="18" height="22" viewBox="0 0 18 22"><path d="M9 21V3M2 10L9 3l7 7" stroke="#fff" stroke-width="2.6" fill="none"/></svg>
<div class=t style="left:1356.0px;top:915.3px">Go to parent</div>
<div class=a style="left:1488.0px;top:909.6px;width:115.6px;height:29.8px;background:#2B4D72;border-radius:6px;box-sizing:border-box;border:1px solid #4b5a70"></div>
<svg class=a style="left:1494px;top:913px;" width="21" height="22" viewBox="0 0 21 22"><path d="M2 2v18h18" stroke="#fff" stroke-width="2.6" fill="none"/><path d="M6 7h8M6 11h11M6 15h13" stroke="#fff" stroke-width="2.4"/></svg>
<div class=t style="left:1520.0px;top:915.3px">Statistics</div>
<div class=a style="left:1616.3px;top:909.6px;width:93.4px;height:29.8px;background:#2B4D72;border-radius:6px;box-sizing:border-box;border:1px solid #4b5a70"></div>
<svg class=a style="left:1622.3px;top:912px;" width="16" height="23" viewBox="0 0 16 23"><path d="M1 1h9l5 5v16H1z" fill="#fff"/><path d="M4 12h8M4 15h8M4 18h8" stroke="#2B4D72" stroke-width="1.5"/></svg>
<div class=t style="left:1643.0px;top:915.3px">Source</div>
<div class=a style="left:1152.0px;top:946.0px;width:683.0px;height:1.0px;background:#45454B"></div>
<div class=t style="left:1158.7px;top:956.0px;font-size:27.5px;line-height:27.5px;color:#808080">Function:</div>
<div class=t style="left:1284.7px;top:956.0px;font-size:27.5px;line-height:27.5px">OnTouchUp</div>
<div class=a style="left:1442.4px;top:952.9px;width:27.0px;height:21.0px;background:#2B3F5A;border-radius:6px;box-sizing:border-box;border:1px solid #4b5a70"></div>
<svg class=a style="left:1448.4px;top:954.9px;" width="15" height="17" viewBox="0 0 15 17"><path d="M1 3h13v14H1z" fill="#888"/><path d="M5 1h5v4H5z" fill="#888" stroke="#2B3F5A" stroke-width="1"/><path d="M5 7h5" stroke="#444" stroke-width="1.2"/></svg>
<div class=a style="left:1158.7px;top:991.0px;width:22.0px;height:22.0px;background:#B060B0;border-radius:4px;box-sizing:border-box;border:1px solid rgba(0,0,0,0.25)"></div>
<div class=t style="left:1193.8px;top:992.8px;color:#808080">Location:</div>
<div class=t style="left:1284.7px;top:992.8px">jni/../jni/src/guif/Screen.cpp:278</div>
<div class=a style="left:1584.3px;top:991.5px;width:27.0px;height:21.0px;background:#2B3F5A;border-radius:6px;box-sizing:border-box;border:1px solid #4b5a70"></div>
<svg class=a style="left:1590.3px;top:993.5px;" width="15" height="17" viewBox="0 0 15 17"><path d="M1 3h13v14H1z" fill="#888"/><path d="M5 1h5v4H5z" fill="#888" stroke="#2B3F5A" stroke-width="1"/><path d="M5 7h5" stroke="#444" stroke-width="1.2"/></svg>
<div class=a style="left:1158.7px;top:1019.9px;width:22.0px;height:22.0px;background:#5AAF8A;border-radius:4px;box-sizing:border-box;border:1px solid rgba(0,0,0,0.25)"></div>
<div class=t style="left:1193.8px;top:1021.7px;color:#808080">Thread:</div>
<div class=t style="left:1273.7px;top:1021.7px">GLThread 336</div>
<div class=t style="left:1410.0px;top:1021.7px;color:#808080">(5,062)</div>
<div class=a style="left:1152.0px;top:1048.5px;width:683.0px;height:1.0px;background:#45454B"></div>
<div class=t style="left:1158.7px;top:1057.0px;color:#808080">Time from start of program:</div>
<div class=t style="left:1419.8px;top:1057.0px">12:25 773,178,205ns</div>
<div class=t style="left:1158.7px;top:1085.9px;color:#808080">Execution time:</div>
<div class=t style="left:1308.0px;top:1085.9px">5.6 s</div>
<div class=t style="left:1361.3px;top:1085.9px;color:#808080">(1449.19% of mean time)</div>
<div class=t style="left:1158.7px;top:1114.8px;color:#808080">Self time:</div>
<div class=t style="left:1253.8px;top:1114.8px">3.02 μs</div>
<div class=t style="left:1330.0px;top:1114.8px;color:#808080">(0.00%)</div>
<div class=t style="left:1158.7px;top:1143.8px;color:#808080">Running state time:</div>
<div class=t style="left:1345.3px;top:1143.8px">3.83 ms</div>
<div class=t style="left:1427.5px;top:1143.8px;color:#808080">(0.07%)</div>
<div class=a style="left:1158.0px;top:1170.0px;width:671.0px;height:1.0px;background:#45454B"></div>
<div class=t style="left:1158.7px;top:1178.8px;color:#808080">Running state regions:</div>
<div class=t style="left:1370.0px;top:1178.8px">8</div>
<div class=t style="left:1158.7px;top:1207.8px;color:#808080">CPUs (2):</div>
<div class=t style="left:1249.4px;top:1207.8px">6,  7</div>
<svg class=a style="left:1170.6px;top:1239.4px;" width="12" height="14" viewBox="0 0 12 14"><path d="M1 1L11 7L1 13z" fill="#fff"/></svg>
<div class=t style="left:1193.4px;top:1237.2px">Wait regions</div>
<div class=a style="left:1158.0px;top:1263.7px;width:671.0px;height:1.0px;background:#45454B"></div>
<div class=t style="left:1158.7px;top:1272.0px">304</div>
<div class=t style="left:1203.4px;top:1272.0px;color:#808080">memory events.</div>
<div class=t style="left:1158.7px;top:1301.2px">161</div>
<div class=t style="left:1203.4px;top:1301.2px;color:#808080">allocs,</div>
<div class=t style="left:1269.9px;top:1301.2px">143</div>
<div class=t style="left:1314.4px;top:1301.2px;color:#808080">frees.</div>
<div class=t style="left:1158.7px;top:1329.8px;color:#808080">Memory allocated:</div>
<div class=t style="left:1335.5px;top:1329.8px">23.46 KB</div>
<div class=t style="left:1158.7px;top:1358.8px;color:#808080">Memory freed:</div>
<div class=t style="left:1304.6px;top:1358.8px">18.08 KB</div>
<div class=t style="left:1158.7px;top:1387.8px;color:#808080">Overall change:</div>
<div class=t style="left:1307.4px;top:1387.8px">5512 bytes</div>
<svg class=a style="left:1170.6px;top:1418.8px;" width="12" height="14" viewBox="0 0 12 14"><path d="M1 1L11 7L1 13z" fill="#fff"/></svg>
<div class=t style="left:1193.4px;top:1416.6px">Allocations list</div>
<div class=a style="left:1158.0px;top:1443.3px;width:671.0px;height:1.0px;background:#45454B"></div>
<svg class=a style="left:1169.6px;top:1454.5px;" width="14" height="12" viewBox="0 0 14 12"><path d="M1 1H13L7 11z" fill="#fff"/></svg>
<div class=t style="left:1193.4px;top:1451.3px">Messages</div>
<div class=t style="left:1291.0px;top:1451.3px;color:#808080">(3)</div>
<div class=a style="left:1326.3px;top:1449.5px;width:22.0px;height:22.0px;background:#23354C;border-radius:5px;box-sizing:border-box;border:1px solid #3a4150"></div>
<svg class=a style="left:1326.3px;top:1449.5px;" width="22" height="22" viewBox="0 0 22 22"><path d="M4.5 11.5L9 16L17.5 6" stroke="#4296FA" stroke-width="3" fill="none"/></svg>
<div class=t style="left:1355.5px;top:1451.3px">Time relative to zone start</div>
<div class=a style="left:1599.4px;top:1449.5px;width:22.0px;height:22.0px;background:#23354C;border-radius:5px;box-sizing:border-box;border:1px solid #3a4150"></div>
<div class=t style="left:1628.6px;top:1451.3px">Exclude children</div>
<div class=a style="left:1188.7px;top:1478.0px;width:640.1px;height:28.4px;background:#303033"></div>
<div class=a style="left:1188.7px;top:1506.0px;width:640.1px;height:1.0px;background:#50505A"></div>
<div class=t style="left:1189.5px;top:1483.0px">Time</div>
<div class=t style="left:1254.6px;top:1483.0px">Message</div>
<div class=a style="left:1247.0px;top:1478.0px;width:1.0px;height:122.0px;background:#3B3B40"></div>
<div class=t style="left:1189.5px;top:1513.1px">5.59 s</div>
<div class=t style="left:1254.6px;top:1513.1px">mip 11  w 1  h 1 (1)</div>
<div class=t style="left:1189.5px;top:1542.3px">5.59 s</div>
<div class=t style="left:1254.6px;top:1542.3px">mip 10  w 2  h 2 (4)</div>
<div class=t style="left:1189.5px;top:1571.5px">5.59 s</div>
<div class=t style="left:1254.6px;top:1571.5px">mip 9  w 4  h 4 (16)</div>
<div class=a style="left:2275.0px;top:55.0px;width:741.0px;height:1102.5px;background:#1C1D17;box-sizing:border-box;border:1px solid #46464E"></div>
<div class=a style="left:2275.0px;top:55.0px;width:741.0px;height:31.0px;background:#294A7A;box-sizing:border-box;border:1px solid #46464E"></div>
<svg class=a style="left:2286.5px;top:63.5px;" width="16" height="14" viewBox="0 0 16 14"><path d="M0.5 1H15.5L8 13.5z" fill="#fff"/></svg>
<div class=t style="left:2311.0px;top:61.3px">Find zone</div>
<svg class=a style="left:2989.5px;top:62.5px;" width="16" height="16" viewBox="0 0 16 16"><path d="M1 1L15 15M15 1L1 15" stroke="#e8e8e8" stroke-width="1.6"/></svg>
<div class=a style="left:2286.8px;top:96.9px;width:716.2px;height:31.1px;background:#23354C;border-radius:7px;box-sizing:border-box;border:1px solid #3a4150"></div>
<div class=t style="left:2293.7px;top:103.3px">Execute</div>
<div class=a style="left:2286.8px;top:134.6px;width:77.0px;height:30.1px;background:#2B4D72;border-radius:6px;box-sizing:border-box;border:1px solid #4b5a70"></div>
<svg class=a style="left:2293px;top:139px;" width="20" height="21" viewBox="0 0 20 21"><circle cx="8" cy="8" r="6" stroke="#fff" stroke-width="2.8" fill="none"/><path d="M12.5 12.5l6 6" stroke="#fff" stroke-width="3.2" stroke-linecap="round"/></svg>
<div class=t style="left:2319.0px;top:140.5px">Find</div>
<div class=a style="left:2376.0px;top:134.6px;width:84.0px;height:30.1px;background:#2B4D72;border-radius:6px;box-sizing:border-box;border:1px solid #4b5a70"></div>
<svg class=a style="left:2382px;top:139px;" width="21" height="21" viewBox="0 0 21 21"><circle cx="10.5" cy="10.5" r="8.5" stroke="#fff" stroke-width="2.6" fill="none"/><path d="M4.5 4.5l12 12" stroke="#fff" stroke-width="2.6"/></svg>
<div class=t style="left:2408.0px;top:140.5px">Clear</div>
<div class=a style="left:2472.0px;top:134.6px;width:30.0px;height:30.1px;background:#23354C;border-radius:6px;box-sizing:border-box;border:1px solid #3a4150"></div>
<div class=t style="left:2509.4px;top:140.5px">Ignore case</div>
<div class=a style="left:2636.0px;top:134.6px;width:30.0px;height:30.1px;background:#23354C;border-radius:6px;box-sizing:border-box;border:1px solid #3a4150"></div>
<div class=t style="left:2673.4px;top:140.5px">Limit range</div>
<div class=a style="left:2284.0px;top:171.0px;width:722.0px;height:1.0px;background:#45454B"></div>
<div class=a style="left:2982.6px;top:177.0px;width:21.4px;height:975.0px;background:rgba(255,255,255,0.03)"></div>
<div class=a style="left:2985.6px;top:182.0px;width:15.4px;height:931.0px;background:#4F4F4F;border-radius:8px"></div>
<svg class=a style="left:2298.5px;top:181.6px;" width="12" height="14" viewBox="0 0 12 14"><path d="M1 1L11 7L1 13z" fill="#fff"/></svg>
<div class=t style="left:2322.4px;top:179.4px">Matched source locations</div>
<div class=t style="left:2561.0px;top:179.4px;color:#808080">(1)</div>
<div class=a style="left:2287.0px;top:206.0px;width:694.0px;height:1.0px;background:#45454B"></div>
<svg class=a style="left:2298px;top:217.4px;" width="14" height="12" viewBox="0 0 14 12"><path d="M1 1H13L7 11z" fill="#fff"/></svg>
<div class=t style="left:2322.4px;top:214.2px">Histogram</div>
<div class=t style="left:2318.7px;top:244.3px;color:#808080">Minimum values in bin:</div>
<div class=a style="left:2538.8px;top:241.8px;width:102.7px;height:23.8px;background:#23354C;border-radius:6px;box-sizing:border-box;border:1px solid #3a4150"></div>
<div class=t style="left:2540.0px;top:244.3px">6</div>
<div class=a style="left:2648.0px;top:241.8px;width:24.7px;height:23.8px;background:#2B4D72;border-radius:6px;box-sizing:border-box;border:1px solid #4b5a70"></div>
<div class=t style="left:2656.0px;top:244.3px">-</div>
<div class=a style="left:2679.0px;top:241.8px;width:25.0px;height:23.8px;background:#2B4D72;border-radius:6px;box-sizing:border-box;border:1px solid #4b5a70"></div>
<div class=t style="left:2684.5px;top:244.3px">+</div>
<div class=a style="left:2716.0px;top:241.8px;width:52.0px;height:23.8px;background:#2B4D72;border-radius:6px;box-sizing:border-box;border:1px solid #4b5a70"></div>
<div class=t style="left:2718.5px;top:244.3px">Reset</div>
<div class=a style="left:2318.7px;top:273.0px;width:22.0px;height:22.0px;background:#23354C;border-radius:5px;box-sizing:border-box;border:1px solid #3a4150"></div>
<div class=t style="left:2347.0px;top:274.8px">Log values</div>
<div class=a style="left:2451.5px;top:273.0px;width:22.0px;height:22.0px;background:#23354C;border-radius:5px;box-sizing:border-box;border:1px solid #3a4150"></div>
<svg class=a style="left:2451.5px;top:273.0px;" width="22" height="22" viewBox="0 0 22 22"><path d="M4.5 11.5L9 16L17.5 6" stroke="#4296FA" stroke-width="3" fill="none"/></svg>
<div class=t style="left:2480.0px;top:274.8px">Log time</div>
<div class=a style="left:2569.0px;top:273.0px;width:22.0px;height:22.0px;background:#23354C;border-radius:5px;box-sizing:border-box;border:1px solid #3a4150"></div>
<div class=t style="left:2598.0px;top:274.8px">Cumulate time</div>
<div class=t style="left:2742.0px;top:274.8px;color:#808080">(?)</div>
<div class=a style="left:2775.4px;top:273.0px;width:22.0px;height:22.0px;background:#23354C;border-radius:5px;box-sizing:border-box;border:1px solid #3a4150"></div>
<div class=t style="left:2804.0px;top:274.8px">Self time</div>
<div class=t style="left:2894.6px;top:274.8px;color:#808080">(100.00%)</div>
<div class=t style="left:2318.0px;top:304.1px;color:#808080">Total time:</div>
<div class=t style="left:2424.0px;top:304.1px">802.08 ms</div>
<div class=t style="left:2540.6px;top:304.1px;color:#808080">Max counts:</div>
<div class=t style="left:2659.0px;top:304.1px">932</div>
<div class=t style="left:2318.0px;top:333.4px;color:#808080">Mean:</div>
<div class=t style="left:2385.5px;top:333.4px">11.98 μs</div>
<div class=t style="left:2484.5px;top:333.4px;color:#808080">Median:</div>
<div class=t style="left:2568.0px;top:333.4px">7.61 μs</div>
<div class=t style="left:2657.0px;top:333.4px;color:#808080">Mode:</div>
<div class=t style="left:2724.0px;top:333.4px">1.57 μs</div>
<div class=t style="left:2812.0px;top:333.4px;color:#808080">σ:</div>
<div class=t style="left:2841.4px;top:333.4px">25.03 μs</div>
<div class=t style="left:2318.0px;top:362.1px;color:#808080">Selection range:</div>
<div class=t style="left:2472.0px;top:362.1px">none</div>
<div class=t style="left:2530.0px;top:362.1px;color:#808080">(?)</div>
<div class=t style="left:2318.0px;top:391.0px;color:#808080">Selection time:</div>
<div class=t style="left:2462.5px;top:391.0px">none</div>
<div class=t style="left:2318.0px;top:419.6px;color:#808080">Zone group time:</div>
<div class=t style="left:2483.8px;top:419.6px">227.19 ms</div>
<div class=t style="left:2318.0px;top:449.0px;color:#808080">Group mean:</div>
<div class=t style="left:2448.0px;top:449.0px">12.25 μs</div>
<div class=t style="left:2547.0px;top:449.0px;color:#808080">Group median:</div>
<div class=t style="left:2694.0px;top:449.0px">7.92 μs</div>
<div class=a style="left:2318.7px;top:475.8px;width:22.0px;height:22.0px;background:#23354C;border-radius:5px;box-sizing:border-box;border:1px solid #3a4150"></div>
<svg class=a style="left:2318.7px;top:475.8px;" width="22" height="22" viewBox="0 0 22 22"><path d="M4.5 11.5L9 16L17.5 6" stroke="#4296FA" stroke-width="3" fill="none"/></svg>
<div class=a style="left:2353.5px;top:475.8px;width:22.0px;height:22.0px;background:#F04040;border-radius:4px;box-sizing:border-box;border:1px solid rgba(0,0,0,0.25)"></div>
<div class=t style="left:2388.4px;top:477.6px">Mean time</div>
<div class=a style="left:2508.3px;top:475.8px;width:22.0px;height:22.0px;background:#40A8F8;border-radius:4px;box-sizing:border-box;border:1px solid rgba(0,0,0,0.25)"></div>
<div class=t style="left:2543.6px;top:477.6px">Median time</div>
<div class=a style="left:2318.7px;top:504.8px;width:22.0px;height:22.0px;background:#23354C;border-radius:5px;box-sizing:border-box;border:1px solid #3a4150"></div>
<svg class=a style="left:2318.7px;top:504.79999999999995px;" width="22" height="22" viewBox="0 0 22 22"><path d="M4.5 11.5L9 16L17.5 6" stroke="#4296FA" stroke-width="3" fill="none"/></svg>
<div class=a style="left:2353.5px;top:504.8px;width:22.0px;height:22.0px;background:#F8A040;border-radius:4px;box-sizing:border-box;border:1px solid rgba(0,0,0,0.25)"></div>
<div class=t style="left:2388.4px;top:506.6px">Group mean</div>
<div class=a style="left:2524.9px;top:504.8px;width:22.0px;height:22.0px;background:#40D850;border-radius:4px;box-sizing:border-box;border:1px solid rgba(0,0,0,0.25)"></div>
<div class=t style="left:2560.0px;top:506.6px">Group median</div>
<div class=a style="left:2318.0px;top:533.0px;width:665.0px;height:306.0px;background:#3A3830;box-sizing:border-box;border:1px solid #9a9a9a"></div>
<svg class=a style="left:2318px;top:533px;" width="665" height="306" viewBox="0 0 665 306"><g shape-rendering="crispEdges"><g fill="#DEDC1A"><rect x="3.0" y="292.6" width="1.3" height="12.4"/><rect x="11.9" y="259.9" width="1.3" height="45.1"/><rect x="20.3" y="250.5" width="1.3" height="54.5"/><rect x="28.4" y="248.6" width="1.3" height="56.4"/><rect x="36.2" y="166.6" width="1.3" height="138.4"/><rect x="43.6" y="166.0" width="1.3" height="139.0"/><rect x="50.7" y="177.5" width="1.3" height="127.5"/><rect x="57.4" y="173.8" width="1.3" height="131.2"/><rect x="63.9" y="192.4" width="1.3" height="112.6"/><rect x="70.1" y="186.3" width="1.3" height="118.7"/><rect x="76.0" y="129.6" width="1.3" height="175.4"/><rect x="81.6" y="98.0" width="1.3" height="207.0"/><rect x="87.0" y="63.2" width="1.3" height="241.8"/><rect x="92.2" y="80.3" width="1.3" height="224.7"/><rect x="97.1" y="62.5" width="1.3" height="242.5"/><rect x="101.8" y="5.2" width="1.3" height="299.8"/><rect x="106.4" y="31.2" width="1.3" height="273.8"/><rect x="110.8" y="6.2" width="1.3" height="298.8"/><rect x="115.2" y="39.0" width="1.3" height="266.0"/><rect x="119.5" y="13.6" width="1.3" height="291.4"/><rect x="123.7" y="4.2" width="1.3" height="300.8"/><rect x="127.9" y="43.0" width="1.3" height="262.0"/><rect x="132.0" y="70.9" width="1.3" height="234.1"/><rect x="136.0" y="79.7" width="1.3" height="225.3"/><rect x="140.0" y="111.3" width="1.3" height="193.7"/><rect x="144.0" y="108.7" width="1.3" height="196.3"/><rect x="147.8" y="101.9" width="1.3" height="203.1"/><rect x="151.6" y="139.2" width="1.3" height="165.8"/><rect x="155.4" y="138.3" width="1.3" height="166.7"/><rect x="159.1" y="139.4" width="1.3" height="165.6"/><rect x="162.7" y="158.2" width="1.3" height="146.8"/><rect x="166.3" y="194.6" width="1.3" height="110.4"/><rect x="169.9" y="199.1" width="1.3" height="105.9"/><rect x="173.3" y="219.7" width="1.3" height="85.3"/><rect x="176.8" y="223.7" width="1.3" height="81.3"/><rect x="180.1" y="229.1" width="1.3" height="75.9"/><rect x="183.5" y="220.0" width="1.3" height="85.0"/><rect x="186.8" y="235.3" width="1.3" height="69.7"/><rect x="190.0" y="234.5" width="1.3" height="70.5"/><rect x="193.2" y="243.3" width="1.3" height="61.7"/><rect x="196.3" y="234.2" width="1.3" height="70.8"/><rect x="199.4" y="248.0" width="1.3" height="57.0"/><rect x="202.4" y="249.0" width="1.3" height="56.0"/><rect x="205.4" y="238.7" width="1.3" height="66.3"/><rect x="208.4" y="246.1" width="1.3" height="58.9"/><rect x="211.3" y="239.9" width="1.3" height="65.1"/><rect x="214.3" y="247.2" width="1.3" height="57.8"/><rect x="217.2" y="256.5" width="1.3" height="48.5"/><rect x="220.1" y="239.5" width="1.3" height="65.5"/><rect x="222.9" y="248.2" width="1.3" height="56.8"/><rect x="225.8" y="258.7" width="1.3" height="46.3"/><rect x="228.6" y="254.1" width="1.3" height="50.9"/><rect x="231.4" y="252.0" width="1.3" height="53.0"/><rect x="234.2" y="239.1" width="1.3" height="65.9"/><rect x="237.0" y="260.6" width="1.3" height="44.4"/><rect x="239.7" y="257.9" width="1.3" height="47.1"/><rect x="242.4" y="252.7" width="1.3" height="52.3"/><rect x="245.2" y="256.0" width="1.3" height="49.0"/><rect x="247.8" y="248.9" width="1.3" height="56.1"/><rect x="250.5" y="254.2" width="1.3" height="50.8"/><rect x="253.2" y="260.0" width="1.3" height="45.0"/><rect x="255.8" y="262.8" width="1.3" height="42.2"/><rect x="258.4" y="262.3" width="1.3" height="42.7"/><rect x="261.0" y="259.3" width="1.3" height="45.7"/><rect x="263.6" y="263.2" width="1.3" height="41.8"/><rect x="266.1" y="262.4" width="1.3" height="42.6"/><rect x="268.6" y="264.8" width="1.3" height="40.2"/><rect x="271.2" y="251.6" width="1.3" height="53.4"/><rect x="273.7" y="266.0" width="1.3" height="39.0"/><rect x="276.1" y="260.9" width="1.3" height="44.1"/><rect x="278.6" y="265.9" width="1.3" height="39.1"/><rect x="281.0" y="261.7" width="1.3" height="43.3"/><rect x="283.5" y="260.5" width="1.3" height="44.5"/><rect x="285.9" y="258.0" width="1.3" height="47.0"/><rect x="288.3" y="264.8" width="1.3" height="40.2"/><rect x="290.6" y="260.1" width="1.3" height="44.9"/><rect x="293.0" y="243.5" width="1.3" height="61.5"/><rect x="295.3" y="256.1" width="1.3" height="48.9"/><rect x="297.6" y="254.1" width="1.3" height="50.9"/><rect x="299.9" y="238.2" width="1.3" height="66.8"/><rect x="302.2" y="253.6" width="1.3" height="51.4"/><rect x="304.5" y="249.1" width="1.3" height="55.9"/><rect x="306.8" y="236.9" width="1.3" height="68.1"/><rect x="309.0" y="253.9" width="1.3" height="51.1"/><rect x="311.2" y="238.8" width="1.3" height="66.2"/><rect x="313.4" y="252.4" width="1.0" height="52.6"/><rect x="314.4" y="255.3" width="1.0" height="49.7"/><rect x="315.4" y="250.8" width="1.0" height="54.2"/><rect x="316.4" y="257.3" width="1.0" height="47.7"/><rect x="317.4" y="258.8" width="1.0" height="46.2"/><rect x="318.4" y="246.0" width="1.0" height="59.0"/><rect x="319.4" y="235.3" width="1.0" height="69.7"/><rect x="320.4" y="238.4" width="1.0" height="66.6"/><rect x="321.4" y="254.6" width="1.0" height="50.4"/><rect x="322.4" y="233.6" width="1.0" height="71.4"/><rect x="323.4" y="248.4" width="1.0" height="56.6"/><rect x="324.4" y="254.2" width="1.0" height="50.8"/><rect x="325.4" y="252.9" width="1.0" height="52.1"/><rect x="326.4" y="246.4" width="1.0" height="58.6"/><rect x="327.4" y="248.1" width="1.0" height="56.9"/><rect x="328.4" y="230.0" width="1.0" height="75.0"/><rect x="329.4" y="248.1" width="1.0" height="56.9"/><rect x="330.4" y="243.4" width="1.0" height="61.6"/><rect x="331.4" y="240.9" width="1.0" height="64.1"/><rect x="332.4" y="250.6" width="1.0" height="54.4"/><rect x="333.4" y="245.6" width="1.0" height="59.4"/><rect x="334.4" y="253.0" width="1.0" height="52.0"/><rect x="335.4" y="227.3" width="1.0" height="77.7"/><rect x="336.4" y="245.4" width="1.0" height="59.6"/><rect x="337.4" y="244.4" width="1.0" height="60.6"/><rect x="338.4" y="234.3" width="1.0" height="70.7"/><rect x="339.4" y="248.8" width="1.0" height="56.2"/><rect x="340.4" y="236.7" width="1.0" height="68.3"/><rect x="341.4" y="236.5" width="1.0" height="68.5"/><rect x="342.4" y="230.0" width="1.0" height="75.0"/><rect x="343.4" y="243.8" width="1.0" height="61.2"/><rect x="344.4" y="225.2" width="1.0" height="79.8"/><rect x="345.4" y="228.0" width="1.0" height="77.0"/><rect x="346.4" y="229.7" width="1.0" height="75.3"/><rect x="347.4" y="223.4" width="1.0" height="81.6"/><rect x="348.4" y="224.7" width="1.0" height="80.3"/><rect x="349.4" y="197.0" width="1.0" height="108.0"/><rect x="350.4" y="228.7" width="1.0" height="76.3"/><rect x="351.4" y="225.7" width="1.0" height="79.3"/><rect x="352.4" y="234.4" width="1.0" height="70.6"/><rect x="353.4" y="238.6" width="1.0" height="66.4"/><rect x="354.4" y="195.3" width="1.0" height="109.7"/><rect x="355.4" y="223.1" width="1.0" height="81.9"/><rect x="356.4" y="247.0" width="1.0" height="58.0"/><rect x="357.4" y="216.9" width="1.0" height="88.1"/><rect x="358.4" y="221.3" width="1.0" height="83.7"/><rect x="359.4" y="217.6" width="1.0" height="87.4"/><rect x="360.4" y="237.7" width="1.0" height="67.3"/><rect x="361.4" y="227.4" width="1.0" height="77.6"/><rect x="362.4" y="199.3" width="1.0" height="105.7"/><rect x="363.4" y="209.2" width="1.0" height="95.8"/><rect x="364.4" y="227.5" width="1.0" height="77.5"/><rect x="365.4" y="241.2" width="1.0" height="63.8"/><rect x="366.4" y="226.1" width="1.0" height="78.9"/><rect x="367.4" y="207.8" width="1.0" height="97.2"/><rect x="368.4" y="239.9" width="1.0" height="65.1"/><rect x="369.4" y="215.1" width="1.0" height="89.9"/><rect x="370.4" y="235.7" width="1.0" height="69.3"/><rect x="371.4" y="219.5" width="1.0" height="85.5"/><rect x="372.4" y="236.0" width="1.0" height="69.0"/><rect x="373.4" y="237.5" width="1.0" height="67.5"/><rect x="374.4" y="240.4" width="1.0" height="64.6"/><rect x="375.4" y="238.8" width="1.0" height="66.2"/><rect x="376.4" y="213.5" width="1.0" height="91.5"/><rect x="377.4" y="184.6" width="1.0" height="120.4"/><rect x="378.4" y="240.4" width="1.0" height="64.6"/><rect x="379.4" y="219.0" width="1.0" height="86.0"/><rect x="380.4" y="208.8" width="1.0" height="96.2"/><rect x="381.4" y="236.7" width="1.0" height="68.3"/><rect x="382.4" y="233.3" width="1.0" height="71.7"/><rect x="383.4" y="229.5" width="1.0" height="75.5"/><rect x="384.4" y="213.2" width="1.0" height="91.8"/><rect x="385.4" y="226.8" width="1.0" height="78.2"/><rect x="386.4" y="221.4" width="1.0" height="83.6"/><rect x="387.4" y="201.3" width="1.0" height="103.7"/><rect x="388.4" y="210.2" width="1.0" height="94.8"/><rect x="389.4" y="225.4" width="1.0" height="79.6"/><rect x="390.4" y="225.9" width="1.0" height="79.1"/><rect x="391.4" y="227.3" width="1.0" height="77.7"/><rect x="392.4" y="236.6" width="1.0" height="68.4"/><rect x="393.4" y="228.9" width="1.0" height="76.1"/><rect x="394.4" y="233.4" width="1.0" height="71.6"/><rect x="395.4" y="232.4" width="1.0" height="72.6"/><rect x="396.4" y="241.0" width="1.0" height="64.0"/><rect x="397.4" y="210.7" width="1.0" height="94.3"/><rect x="398.4" y="226.4" width="1.0" height="78.6"/><rect x="399.4" y="219.8" width="1.0" height="85.2"/><rect x="400.4" y="217.9" width="1.0" height="87.1"/><rect x="401.4" y="241.5" width="1.0" height="63.5"/><rect x="402.4" y="229.0" width="1.0" height="76.0"/><rect x="403.4" y="232.1" width="1.0" height="72.9"/><rect x="404.4" y="218.1" width="1.0" height="86.9"/><rect x="405.4" y="234.6" width="1.0" height="70.4"/><rect x="406.4" y="221.1" width="1.0" height="83.9"/><rect x="407.4" y="220.6" width="1.0" height="84.4"/><rect x="408.4" y="202.6" width="1.0" height="102.4"/><rect x="409.4" y="210.0" width="1.0" height="95.0"/><rect x="410.4" y="216.9" width="1.0" height="88.1"/><rect x="411.4" y="226.6" width="1.0" height="78.4"/><rect x="412.4" y="210.4" width="1.0" height="94.6"/><rect x="413.4" y="241.0" width="1.0" height="64.0"/><rect x="414.4" y="207.8" width="1.0" height="97.2"/><rect x="415.4" y="211.1" width="1.0" height="93.9"/><rect x="416.4" y="229.9" width="1.0" height="75.1"/><rect x="417.4" y="232.9" width="1.0" height="72.1"/><rect x="418.4" y="213.0" width="1.0" height="92.0"/><rect x="419.4" y="212.3" width="1.0" height="92.7"/><rect x="420.4" y="227.4" width="1.0" height="77.6"/><rect x="421.4" y="223.0" width="1.0" height="82.0"/><rect x="422.4" y="233.7" width="1.0" height="71.3"/><rect x="423.4" y="237.2" width="1.0" height="67.8"/><rect x="424.4" y="242.3" width="1.0" height="62.7"/><rect x="425.4" y="235.9" width="1.0" height="69.1"/><rect x="426.4" y="215.6" width="1.0" height="89.4"/><rect x="427.4" y="229.3" width="1.0" height="75.7"/><rect x="428.4" y="198.8" width="1.0" height="106.2"/><rect x="429.4" y="239.8" width="1.0" height="65.2"/><rect x="430.4" y="236.5" width="1.0" height="68.5"/><rect x="431.4" y="233.3" width="1.0" height="71.7"/><rect x="432.4" y="228.3" width="1.0" height="76.7"/><rect x="433.4" y="227.5" width="1.0" height="77.5"/><rect x="434.4" y="231.0" width="1.0" height="74.0"/><rect x="435.4" y="229.6" width="1.0" height="75.4"/><rect x="436.4" y="251.2" width="1.0" height="53.8"/><rect x="437.4" y="235.2" width="1.0" height="69.8"/><rect x="438.4" y="233.7" width="1.0" height="71.3"/><rect x="439.4" y="253.7" width="1.0" height="51.3"/><rect x="440.4" y="233.0" width="1.0" height="72.0"/><rect x="441.4" y="250.3" width="1.0" height="54.7"/><rect x="442.4" y="228.8" width="1.0" height="76.2"/><rect x="443.4" y="236.8" width="1.0" height="68.2"/><rect x="444.4" y="245.1" width="1.0" height="59.9"/><rect x="445.4" y="248.0" width="1.0" height="57.0"/><rect x="446.4" y="256.8" width="1.0" height="48.2"/><rect x="447.4" y="249.3" width="1.0" height="55.7"/><rect x="448.4" y="242.9" width="1.0" height="62.1"/><rect x="449.4" y="239.2" width="1.0" height="65.8"/><rect x="450.4" y="243.7" width="1.0" height="61.3"/><rect x="451.4" y="218.6" width="1.0" height="86.4"/><rect x="452.4" y="252.9" width="1.0" height="52.1"/><rect x="453.4" y="259.6" width="1.0" height="45.4"/><rect x="454.4" y="252.9" width="1.0" height="52.1"/><rect x="455.4" y="260.5" width="1.0" height="44.5"/><rect x="456.4" y="245.9" width="1.0" height="59.1"/><rect x="457.4" y="254.3" width="1.0" height="50.7"/><rect x="458.4" y="250.9" width="1.0" height="54.1"/><rect x="459.4" y="250.8" width="1.0" height="54.2"/><rect x="460.4" y="251.5" width="1.0" height="53.5"/><rect x="461.4" y="263.4" width="1.0" height="41.6"/><rect x="462.4" y="258.6" width="1.0" height="46.4"/><rect x="463.4" y="270.7" width="1.0" height="34.3"/><rect x="464.4" y="268.2" width="1.0" height="36.8"/><rect x="465.4" y="271.7" width="1.0" height="33.3"/><rect x="466.4" y="264.7" width="1.0" height="40.3"/><rect x="467.4" y="257.0" width="1.0" height="48.0"/><rect x="468.4" y="262.7" width="1.0" height="42.3"/><rect x="469.4" y="261.9" width="1.0" height="43.1"/><rect x="470.4" y="264.8" width="1.0" height="40.2"/><rect x="471.4" y="264.4" width="1.0" height="40.6"/><rect x="472.4" y="267.8" width="1.0" height="37.2"/><rect x="473.4" y="272.3" width="1.0" height="32.7"/><rect x="474.4" y="253.1" width="1.0" height="51.9"/><rect x="475.4" y="267.7" width="1.0" height="37.3"/><rect x="476.4" y="267.8" width="1.0" height="37.2"/><rect x="477.4" y="269.3" width="1.0" height="35.7"/><rect x="478.4" y="265.6" width="1.0" height="39.4"/><rect x="479.4" y="271.0" width="1.0" height="34.0"/><rect x="480.4" y="273.5" width="1.0" height="31.5"/><rect x="481.4" y="266.8" width="1.0" height="38.2"/><rect x="482.4" y="274.2" width="1.0" height="30.8"/><rect x="483.4" y="272.3" width="1.0" height="32.7"/><rect x="484.4" y="268.3" width="1.0" height="36.7"/><rect x="485.4" y="276.8" width="1.0" height="28.2"/><rect x="486.4" y="278.5" width="1.0" height="26.5"/><rect x="487.4" y="268.6" width="1.0" height="36.4"/><rect x="488.4" y="270.7" width="1.0" height="34.3"/><rect x="489.4" y="276.3" width="1.0" height="28.7"/><rect x="490.4" y="270.6" width="1.0" height="34.4"/><rect x="491.4" y="274.7" width="1.0" height="30.3"/><rect x="492.4" y="282.0" width="1.0" height="23.0"/><rect x="493.4" y="275.5" width="1.0" height="29.5"/><rect x="494.4" y="276.0" width="1.0" height="29.0"/><rect x="495.4" y="264.2" width="1.0" height="40.8"/><rect x="496.4" y="274.0" width="1.0" height="31.0"/><rect x="497.4" y="274.2" width="1.0" height="30.8"/><rect x="498.4" y="281.5" width="1.0" height="23.5"/><rect x="499.4" y="279.1" width="1.0" height="25.9"/><rect x="500.4" y="275.3" width="1.0" height="29.7"/><rect x="501.4" y="278.4" width="1.0" height="26.6"/><rect x="502.4" y="277.5" width="1.0" height="27.5"/><rect x="503.4" y="278.1" width="1.0" height="26.9"/><rect x="504.4" y="279.4" width="1.0" height="25.6"/><rect x="505.4" y="278.1" width="1.0" height="26.9"/><rect x="506.4" y="282.7" width="1.0" height="22.3"/><rect x="507.4" y="270.5" width="1.0" height="34.5"/><rect x="508.4" y="281.7" width="1.0" height="23.3"/><rect x="509.4" y="281.6" width="1.0" height="23.4"/><rect x="510.4" y="282.9" width="1.0" height="22.1"/><rect x="511.4" y="287.2" width="1.0" height="17.8"/><rect x="512.4" y="285.5" width="1.0" height="19.5"/><rect x="513.4" y="285.3" width="1.0" height="19.7"/><rect x="514.4" y="285.4" width="1.0" height="19.6"/><rect x="515.4" y="283.0" width="1.0" height="22.0"/><rect x="516.4" y="286.8" width="1.0" height="18.2"/><rect x="517.4" y="278.4" width="1.0" height="26.6"/><rect x="518.4" y="287.9" width="1.0" height="17.1"/><rect x="519.4" y="282.0" width="1.0" height="23.0"/><rect x="520.4" y="282.8" width="1.0" height="22.2"/><rect x="521.4" y="276.1" width="1.0" height="28.9"/><rect x="522.4" y="277.9" width="1.0" height="27.1"/><rect x="523.4" y="282.9" width="1.0" height="22.1"/><rect x="524.4" y="288.3" width="1.0" height="16.7"/><rect x="525.4" y="291.5" width="1.0" height="13.5"/><rect x="526.4" y="289.1" width="1.0" height="15.9"/><rect x="527.4" y="290.6" width="1.0" height="14.4"/><rect x="528.4" y="283.9" width="1.0" height="21.1"/><rect x="529.4" y="288.0" width="1.0" height="17.0"/><rect x="530.4" y="287.7" width="1.0" height="17.3"/><rect x="531.4" y="289.3" width="1.0" height="15.7"/><rect x="532.4" y="291.3" width="1.0" height="13.7"/><rect x="533.4" y="288.5" width="1.0" height="16.5"/><rect x="534.4" y="289.6" width="1.0" height="15.4"/><rect x="535.4" y="289.6" width="1.0" height="15.4"/><rect x="536.4" y="288.5" width="1.0" height="16.5"/><rect x="537.4" y="292.8" width="1.0" height="12.2"/><rect x="538.4" y="290.7" width="1.0" height="14.3"/><rect x="539.4" y="287.4" width="1.0" height="17.6"/><rect x="540.4" y="289.7" width="1.0" height="15.3"/><rect x="541.4" y="294.6" width="1.0" height="10.4"/><rect x="542.4" y="291.6" width="1.0" height="13.4"/><rect x="543.4" y="290.0" width="1.0" height="15.0"/><rect x="544.4" y="294.1" width="1.0" height="10.9"/><rect x="545.4" y="291.2" width="1.0" height="13.8"/><rect x="546.4" y="294.5" width="1.0" height="10.5"/><rect x="547.4" y="287.1" width="1.0" height="17.9"/><rect x="548.4" y="292.2" width="1.0" height="12.8"/><rect x="549.4" y="293.2" width="1.0" height="11.8"/><rect x="550.4" y="294.5" width="1.0" height="10.5"/><rect x="551.4" y="293.1" width="1.0" height="11.9"/><rect x="552.4" y="293.6" width="1.0" height="11.4"/><rect x="553.4" y="292.3" width="1.0" height="12.7"/><rect x="554.4" y="293.2" width="1.0" height="11.8"/><rect x="555.4" y="290.0" width="1.0" height="15.0"/><rect x="556.4" y="291.1" width="1.0" height="13.9"/><rect x="557.4" y="294.4" width="1.0" height="10.6"/><rect x="558.4" y="294.9" width="1.0" height="10.1"/><rect x="559.4" y="292.4" width="1.0" height="12.6"/><rect x="560.4" y="295.4" width="1.0" height="9.6"/><rect x="561.4" y="296.5" width="1.0" height="8.5"/><rect x="562.4" y="294.7" width="1.0" height="10.3"/><rect x="563.4" y="295.8" width="1.0" height="9.2"/><rect x="564.4" y="296.6" width="1.0" height="8.4"/><rect x="565.4" y="294.9" width="1.0" height="10.1"/><rect x="566.4" y="294.4" width="1.0" height="10.6"/><rect x="567.4" y="296.9" width="1.0" height="8.1"/><rect x="568.4" y="296.5" width="1.0" height="8.5"/><rect x="569.4" y="296.7" width="1.0" height="8.3"/><rect x="570.4" y="296.3" width="1.0" height="8.7"/><rect x="571.4" y="296.9" width="1.0" height="8.1"/><rect x="572.4" y="294.6" width="1.0" height="10.4"/><rect x="573.4" y="297.9" width="1.0" height="7.1"/><rect x="574.4" y="295.8" width="1.0" height="9.2"/><rect x="575.4" y="296.5" width="1.0" height="8.5"/><rect x="576.4" y="296.3" width="1.0" height="8.7"/><rect x="577.4" y="296.4" width="1.0" height="8.6"/><rect x="578.4" y="295.4" width="1.0" height="9.6"/><rect x="579.4" y="293.4" width="1.0" height="11.6"/><rect x="580.4" y="297.3" width="1.0" height="7.7"/><rect x="581.4" y="293.7" width="1.0" height="11.3"/><rect x="582.4" y="296.3" width="1.0" height="8.7"/><rect x="583.4" y="298.2" width="1.0" height="6.8"/><rect x="584.4" y="296.7" width="1.0" height="8.3"/><rect x="585.4" y="297.7" width="1.0" height="7.3"/><rect x="586.4" y="298.4" width="1.0" height="6.6"/><rect x="587.4" y="299.0" width="1.0" height="6.0"/><rect x="588.4" y="298.0" width="1.0" height="7.0"/><rect x="589.4" y="298.8" width="1.0" height="6.2"/><rect x="590.4" y="297.3" width="1.0" height="7.7"/><rect x="591.4" y="296.7" width="1.0" height="8.3"/><rect x="592.4" y="298.0" width="1.0" height="7.0"/><rect x="593.4" y="297.9" width="1.0" height="7.1"/><rect x="594.4" y="297.3" width="1.0" height="7.7"/><rect x="595.4" y="299.3" width="1.0" height="5.7"/><rect x="596.4" y="297.1" width="1.0" height="7.9"/><rect x="597.4" y="297.9" width="1.0" height="7.1"/><rect x="598.4" y="297.6" width="1.0" height="7.4"/><rect x="599.4" y="298.0" width="1.0" height="7.0"/><rect x="600.4" y="299.7" width="1.0" height="5.3"/><rect x="601.4" y="298.1" width="1.0" height="6.9"/><rect x="602.4" y="298.8" width="1.0" height="6.2"/><rect x="603.4" y="299.8" width="1.0" height="5.2"/><rect x="604.4" y="295.1" width="1.0" height="9.9"/><rect x="605.4" y="299.6" width="1.0" height="5.4"/><rect x="606.4" y="297.8" width="1.0" height="7.2"/><rect x="607.4" y="299.1" width="1.0" height="5.9"/><rect x="608.4" y="298.7" width="1.0" height="6.3"/><rect x="609.4" y="298.9" width="1.0" height="6.1"/><rect x="610.4" y="299.1" width="1.0" height="5.9"/><rect x="611.4" y="300.0" width="1.0" height="5.0"/><rect x="612.4" y="297.9" width="1.0" height="7.1"/><rect x="613.4" y="299.8" width="1.0" height="5.2"/><rect x="614.4" y="299.4" width="1.0" height="5.6"/><rect x="615.4" y="298.3" width="1.0" height="6.7"/><rect x="616.4" y="298.4" width="1.0" height="6.6"/><rect x="617.4" y="299.4" width="1.0" height="5.6"/><rect x="618.4" y="298.5" width="1.0" height="6.5"/><rect x="619.4" y="298.6" width="1.0" height="6.4"/><rect x="620.4" y="300.1" width="1.0" height="4.9"/><rect x="621.4" y="299.7" width="1.0" height="5.3"/><rect x="622.4" y="300.5" width="1.0" height="4.5"/><rect x="623.4" y="299.3" width="1.0" height="5.7"/><rect x="624.4" y="300.6" width="1.0" height="4.4"/><rect x="625.4" y="300.0" width="1.0" height="5.0"/><rect x="626.4" y="300.7" width="1.0" height="4.3"/><rect x="627.4" y="299.8" width="1.0" height="5.2"/><rect x="628.4" y="301.0" width="1.0" height="4.0"/><rect x="629.4" y="299.6" width="1.0" height="5.4"/><rect x="630.4" y="299.9" width="1.0" height="5.1"/><rect x="631.4" y="299.4" width="1.0" height="5.6"/><rect x="632.4" y="299.5" width="1.0" height="5.5"/><rect x="633.4" y="300.5" width="1.0" height="4.5"/><rect x="634.4" y="300.1" width="1.0" height="4.9"/><rect x="635.4" y="301.4" width="1.0" height="3.6"/><rect x="636.4" y="299.8" width="1.0" height="5.2"/><rect x="637.4" y="299.9" width="1.0" height="5.1"/><rect x="638.4" y="300.2" width="1.0" height="4.8"/><rect x="639.4" y="300.5" width="1.0" height="4.5"/><rect x="640.4" y="299.3" width="1.0" height="5.7"/><rect x="641.4" y="300.3" width="1.0" height="4.7"/><rect x="642.4" y="300.8" width="1.0" height="4.2"/><rect x="643.4" y="301.4" width="1.0" height="3.6"/><rect x="644.4" y="301.4" width="1.0" height="3.6"/><rect x="645.4" y="301.2" width="1.0" height="3.8"/><rect x="646.4" y="300.2" width="1.0" height="4.8"/><rect x="647.4" y="301.0" width="1.0" height="4.0"/><rect x="648.4" y="301.3" width="1.0" height="3.7"/><rect x="649.4" y="301.5" width="1.0" height="3.5"/><rect x="650.4" y="301.4" width="1.0" height="3.6"/><rect x="651.4" y="301.7" width="1.0" height="3.3"/><rect x="652.4" y="301.1" width="1.0" height="3.9"/><rect x="653.4" y="302.1" width="1.0" height="2.9"/><rect x="654.4" y="301.1" width="1.0" height="3.9"/><rect x="655.4" y="302.3" width="1.0" height="2.7"/><rect x="656.4" y="301.5" width="1.0" height="3.5"/><rect x="657.4" y="301.4" width="1.0" height="3.6"/><rect x="658.4" y="302.4" width="1.0" height="2.6"/><rect x="659.4" y="301.3" width="1.0" height="3.7"/><rect x="660.4" y="302.4" width="1.0" height="2.6"/><rect x="661.4" y="301.4" width="1.0" height="3.6"/><rect x="662.4" y="302.3" width="1.0" height="2.7"/><rect x="663.4" y="302.5" width="1.0" height="2.5"/></g><g fill="#7272DA"><rect x="3.0" y="304.2" width="1.3" height="0.8"/><rect x="11.9" y="301.5" width="1.3" height="3.5"/><rect x="20.3" y="299.1" width="1.3" height="5.9"/><rect x="28.4" y="298.0" width="1.3" height="7.0"/><rect x="36.2" y="294.7" width="1.3" height="10.3"/><rect x="43.6" y="294.3" width="1.3" height="10.7"/><rect x="50.7" y="291.1" width="1.3" height="13.9"/><rect x="57.4" y="286.3" width="1.3" height="18.7"/><rect x="63.9" y="285.4" width="1.3" height="19.6"/><rect x="70.1" y="271.5" width="1.3" height="33.5"/><rect x="76.0" y="274.7" width="1.3" height="30.3"/><rect x="81.6" y="269.8" width="1.3" height="35.2"/><rect x="87.0" y="265.0" width="1.3" height="40.0"/><rect x="92.2" y="248.5" width="1.3" height="56.5"/><rect x="97.1" y="260.2" width="1.3" height="44.8"/><rect x="101.8" y="245.3" width="1.3" height="59.7"/><rect x="106.4" y="245.1" width="1.3" height="59.9"/><rect x="110.8" y="252.3" width="1.3" height="52.7"/><rect x="115.2" y="248.8" width="1.3" height="56.2"/><rect x="119.5" y="249.9" width="1.3" height="55.1"/><rect x="123.7" y="263.6" width="1.3" height="41.4"/><rect x="127.9" y="267.1" width="1.3" height="37.9"/><rect x="132.0" y="269.6" width="1.3" height="35.4"/><rect x="136.0" y="261.3" width="1.3" height="43.7"/><rect x="140.0" y="261.1" width="1.3" height="43.9"/><rect x="144.0" y="267.9" width="1.3" height="37.1"/><rect x="147.8" y="266.1" width="1.3" height="38.9"/><rect x="151.6" y="266.9" width="1.3" height="38.1"/><rect x="155.4" y="274.1" width="1.3" height="30.9"/><rect x="159.1" y="275.3" width="1.3" height="29.7"/><rect x="162.7" y="264.3" width="1.3" height="40.7"/><rect x="166.3" y="266.3" width="1.3" height="38.7"/><rect x="169.9" y="270.3" width="1.3" height="34.7"/><rect x="173.3" y="278.3" width="1.3" height="26.7"/><rect x="176.8" y="267.7" width="1.3" height="37.3"/><rect x="180.1" y="271.3" width="1.3" height="33.7"/><rect x="183.5" y="270.2" width="1.3" height="34.8"/><rect x="186.8" y="278.1" width="1.3" height="26.9"/><rect x="190.0" y="274.4" width="1.3" height="30.6"/><rect x="193.2" y="275.7" width="1.3" height="29.3"/><rect x="196.3" y="275.6" width="1.3" height="29.4"/><rect x="199.4" y="275.8" width="1.3" height="29.2"/><rect x="202.4" y="280.0" width="1.3" height="25.0"/><rect x="205.4" y="277.2" width="1.3" height="27.8"/><rect x="208.4" y="283.1" width="1.3" height="21.9"/><rect x="211.3" y="284.9" width="1.3" height="20.1"/><rect x="214.3" y="284.9" width="1.3" height="20.1"/><rect x="217.2" y="281.6" width="1.3" height="23.4"/><rect x="220.1" y="281.3" width="1.3" height="23.7"/><rect x="222.9" y="283.0" width="1.3" height="22.0"/><rect x="225.8" y="286.7" width="1.3" height="18.3"/><rect x="228.6" y="286.0" width="1.3" height="19.0"/><rect x="231.4" y="281.7" width="1.3" height="23.3"/><rect x="234.2" y="283.6" width="1.3" height="21.4"/><rect x="237.0" y="285.0" width="1.3" height="20.0"/><rect x="239.7" y="280.3" width="1.3" height="24.7"/><rect x="242.4" y="283.6" width="1.3" height="21.4"/><rect x="245.2" y="285.5" width="1.3" height="19.5"/><rect x="247.8" y="284.9" width="1.3" height="20.1"/><rect x="250.5" y="283.0" width="1.3" height="22.0"/><rect x="253.2" y="287.6" width="1.3" height="17.4"/><rect x="255.8" y="281.3" width="1.3" height="23.7"/><rect x="258.4" y="282.3" width="1.3" height="22.7"/><rect x="261.0" y="282.6" width="1.3" height="22.4"/><rect x="263.6" y="286.6" width="1.3" height="18.4"/><rect x="266.1" y="283.5" width="1.3" height="21.5"/><rect x="268.6" y="284.0" width="1.3" height="21.0"/><rect x="271.2" y="285.0" width="1.3" height="20.0"/><rect x="273.7" y="285.8" width="1.3" height="19.2"/><rect x="276.1" y="283.3" width="1.3" height="21.7"/><rect x="278.6" y="284.0" width="1.3" height="21.0"/><rect x="281.0" y="283.3" width="1.3" height="21.7"/><rect x="283.5" y="282.5" width="1.3" height="22.5"/><rect x="285.9" y="285.9" width="1.3" height="19.1"/><rect x="288.3" y="283.0" width="1.3" height="22.0"/><rect x="290.6" y="284.7" width="1.3" height="20.3"/><rect x="293.0" y="284.4" width="1.3" height="20.6"/><rect x="295.3" y="287.1" width="1.3" height="17.9"/><rect x="297.6" y="285.6" width="1.3" height="19.4"/><rect x="299.9" y="289.2" width="1.3" height="15.8"/><rect x="302.2" y="288.9" width="1.3" height="16.1"/><rect x="304.5" y="290.2" width="1.3" height="14.8"/><rect x="306.8" y="290.2" width="1.3" height="14.8"/><rect x="309.0" y="289.4" width="1.3" height="15.6"/><rect x="311.2" y="287.4" width="1.3" height="17.6"/><rect x="313.4" y="286.6" width="1.0" height="18.4"/><rect x="314.4" y="290.8" width="1.0" height="14.2"/><rect x="315.4" y="288.0" width="1.0" height="17.0"/><rect x="316.4" y="288.3" width="1.0" height="16.7"/><rect x="317.4" y="290.3" width="1.0" height="14.7"/><rect x="318.4" y="286.9" width="1.0" height="18.1"/><rect x="319.4" y="288.1" width="1.0" height="16.9"/><rect x="320.4" y="288.4" width="1.0" height="16.6"/><rect x="321.4" y="287.1" width="1.0" height="17.9"/><rect x="322.4" y="286.9" width="1.0" height="18.1"/><rect x="323.4" y="291.1" width="1.0" height="13.9"/><rect x="324.4" y="286.9" width="1.0" height="18.1"/><rect x="325.4" y="285.0" width="1.0" height="20.0"/><rect x="326.4" y="289.7" width="1.0" height="15.3"/><rect x="327.4" y="288.6" width="1.0" height="16.4"/><rect x="328.4" y="287.2" width="1.0" height="17.8"/><rect x="329.4" y="287.9" width="1.0" height="17.1"/><rect x="330.4" y="284.6" width="1.0" height="20.4"/><rect x="331.4" y="288.1" width="1.0" height="16.9"/><rect x="332.4" y="288.4" width="1.0" height="16.6"/><rect x="333.4" y="285.8" width="1.0" height="19.2"/><rect x="334.4" y="289.6" width="1.0" height="15.4"/><rect x="335.4" y="289.9" width="1.0" height="15.1"/><rect x="336.4" y="284.9" width="1.0" height="20.1"/><rect x="337.4" y="288.4" width="1.0" height="16.6"/><rect x="338.4" y="286.6" width="1.0" height="18.4"/><rect x="339.4" y="289.6" width="1.0" height="15.4"/><rect x="340.4" y="289.7" width="1.0" height="15.3"/><rect x="341.4" y="289.3" width="1.0" height="15.7"/><rect x="342.4" y="291.5" width="1.0" height="13.5"/><rect x="343.4" y="285.7" width="1.0" height="19.3"/><rect x="344.4" y="291.7" width="1.0" height="13.3"/><rect x="345.4" y="288.0" width="1.0" height="17.0"/><rect x="346.4" y="288.7" width="1.0" height="16.3"/><rect x="347.4" y="289.3" width="1.0" height="15.7"/><rect x="348.4" y="290.0" width="1.0" height="15.0"/><rect x="349.4" y="286.5" width="1.0" height="18.5"/><rect x="350.4" y="290.1" width="1.0" height="14.9"/><rect x="351.4" y="291.1" width="1.0" height="13.9"/><rect x="352.4" y="288.8" width="1.0" height="16.2"/><rect x="353.4" y="288.3" width="1.0" height="16.7"/><rect x="354.4" y="290.6" width="1.0" height="14.4"/><rect x="355.4" y="287.9" width="1.0" height="17.1"/><rect x="356.4" y="285.9" width="1.0" height="19.1"/><rect x="357.4" y="291.9" width="1.0" height="13.1"/><rect x="358.4" y="288.1" width="1.0" height="16.9"/><rect x="359.4" y="291.4" width="1.0" height="13.6"/><rect x="360.4" y="291.4" width="1.0" height="13.6"/><rect x="361.4" y="291.3" width="1.0" height="13.7"/><rect x="362.4" y="291.7" width="1.0" height="13.3"/><rect x="363.4" y="292.0" width="1.0" height="13.0"/><rect x="364.4" y="286.9" width="1.0" height="18.1"/><rect x="365.4" y="290.5" width="1.0" height="14.5"/><rect x="366.4" y="286.6" width="1.0" height="18.4"/><rect x="367.4" y="288.2" width="1.0" height="16.8"/><rect x="368.4" y="289.4" width="1.0" height="15.6"/><rect x="369.4" y="288.7" width="1.0" height="16.3"/><rect x="370.4" y="291.1" width="1.0" height="13.9"/><rect x="371.4" y="291.8" width="1.0" height="13.2"/><rect x="372.4" y="288.2" width="1.0" height="16.8"/><rect x="373.4" y="288.7" width="1.0" height="16.3"/><rect x="374.4" y="292.2" width="1.0" height="12.8"/><rect x="375.4" y="291.3" width="1.0" height="13.7"/><rect x="376.4" y="290.9" width="1.0" height="14.1"/><rect x="377.4" y="288.5" width="1.0" height="16.5"/><rect x="378.4" y="287.1" width="1.0" height="17.9"/><rect x="379.4" y="292.2" width="1.0" height="12.8"/><rect x="380.4" y="288.0" width="1.0" height="17.0"/><rect x="381.4" y="290.9" width="1.0" height="14.1"/><rect x="382.4" y="289.3" width="1.0" height="15.7"/><rect x="383.4" y="292.3" width="1.0" height="12.7"/><rect x="384.4" y="288.3" width="1.0" height="16.7"/><rect x="385.4" y="290.1" width="1.0" height="14.9"/><rect x="386.4" y="288.9" width="1.0" height="16.1"/><rect x="387.4" y="293.1" width="1.0" height="11.9"/><rect x="388.4" y="288.1" width="1.0" height="16.9"/><rect x="389.4" y="293.4" width="1.0" height="11.6"/><rect x="390.4" y="289.8" width="1.0" height="15.2"/><rect x="391.4" y="292.9" width="1.0" height="12.1"/><rect x="392.4" y="291.3" width="1.0" height="13.7"/><rect x="393.4" y="292.7" width="1.0" height="12.3"/><rect x="394.4" y="292.7" width="1.0" height="12.3"/><rect x="395.4" y="290.9" width="1.0" height="14.1"/><rect x="396.4" y="291.6" width="1.0" height="13.4"/><rect x="397.4" y="289.9" width="1.0" height="15.1"/><rect x="398.4" y="293.1" width="1.0" height="11.9"/><rect x="399.4" y="290.1" width="1.0" height="14.9"/><rect x="400.4" y="292.8" width="1.0" height="12.2"/><rect x="401.4" y="293.5" width="1.0" height="11.5"/><rect x="402.4" y="292.0" width="1.0" height="13.0"/><rect x="403.4" y="292.5" width="1.0" height="12.5"/><rect x="404.4" y="293.2" width="1.0" height="11.8"/><rect x="405.4" y="289.0" width="1.0" height="16.0"/><rect x="406.4" y="288.9" width="1.0" height="16.1"/><rect x="407.4" y="290.0" width="1.0" height="15.0"/><rect x="408.4" y="291.3" width="1.0" height="13.7"/><rect x="409.4" y="292.4" width="1.0" height="12.6"/><rect x="410.4" y="289.6" width="1.0" height="15.4"/><rect x="411.4" y="294.1" width="1.0" height="10.9"/><rect x="412.4" y="292.4" width="1.0" height="12.6"/><rect x="413.4" y="292.4" width="1.0" height="12.6"/><rect x="414.4" y="294.4" width="1.0" height="10.6"/><rect x="415.4" y="292.0" width="1.0" height="13.0"/><rect x="416.4" y="294.2" width="1.0" height="10.8"/><rect x="417.4" y="291.9" width="1.0" height="13.1"/><rect x="418.4" y="290.4" width="1.0" height="14.6"/><rect x="419.4" y="292.0" width="1.0" height="13.0"/><rect x="420.4" y="292.9" width="1.0" height="12.1"/><rect x="421.4" y="290.3" width="1.0" height="14.7"/><rect x="422.4" y="290.8" width="1.0" height="14.2"/><rect x="423.4" y="293.4" width="1.0" height="11.6"/><rect x="424.4" y="291.0" width="1.0" height="14.0"/><rect x="425.4" y="294.7" width="1.0" height="10.3"/><rect x="426.4" y="293.0" width="1.0" height="12.0"/><rect x="427.4" y="294.9" width="1.0" height="10.1"/><rect x="428.4" y="294.3" width="1.0" height="10.7"/><rect x="429.4" y="294.8" width="1.0" height="10.2"/><rect x="430.4" y="291.7" width="1.0" height="13.3"/><rect x="431.4" y="292.2" width="1.0" height="12.8"/><rect x="432.4" y="293.3" width="1.0" height="11.7"/><rect x="433.4" y="291.0" width="1.0" height="14.0"/><rect x="434.4" y="294.3" width="1.0" height="10.7"/><rect x="435.4" y="295.0" width="1.0" height="10.0"/><rect x="436.4" y="294.5" width="1.0" height="10.5"/><rect x="437.4" y="295.5" width="1.0" height="9.5"/><rect x="438.4" y="295.7" width="1.0" height="9.3"/><rect x="439.4" y="294.2" width="1.0" height="10.8"/><rect x="440.4" y="293.2" width="1.0" height="11.8"/><rect x="441.4" y="294.4" width="1.0" height="10.6"/><rect x="442.4" y="293.5" width="1.0" height="11.5"/><rect x="443.4" y="295.7" width="1.0" height="9.3"/><rect x="444.4" y="293.1" width="1.0" height="11.9"/><rect x="445.4" y="292.8" width="1.0" height="12.2"/><rect x="446.4" y="292.4" width="1.0" height="12.6"/><rect x="447.4" y="294.5" width="1.0" height="10.5"/><rect x="448.4" y="294.2" width="1.0" height="10.8"/><rect x="449.4" y="296.1" width="1.0" height="8.9"/><rect x="450.4" y="296.4" width="1.0" height="8.6"/><rect x="451.4" y="294.2" width="1.0" height="10.8"/><rect x="452.4" y="295.1" width="1.0" height="9.9"/><rect x="453.4" y="295.9" width="1.0" height="9.1"/><rect x="454.4" y="293.8" width="1.0" height="11.2"/><rect x="455.4" y="295.9" width="1.0" height="9.1"/><rect x="456.4" y="293.5" width="1.0" height="11.5"/><rect x="457.4" y="296.5" width="1.0" height="8.5"/><rect x="458.4" y="296.9" width="1.0" height="8.1"/><rect x="459.4" y="294.3" width="1.0" height="10.7"/><rect x="460.4" y="294.1" width="1.0" height="10.9"/><rect x="461.4" y="294.0" width="1.0" height="11.0"/><rect x="462.4" y="295.9" width="1.0" height="9.1"/><rect x="463.4" y="295.2" width="1.0" height="9.8"/><rect x="464.4" y="296.3" width="1.0" height="8.7"/><rect x="465.4" y="296.1" width="1.0" height="8.9"/><rect x="466.4" y="296.1" width="1.0" height="8.9"/><rect x="467.4" y="294.3" width="1.0" height="10.7"/><rect x="468.4" y="295.8" width="1.0" height="9.2"/><rect x="469.4" y="295.7" width="1.0" height="9.3"/><rect x="470.4" y="296.8" width="1.0" height="8.2"/><rect x="471.4" y="296.7" width="1.0" height="8.3"/><rect x="472.4" y="295.5" width="1.0" height="9.5"/><rect x="473.4" y="297.1" width="1.0" height="7.9"/><rect x="474.4" y="295.5" width="1.0" height="9.5"/><rect x="475.4" y="295.1" width="1.0" height="9.9"/><rect x="476.4" y="295.7" width="1.0" height="9.3"/><rect x="477.4" y="296.6" width="1.0" height="8.4"/><rect x="478.4" y="295.1" width="1.0" height="9.9"/><rect x="479.4" y="298.4" width="1.0" height="6.6"/><rect x="480.4" y="296.4" width="1.0" height="8.6"/><rect x="481.4" y="296.6" width="1.0" height="8.4"/><rect x="482.4" y="296.4" width="1.0" height="8.6"/><rect x="483.4" y="297.5" width="1.0" height="7.5"/><rect x="484.4" y="297.8" width="1.0" height="7.2"/><rect x="485.4" y="296.0" width="1.0" height="9.0"/><rect x="486.4" y="296.5" width="1.0" height="8.5"/><rect x="487.4" y="297.2" width="1.0" height="7.8"/><rect x="488.4" y="296.8" width="1.0" height="8.2"/><rect x="489.4" y="297.5" width="1.0" height="7.5"/><rect x="490.4" y="298.3" width="1.0" height="6.7"/><rect x="491.4" y="298.7" width="1.0" height="6.3"/><rect x="492.4" y="297.7" width="1.0" height="7.3"/><rect x="493.4" y="298.8" width="1.0" height="6.2"/><rect x="494.4" y="297.5" width="1.0" height="7.5"/><rect x="495.4" y="298.1" width="1.0" height="6.9"/><rect x="496.4" y="298.7" width="1.0" height="6.3"/><rect x="497.4" y="297.1" width="1.0" height="7.9"/><rect x="498.4" y="297.4" width="1.0" height="7.6"/><rect x="499.4" y="299.2" width="1.0" height="5.8"/><rect x="500.4" y="299.4" width="1.0" height="5.6"/><rect x="501.4" y="297.9" width="1.0" height="7.1"/><rect x="502.4" y="297.9" width="1.0" height="7.1"/><rect x="503.4" y="297.6" width="1.0" height="7.4"/><rect x="504.4" y="299.8" width="1.0" height="5.2"/><rect x="505.4" y="299.6" width="1.0" height="5.4"/><rect x="506.4" y="298.5" width="1.0" height="6.5"/><rect x="507.4" y="299.3" width="1.0" height="5.7"/><rect x="508.4" y="300.0" width="1.0" height="5.0"/><rect x="509.4" y="298.8" width="1.0" height="6.2"/><rect x="510.4" y="298.3" width="1.0" height="6.7"/><rect x="511.4" y="298.9" width="1.0" height="6.1"/><rect x="512.4" y="299.5" width="1.0" height="5.5"/><rect x="513.4" y="298.6" width="1.0" height="6.4"/><rect x="514.4" y="299.6" width="1.0" height="5.4"/><rect x="515.4" y="299.5" width="1.0" height="5.5"/><rect x="516.4" y="299.0" width="1.0" height="6.0"/><rect x="517.4" y="300.0" width="1.0" height="5.0"/><rect x="518.4" y="300.8" width="1.0" height="4.2"/><rect x="519.4" y="300.0" width="1.0" height="5.0"/><rect x="520.4" y="300.3" width="1.0" height="4.7"/><rect x="521.4" y="300.4" width="1.0" height="4.6"/><rect x="522.4" y="299.7" width="1.0" height="5.3"/><rect x="523.4" y="300.8" width="1.0" height="4.2"/><rect x="524.4" y="300.4" width="1.0" height="4.6"/><rect x="525.4" y="299.6" width="1.0" height="5.4"/><rect x="526.4" y="301.3" width="1.0" height="3.7"/><rect x="527.4" y="300.3" width="1.0" height="4.7"/><rect x="528.4" y="300.9" width="1.0" height="4.1"/><rect x="529.4" y="300.6" width="1.0" height="4.4"/><rect x="530.4" y="300.7" width="1.0" height="4.3"/><rect x="531.4" y="300.5" width="1.0" height="4.5"/><rect x="532.4" y="300.5" width="1.0" height="4.5"/><rect x="533.4" y="300.2" width="1.0" height="4.8"/><rect x="534.4" y="301.6" width="1.0" height="3.4"/><rect x="535.4" y="300.3" width="1.0" height="4.7"/><rect x="536.4" y="301.2" width="1.0" height="3.8"/><rect x="537.4" y="301.5" width="1.0" height="3.5"/><rect x="538.4" y="301.7" width="1.0" height="3.3"/><rect x="539.4" y="301.3" width="1.0" height="3.7"/><rect x="540.4" y="301.7" width="1.0" height="3.3"/><rect x="541.4" y="300.5" width="1.0" height="4.5"/><rect x="542.4" y="301.6" width="1.0" height="3.4"/><rect x="543.4" y="302.0" width="1.0" height="3.0"/><rect x="544.4" y="301.6" width="1.0" height="3.4"/><rect x="545.4" y="300.9" width="1.0" height="4.1"/><rect x="546.4" y="300.6" width="1.0" height="4.4"/><rect x="547.4" y="301.9" width="1.0" height="3.1"/><rect x="548.4" y="301.6" width="1.0" height="3.4"/><rect x="549.4" y="300.7" width="1.0" height="4.3"/><rect x="550.4" y="301.8" width="1.0" height="3.2"/><rect x="551.4" y="302.0" width="1.0" height="3.0"/><rect x="552.4" y="302.2" width="1.0" height="2.8"/><rect x="553.4" y="301.5" width="1.0" height="3.5"/><rect x="554.4" y="302.1" width="1.0" height="2.9"/><rect x="555.4" y="301.7" width="1.0" height="3.3"/><rect x="556.4" y="301.8" width="1.0" height="3.2"/><rect x="557.4" y="301.0" width="1.0" height="4.0"/><rect x="558.4" y="301.3" width="1.0" height="3.7"/><rect x="559.4" y="301.0" width="1.0" height="4.0"/><rect x="560.4" y="301.1" width="1.0" height="3.9"/><rect x="561.4" y="301.3" width="1.0" height="3.7"/><rect x="562.4" y="301.1" width="1.0" height="3.9"/><rect x="563.4" y="301.3" width="1.0" height="3.7"/><rect x="564.4" y="301.7" width="1.0" height="3.3"/><rect x="565.4" y="301.8" width="1.0" height="3.2"/><rect x="566.4" y="302.0" width="1.0" height="3.0"/><rect x="567.4" y="302.1" width="1.0" height="2.9"/><rect x="568.4" y="301.5" width="1.0" height="3.5"/><rect x="569.4" y="301.7" width="1.0" height="3.3"/><rect x="570.4" y="302.2" width="1.0" height="2.8"/><rect x="571.4" y="302.0" width="1.0" height="3.0"/><rect x="572.4" y="302.4" width="1.0" height="2.6"/><rect x="573.4" y="301.9" width="1.0" height="3.1"/><rect x="574.4" y="301.6" width="1.0" height="3.4"/><rect x="575.4" y="302.5" width="1.0" height="2.5"/><rect x="576.4" y="301.7" width="1.0" height="3.3"/><rect x="577.4" y="302.4" width="1.0" height="2.6"/><rect x="578.4" y="302.6" width="1.0" height="2.4"/><rect x="579.4" y="302.6" width="1.0" height="2.4"/><rect x="580.4" y="301.6" width="1.0" height="3.4"/><rect x="581.4" y="301.9" width="1.0" height="3.1"/><rect x="582.4" y="301.8" width="1.0" height="3.2"/><rect x="583.4" y="302.7" width="1.0" height="2.3"/><rect x="584.4" y="301.7" width="1.0" height="3.3"/><rect x="585.4" y="302.5" width="1.0" height="2.5"/><rect x="586.4" y="302.6" width="1.0" height="2.4"/><rect x="587.4" y="302.7" width="1.0" height="2.3"/><rect x="588.4" y="302.1" width="1.0" height="2.9"/><rect x="589.4" y="302.3" width="1.0" height="2.7"/><rect x="590.4" y="302.2" width="1.0" height="2.8"/><rect x="591.4" y="302.6" width="1.0" height="2.4"/><rect x="592.4" y="301.9" width="1.0" height="3.1"/><rect x="593.4" y="302.5" width="1.0" height="2.5"/><rect x="594.4" y="302.6" width="1.0" height="2.4"/><rect x="595.4" y="302.6" width="1.0" height="2.4"/><rect x="596.4" y="302.3" width="1.0" height="2.7"/><rect x="597.4" y="302.9" width="1.0" height="2.1"/><rect x="598.4" y="302.9" width="1.0" height="2.1"/><rect x="599.4" y="302.4" width="1.0" height="2.6"/><rect x="600.4" y="302.7" width="1.0" height="2.3"/><rect x="601.4" y="302.8" width="1.0" height="2.2"/><rect x="602.4" y="303.0" width="1.0" height="2.0"/><rect x="603.4" y="302.7" width="1.0" height="2.3"/><rect x="604.4" y="302.8" width="1.0" height="2.2"/><rect x="605.4" y="302.4" width="1.0" height="2.6"/><rect x="606.4" y="303.0" width="1.0" height="2.0"/><rect x="607.4" y="303.1" width="1.0" height="1.9"/><rect x="608.4" y="303.1" width="1.0" height="1.9"/><rect x="609.4" y="302.3" width="1.0" height="2.7"/><rect x="610.4" y="302.5" width="1.0" height="2.5"/><rect x="611.4" y="303.2" width="1.0" height="1.8"/><rect x="612.4" y="302.9" width="1.0" height="2.1"/><rect x="613.4" y="302.4" width="1.0" height="2.6"/><rect x="614.4" y="302.8" width="1.0" height="2.2"/><rect x="615.4" y="302.8" width="1.0" height="2.2"/><rect x="616.4" y="302.6" width="1.0" height="2.4"/><rect x="617.4" y="303.3" width="1.0" height="1.7"/><rect x="618.4" y="303.0" width="1.0" height="2.0"/><rect x="619.4" y="303.0" width="1.0" height="2.0"/><rect x="620.4" y="303.2" width="1.0" height="1.8"/><rect x="621.4" y="302.9" width="1.0" height="2.1"/><rect x="622.4" y="302.9" width="1.0" height="2.1"/><rect x="623.4" y="302.7" width="1.0" height="2.3"/><rect x="624.4" y="303.4" width="1.0" height="1.6"/><rect x="625.4" y="302.8" width="1.0" height="2.2"/><rect x="626.4" y="303.4" width="1.0" height="1.6"/><rect x="627.4" y="303.3" width="1.0" height="1.7"/><rect x="628.4" y="303.5" width="1.0" height="1.5"/><rect x="629.4" y="303.1" width="1.0" height="1.9"/><rect x="630.4" y="303.0" width="1.0" height="2.0"/><rect x="631.4" y="303.4" width="1.0" height="1.6"/><rect x="632.4" y="303.3" width="1.0" height="1.7"/><rect x="633.4" y="303.5" width="1.0" height="1.5"/><rect x="634.4" y="303.2" width="1.0" height="1.8"/><rect x="635.4" y="303.5" width="1.0" height="1.5"/><rect x="636.4" y="303.4" width="1.0" height="1.6"/><rect x="637.4" y="303.5" width="1.0" height="1.5"/><rect x="638.4" y="303.3" width="1.0" height="1.7"/><rect x="639.4" y="303.6" width="1.0" height="1.4"/><rect x="640.4" y="303.3" width="1.0" height="1.7"/><rect x="641.4" y="303.7" width="1.0" height="1.3"/><rect x="642.4" y="303.7" width="1.0" height="1.3"/><rect x="643.4" y="303.3" width="1.0" height="1.7"/><rect x="644.4" y="303.4" width="1.0" height="1.6"/><rect x="645.4" y="303.7" width="1.0" height="1.3"/><rect x="646.4" y="303.5" width="1.0" height="1.5"/><rect x="647.4" y="303.6" width="1.0" height="1.4"/><rect x="648.4" y="303.5" width="1.0" height="1.5"/><rect x="649.4" y="303.5" width="1.0" height="1.5"/><rect x="650.4" y="303.9" width="1.0" height="1.1"/><rect x="651.4" y="303.9" width="1.0" height="1.1"/><rect x="652.4" y="303.6" width="1.0" height="1.4"/><rect x="653.4" y="303.8" width="1.0" height="1.2"/><rect x="654.4" y="303.8" width="1.0" height="1.2"/><rect x="655.4" y="303.7" width="1.0" height="1.3"/><rect x="656.4" y="303.8" width="1.0" height="1.2"/><rect x="657.4" y="303.8" width="1.0" height="1.2"/><rect x="658.4" y="303.6" width="1.0" height="1.4"/><rect x="659.4" y="303.9" width="1.0" height="1.1"/><rect x="660.4" y="304.1" width="1.0" height="0.9"/><rect x="661.4" y="304.0" width="1.0" height="1.0"/><rect x="662.4" y="304.0" width="1.0" height="1.0"/><rect x="663.4" y="303.8" width="1.0" height="1.2"/></g></g><rect x="312.4" y="1" width="1.6" height="304" fill="#3AA0F0"/><rect x="317.1" y="1" width="1.6" height="304" fill="#40D040"/><rect x="371.6" y="1" width="1.6" height="304" fill="#E04040"/><rect x="374.5" y="1" width="1.6" height="304" fill="#F0A040"/></svg>
<svg class=a style="left:2318px;top:841px;" width="665" height="14" viewBox="0 0 665 14"><rect x="4.3" y="0" width="1.4" height="6" fill="#888"/><rect x="21.7" y="0" width="1.4" height="6" fill="#888"/><rect x="37.0" y="0" width="1.4" height="6" fill="#888"/><rect x="50.7" y="0" width="1.4" height="12" fill="#888"/><rect x="140.7" y="0" width="1.4" height="6" fill="#888"/><rect x="193.3" y="0" width="1.4" height="6" fill="#888"/><rect x="230.7" y="0" width="1.4" height="6" fill="#888"/><rect x="259.7" y="0" width="1.4" height="6" fill="#888"/><rect x="283.4" y="0" width="1.4" height="6" fill="#888"/><rect x="303.4" y="0" width="1.4" height="6" fill="#888"/><rect x="320.7" y="0" width="1.4" height="6" fill="#888"/><rect x="336.0" y="0" width="1.4" height="6" fill="#888"/><rect x="349.7" y="0" width="1.4" height="12" fill="#888"/><rect x="439.7" y="0" width="1.4" height="6" fill="#888"/><rect x="492.4" y="0" width="1.4" height="6" fill="#888"/><rect x="529.7" y="0" width="1.4" height="6" fill="#888"/><rect x="558.7" y="0" width="1.4" height="6" fill="#888"/><rect x="582.4" y="0" width="1.4" height="6" fill="#888"/><rect x="602.4" y="0" width="1.4" height="6" fill="#888"/><rect x="619.8" y="0" width="1.4" height="6" fill="#888"/><rect x="635.1" y="0" width="1.4" height="6" fill="#888"/><rect x="648.7" y="0" width="1.4" height="12" fill="#888"/></svg>
<div class=a style="left:2318.0px;top:841.0px;width:1.4px;height:35.0px;background:#888"></div>
<div class=a style="left:2982.0px;top:841.0px;width:1.4px;height:35.0px;background:#888"></div>
<div class=t style="left:2370.7px;top:855.5px;color:#808080">1 μs</div>
<div class=t style="left:2669.7px;top:855.5px;color:#808080">10 μs</div>
<div class=t style="left:2968.7px;top:855.5px;color:#808080;width:16px;overflow:hidden">10</div>
<div class=t style="left:2318.0px;top:877.7px;color:#808080">677 ns</div>
<svg class=a style="left:2581px;top:880px;" width="22" height="14" viewBox="0 0 22 14"><path d="M21 7H4M9 1L2 7l7 6" stroke="#888" stroke-width="2.6" fill="none"/></svg>
<div class=t style="left:2605.0px;top:877.7px;color:#808080">112.66 μs</div>
<svg class=a style="left:2697px;top:880px;" width="22" height="14" viewBox="0 0 22 14"><path d="M1 7h17M13 1l7 6-7 6" stroke="#888" stroke-width="2.6" fill="none"/></svg>
<div class=t style="left:2983.0px;top:877.7px;color:#808080;transform:translateX(-100%)">113.33 μs</div>
<div class=a style="left:2287.0px;top:903.3px;width:694.0px;height:1.0px;background:#45454B"></div>
<div class=a style="left:2287.5px;top:909.2px;width:22.0px;height:22.0px;background:#23354C;border-radius:5px;box-sizing:border-box;border:1px solid #3a4150"></div>
<div class=t style="left:2316.2px;top:911.8px">Show zone time in frames</div>
<div class=a style="left:2287.0px;top:938.2px;width:694.0px;height:1.0px;background:#45454B"></div>
<div class=t style="left:2287.5px;top:946.5px">Found zones:</div>
<div class=t style="left:2417.7px;top:946.5px;color:#808080">(?)</div>
<div class=a style="left:2450.0px;top:944.7px;width:86.6px;height:21.6px;background:#2B4D72;border-radius:6px;box-sizing:border-box;border:1px solid #4b5a70"></div>
<svg class=a style="left:2456px;top:949px;" width="24" height="14" viewBox="0 0 24 14"><path d="M7 1H23V13H7L1 7z" fill="#fff"/><path d="M11.5 4L16.5 10M16.5 4L11.5 10" stroke="#2B4D72" stroke-width="2"/></svg>
<div class=t style="left:2485.0px;top:946.5px">Clear</div>
<div class=t style="left:2287.5px;top:975.5px">Group by:</div>
<div class=a style="left:2389.0px;top:973.7px;width:22.0px;height:22.0px;background:#23354C;border-radius:50%;box-sizing:border-box;border:1px solid #3a4150"></div>
<div class=t style="left:2417.7px;top:975.5px">Thread</div>
<div class=a style="left:2493.7px;top:973.7px;width:22.0px;height:22.0px;background:#23354C;border-radius:50%;box-sizing:border-box;border:1px solid #3a4150"></div>
<div class=t style="left:2522.4px;top:975.5px">User text</div>
<div class=a style="left:2616.0px;top:973.7px;width:22.0px;height:22.0px;background:#23354C;border-radius:50%;box-sizing:border-box;border:1px solid #3a4150"></div>
<div class=t style="left:2644.7px;top:975.5px">Zone name</div>
<div class=a style="left:2758.5px;top:973.7px;width:22.0px;height:22.0px;background:#23354C;border-radius:50%;box-sizing:border-box;border:1px solid #3a4150"></div>
<div class=t style="left:2787.2px;top:975.5px">Call stacks</div>
<div class=a style="left:2890.0px;top:973.7px;width:22.0px;height:22.0px;background:#23354C;border-radius:50%;box-sizing:border-box;border:1px solid #3a4150"></div>
<div class=a style="left:2893.5px;top:977.2px;width:15.0px;height:15.0px;background:#4296FA;border-radius:50%"></div>
<div class=t style="left:2918.7px;top:975.5px">Parent</div>
<div class=t style="left:2287.5px;top:1004.5px">Sort by:</div>
<div class=a style="left:2368.0px;top:1002.7px;width:22.0px;height:22.0px;background:#23354C;border-radius:50%;box-sizing:border-box;border:1px solid #3a4150"></div>
<div class=t style="left:2396.7px;top:1004.5px">Order</div>
<div class=a style="left:2463.0px;top:1002.7px;width:22.0px;height:22.0px;background:#23354C;border-radius:50%;box-sizing:border-box;border:1px solid #3a4150"></div>
<div class=a style="left:2466.5px;top:1006.2px;width:15.0px;height:15.0px;background:#4296FA;border-radius:50%"></div>
<div class=t style="left:2491.7px;top:1004.5px">Count</div>
<div class=a style="left:2558.0px;top:1002.7px;width:22.0px;height:22.0px;background:#23354C;border-radius:50%;box-sizing:border-box;border:1px solid #3a4150"></div>
<div class=t style="left:2586.7px;top:1004.5px">Time</div>
<div class=a style="left:2643.0px;top:1002.7px;width:22.0px;height:22.0px;background:#23354C;border-radius:50%;box-sizing:border-box;border:1px solid #3a4150"></div>
<div class=t style="left:2671.7px;top:1004.5px">MTPC</div>
<div class=t style="left:2732.8px;top:1004.5px;color:#808080">(?)</div>
<div class=a style="left:2322.0px;top:1060.0px;width:660.8px;height:23.0px;background:#263B50"></div>
<div class=a style="left:2287.5px;top:1032.0px;width:22.0px;height:22.0px;background:#5AA8A0;border-radius:4px;box-sizing:border-box;border:1px solid rgba(0,0,0,0.25)"></div>
<svg class=a style="left:2334px;top:1036px;" width="12" height="14" viewBox="0 0 12 14"><path d="M1 1L11 7L1 13z" fill="#fff"/></svg>
<div class=t style="left:2357.6px;top:1033.8px">Create</div>
<div class=t style="left:2436.6px;top:1033.8px;color:#808080">(54,131) 643.34 ms</div>
<div class=a style="left:2287.5px;top:1061.0px;width:22.0px;height:22.0px;background:#B0A870;border-radius:4px;box-sizing:border-box;border:1px solid rgba(0,0,0,0.25)"></div>
<svg class=a style="left:2334px;top:1065px;" width="12" height="14" viewBox="0 0 12 14"><path d="M1 1L11 7L1 13z" fill="#fff"/></svg>
<div class=t style="left:2357.6px;top:1062.8px">AddTree</div>
<div class=t style="left:2448.1px;top:1062.8px;color:#808080">(18,542) 227.19 ms</div>
<div class=a style="left:2287.5px;top:1090.0px;width:22.0px;height:22.0px;background:#B060B0;border-radius:4px;box-sizing:border-box;border:1px solid rgba(0,0,0,0.25)"></div>
<svg class=a style="left:2334px;top:1094px;" width="12" height="14" viewBox="0 0 12 14"><path d="M1 1L11 7L1 13z" fill="#fff"/></svg>
<div class=t style="left:2357.6px;top:1091.8px">LoadLevel</div>
<div class=t style="left:2461.6px;top:1091.8px;color:#808080">(18) 406.88 μs</div>
<div class=a style="left:2287.5px;top:1119.0px;width:22.0px;height:22.0px;background:#000000;border-radius:4px;box-sizing:border-box;border:1px solid rgba(0,0,0,0.25)"></div>
<svg class=a style="left:2334px;top:1123px;" width="12" height="14" viewBox="0 0 12 14"><path d="M1 1L11 7L1 13z" fill="#fff"/></svg>
<div class=t style="left:2357.6px;top:1120.8px">&lt;no parent&gt;</div>
<div class=t style="left:2476.6px;top:1120.8px;color:#808080">(9) 225.73 μs</div>
<svg class=a style="left:2993px;top:1135px;" width="22" height="22" viewBox="0 0 22 22"><path d="M22 0V22H0z" fill="#2E4A70"/></svg>
<div class=a style="left:1860.0px;top:1164.5px;width:1156.0px;height:440.5px;background:#1C1D17;box-sizing:border-box;border:1px solid #46464E"></div>
<div class=a style="left:1860.0px;top:1164.5px;width:1156.0px;height:30.5px;background:#0A0A0A;box-sizing:border-box;border:1px solid #46464E"></div>
<svg class=a style="left:1871.5px;top:1172.75px;" width="16" height="14" viewBox="0 0 16 14"><path d="M0.5 1H15.5L8 13.5z" fill="#fff"/></svg>
<div class=t style="left:1896.0px;top:1170.6px">Memory</div>
<svg class=a style="left:2989.5px;top:1171.75px;" width="16" height="16" viewBox="0 0 16 16"><path d="M1 1L15 15M15 1L1 15" stroke="#e8e8e8" stroke-width="1.6"/></svg>
<div class=t style="left:1871.8px;top:1210.8px;color:#808080">Total allocations:</div>
<div class=t style="left:2031.0px;top:1210.8px">5,221,308</div>
<div class=t style="left:2160.3px;top:1210.8px;color:#808080">Active allocations:</div>
<div class=t style="left:2329.0px;top:1210.8px">70,311</div>
<div class=t style="left:2447.0px;top:1210.8px;color:#808080">Memory usage:</div>
<div class=t style="left:2595.2px;top:1210.8px">7951.03 KB</div>
<div class=t style="left:2731.7px;top:1210.8px;color:#808080">Memory span:</div>
<div class=t style="left:2871.4px;top:1210.8px">13.45 GB</div>
<div class=t style="left:2974.7px;top:1210.8px;color:#808080">(?)</div>
<div class=a style="left:1867.0px;top:1242.0px;width:1143.0px;height:1.0px;background:#45454B"></div>
<svg class=a style="left:1884px;top:1252.2px;" width="12" height="14" viewBox="0 0 12 14"><path d="M1 1L11 7L1 13z" fill="#fff"/></svg>
<div class=t style="left:1906.9px;top:1250.0px">@ Allocations</div>
<div class=a style="left:1872.0px;top:1276.5px;width:1133.0px;height:1.0px;background:#45454B"></div>
<svg class=a style="left:1883px;top:1288.2px;" width="14" height="12" viewBox="0 0 14 12"><path d="M1 1H13L7 11z" fill="#fff"/></svg>
<svg class=a style="left:1907px;top:1284px;" width="22" height="20" viewBox="0 0 22 20"><path d="M11 19L2.5 10.5A5 5 0 0 1 11 4a5 5 0 0 1 8.5 6.5z" fill="#fff"/><path d="M2 10h5l2-3 3 6 2-3h6" stroke="#1C1D17" stroke-width="2" fill="none"/></svg>
<div class=t style="left:1936.4px;top:1285.0px">Active allocations</div>
<div class=t style="left:2100.2px;top:1285.0px;color:#808080">(70,311)</div>
<div class=t style="left:2196.7px;top:1285.0px;color:#808080">Memory usage:</div>
<div class=t style="left:2345.0px;top:1285.0px">7951.03 KB</div>
<div class=a style="left:1903.2px;top:1311.5px;width:1078.3px;height:29.1px;background:#303033"></div>
<div class=a style="left:1903.2px;top:1340.2px;width:1078.3px;height:1.0px;background:#50505A"></div>
<div class=t style="left:1903.2px;top:1316.8px">Address</div>
<div class=t style="left:2050.2px;top:1316.8px">Size</div>
<div class=t style="left:2157.0px;top:1316.8px">Appeared at</div>
<div class=t style="left:2317.7px;top:1316.8px">Dura...</div>
<div class=t style="left:2406.0px;top:1316.8px">Thread</div>
<div class=t style="left:2621.2px;top:1316.8px">Zone alloc</div>
<div class=t style="left:2732.6px;top:1316.8px">Zone free</div>
<div class=t style="left:2839.5px;top:1316.8px">Call stack</div>
<svg class=a style="left:2029.7px;top:1316px;" width="12" height="10" viewBox="0 0 12 10"><path d="M6 1L11 9H1z" fill="#fff"/></svg>
<div class=a style="left:2043.4px;top:1311.5px;width:1.0px;height:293.5px;background:#3B3B40"></div>
<div class=a style="left:2150.3px;top:1311.5px;width:1.0px;height:293.5px;background:#3B3B40"></div>
<div class=a style="left:2310.4px;top:1311.5px;width:1.0px;height:293.5px;background:#3B3B40"></div>
<div class=a style="left:2399.6px;top:1311.5px;width:1.0px;height:293.5px;background:#3B3B40"></div>
<div class=a style="left:2614.3px;top:1311.5px;width:1.0px;height:293.5px;background:#3B3B40"></div>
<div class=a style="left:2725.8px;top:1311.5px;width:1.0px;height:293.5px;background:#3B3B40"></div>
<div class=a style="left:2832.7px;top:1311.5px;width:1.0px;height:293.5px;background:#3B3B40"></div>
<div class=a style="left:2986.0px;top:1314.7px;width:14.0px;height:17.3px;background:#4F4F4F;border-radius:7px"></div>
<div class=t style="left:1903.2px;top:1346.4px;font-size:18.2px;line-height:18.2px;font-family:'Liberation Mono',monospace">0x74a9d37040</div>
<div class=t style="left:2050.2px;top:1345.8px">186.35 KB</div>
<div class=t style="left:2157.0px;top:1345.8px;width:152px;overflow:hidden">295,999,844ns</div>
<div class=t style="left:2317.7px;top:1345.8px;color:#80DD80">13:50.7</div>
<div class=a style="left:2406.0px;top:1344.0px;width:22.0px;height:22.0px;background:#5AAF8A;border-radius:4px;box-sizing:border-box;border:1px solid rgba(0,0,0,0.25)"></div>
<div class=t style="left:2441.5px;top:1345.8px;width:172px;overflow:hidden">GLThread 336</div>
<div class=t style="left:2621.2px;top:1345.8px">-</div>
<div class=t style="left:2732.6px;top:1345.8px;color:#80DD80">active</div>
<div class=a style="left:2838.6px;top:1343.5px;width:52.4px;height:23.0px;background:#2B4D72;border-radius:8px;box-sizing:border-box;border:1px solid #4b5a70"></div>
<div class=t style="left:2844.0px;top:1345.8px">alloc</div>
<div class=t style="left:2914.6px;top:1345.8px;color:#808080">[free]</div>
<div class=t style="left:1903.2px;top:1375.4px;font-size:18.2px;line-height:18.2px;font-family:'Liberation Mono',monospace">0x74a9d68040</div>
<div class=t style="left:2050.2px;top:1374.8px">256 KB</div>
<div class=t style="left:2157.0px;top:1374.8px;width:152px;overflow:hidden">295,668,489ns</div>
<div class=t style="left:2317.7px;top:1374.8px;color:#80DD80">13:50.7</div>
<div class=a style="left:2406.0px;top:1373.0px;width:22.0px;height:22.0px;background:#5AAF8A;border-radius:4px;box-sizing:border-box;border:1px solid rgba(0,0,0,0.25)"></div>
<div class=t style="left:2441.5px;top:1374.8px;width:172px;overflow:hidden">GLThread 336</div>
<div class=t style="left:2621.2px;top:1374.8px">-</div>
<div class=t style="left:2732.6px;top:1374.8px;color:#80DD80">active</div>
<div class=a style="left:2838.6px;top:1372.5px;width:52.4px;height:23.0px;background:#2B4D72;border-radius:8px;box-sizing:border-box;border:1px solid #4b5a70"></div>
<div class=t style="left:2844.0px;top:1374.8px">alloc</div>
<div class=t style="left:2914.6px;top:1374.8px;color:#808080">[free]</div>
<div class=t style="left:1903.2px;top:1404.4px;font-size:18.2px;line-height:18.2px;font-family:'Liberation Mono',monospace">0x74ab1be040</div>
<div class=t style="left:2050.2px;top:1403.8px">186.68 KB</div>
<div class=t style="left:2157.0px;top:1403.8px;width:152px;overflow:hidden">294,645,364ns</div>
<div class=t style="left:2317.7px;top:1403.8px;color:#80DD80">13:50.7</div>
<div class=a style="left:2406.0px;top:1402.0px;width:22.0px;height:22.0px;background:#5AAF8A;border-radius:4px;box-sizing:border-box;border:1px solid rgba(0,0,0,0.25)"></div>
<div class=t style="left:2441.5px;top:1403.8px;width:172px;overflow:hidden">GLThread 336</div>
<div class=t style="left:2621.2px;top:1403.8px">-</div>
<div class=t style="left:2732.6px;top:1403.8px;color:#80DD80">active</div>
<div class=a style="left:2838.6px;top:1401.5px;width:52.4px;height:23.0px;background:#2B4D72;border-radius:8px;box-sizing:border-box;border:1px solid #4b5a70"></div>
<div class=t style="left:2844.0px;top:1403.8px">alloc</div>
<div class=t style="left:2914.6px;top:1403.8px;color:#808080">[free]</div>
<div class=t style="left:1903.2px;top:1433.4px;font-size:18.2px;line-height:18.2px;font-family:'Liberation Mono',monospace">0x74ab1ef040</div>
<div class=t style="left:2050.2px;top:1432.8px">256 KB</div>
<div class=t style="left:2157.0px;top:1432.8px;width:152px;overflow:hidden">294,629,948ns</div>
<div class=t style="left:2317.7px;top:1432.8px;color:#80DD80">13:50.7</div>
<div class=a style="left:2406.0px;top:1431.0px;width:22.0px;height:22.0px;background:#5AAF8A;border-radius:4px;box-sizing:border-box;border:1px solid rgba(0,0,0,0.25)"></div>
<div class=t style="left:2441.5px;top:1432.8px;width:172px;overflow:hidden">GLThread 336</div>
<div class=t style="left:2621.2px;top:1432.8px">-</div>
<div class=t style="left:2732.6px;top:1432.8px;color:#80DD80">active</div>
<div class=a style="left:2838.6px;top:1430.5px;width:52.4px;height:23.0px;background:#2B4D72;border-radius:8px;box-sizing:border-box;border:1px solid #4b5a70"></div>
<div class=t style="left:2844.0px;top:1432.8px">alloc</div>
<div class=t style="left:2914.6px;top:1432.8px;color:#808080">[free]</div>
<div class=t style="left:1903.2px;top:1462.4px;font-size:18.2px;line-height:18.2px;font-family:'Liberation Mono',monospace">0x74ab9e5040</div>
<div class=t style="left:2050.2px;top:1461.8px">256 KB</div>
<div class=t style="left:2157.0px;top:1461.8px;width:152px;overflow:hidden">293,994,219ns</div>
<div class=t style="left:2317.7px;top:1461.8px;color:#80DD80">13:50.7</div>
<div class=a style="left:2406.0px;top:1460.0px;width:22.0px;height:22.0px;background:#5AAF8A;border-radius:4px;box-sizing:border-box;border:1px solid rgba(0,0,0,0.25)"></div>
<div class=t style="left:2441.5px;top:1461.8px;width:172px;overflow:hidden">GLThread 336</div>
<div class=t style="left:2621.2px;top:1461.8px">-</div>
<div class=t style="left:2732.6px;top:1461.8px;color:#80DD80">active</div>
<div class=a style="left:2838.6px;top:1459.5px;width:52.4px;height:23.0px;background:#2B4D72;border-radius:8px;box-sizing:border-box;border:1px solid #4b5a70"></div>
<div class=t style="left:2844.0px;top:1461.8px">alloc</div>
<div class=t style="left:2914.6px;top:1461.8px;color:#808080">[free]</div>
<div class=t style="left:1903.2px;top:1491.4px;font-size:18.2px;line-height:18.2px;font-family:'Liberation Mono',monospace">0x7531d7b040</div>
<div class=t style="left:2050.2px;top:1490.8px">96 KB</div>
<div class=t style="left:2157.0px;top:1490.8px;width:152px;overflow:hidden">1:10 234,952,161</div>
<div class=t style="left:2317.7px;top:1490.8px;color:#80DD80">12:40.7</div>
<div class=a style="left:2406.0px;top:1489.0px;width:22.0px;height:22.0px;background:#6A5FC0;border-radius:4px;box-sizing:border-box;border:1px solid rgba(0,0,0,0.25)"></div>
<div class=t style="left:2441.5px;top:1490.8px;width:172px;overflow:hidden">Tracy Symbol Worke</div>
<div class=t style="left:2621.2px;top:1490.8px">-</div>
<div class=t style="left:2732.6px;top:1490.8px;color:#80DD80">active</div>
<div class=a style="left:2838.6px;top:1488.5px;width:52.4px;height:23.0px;background:#2B4D72;border-radius:8px;box-sizing:border-box;border:1px solid #4b5a70"></div>
<div class=t style="left:2844.0px;top:1490.8px">alloc</div>
<div class=t style="left:2914.6px;top:1490.8px;color:#808080">[free]</div>
<div class=t style="left:1903.2px;top:1520.4px;font-size:18.2px;line-height:18.2px;font-family:'Liberation Mono',monospace">0x7553b9fa50</div>
<div class=t style="left:2050.2px;top:1519.8px">8 bytes</div>
<div class=t style="left:2157.0px;top:1519.8px;width:152px;overflow:hidden">153,492,240ns</div>
<div class=t style="left:2317.7px;top:1519.8px;color:#80DD80">13:50.8</div>
<div class=a style="left:2406.0px;top:1518.0px;width:22.0px;height:22.0px;background:#B07860;border-radius:4px;box-sizing:border-box;border:1px solid rgba(0,0,0,0.25)"></div>
<div class=t style="left:2441.5px;top:1519.8px;width:172px;overflow:hidden">Main thread</div>
<div class=t style="left:2621.2px;top:1519.8px">-</div>
<div class=t style="left:2732.6px;top:1519.8px;color:#80DD80">active</div>
<div class=a style="left:2838.6px;top:1517.5px;width:52.4px;height:23.0px;background:#2B4D72;border-radius:8px;box-sizing:border-box;border:1px solid #4b5a70"></div>
<div class=t style="left:2844.0px;top:1519.8px">alloc</div>
<div class=t style="left:2914.6px;top:1519.8px;color:#808080">[free]</div>
<div class=t style="left:1903.2px;top:1549.4px;font-size:18.2px;line-height:18.2px;font-family:'Liberation Mono',monospace">0x7553b9fa90</div>
<div class=t style="left:2050.2px;top:1548.8px">16 bytes</div>
<div class=t style="left:2157.0px;top:1548.8px;width:152px;overflow:hidden">153,722,396ns</div>
<div class=t style="left:2317.7px;top:1548.8px;color:#80DD80">13:50.8</div>
<div class=a style="left:2406.0px;top:1547.0px;width:22.0px;height:22.0px;background:#B07860;border-radius:4px;box-sizing:border-box;border:1px solid rgba(0,0,0,0.25)"></div>
<div class=t style="left:2441.5px;top:1548.8px;width:172px;overflow:hidden">Main thread</div>
<div class=t style="left:2621.2px;top:1548.8px">-</div>
<div class=t style="left:2732.6px;top:1548.8px;color:#80DD80">active</div>
<div class=a style="left:2838.6px;top:1546.5px;width:52.4px;height:23.0px;background:#2B4D72;border-radius:8px;box-sizing:border-box;border:1px solid #4b5a70"></div>
<div class=t style="left:2844.0px;top:1548.8px">alloc</div>
<div class=t style="left:2914.6px;top:1548.8px;color:#808080">[free]</div>
<div class=t style="left:1903.2px;top:1578.4px;font-size:18.2px;line-height:18.2px;font-family:'Liberation Mono',monospace">0x7553b9fbf0</div>
<div class=t style="left:2050.2px;top:1577.8px">16 bytes</div>
<div class=t style="left:2157.0px;top:1577.8px;width:152px;overflow:hidden">296,661,146ns</div>
<div class=t style="left:2317.7px;top:1577.8px;color:#80DD80">13:50.7</div>
<div class=a style="left:2406.0px;top:1576.0px;width:22.0px;height:22.0px;background:#5AAF8A;border-radius:4px;box-sizing:border-box;border:1px solid rgba(0,0,0,0.25)"></div>
<div class=t style="left:2441.5px;top:1577.8px;width:172px;overflow:hidden">GLThread 336</div>
<div class=t style="left:2621.2px;top:1577.8px">-</div>
<div class=t style="left:2732.6px;top:1577.8px;color:#80DD80">active</div>
<div class=a style="left:2838.6px;top:1575.5px;width:52.4px;height:23.0px;background:#2B4D72;border-radius:8px;box-sizing:border-box;border:1px solid #4b5a70"></div>
<div class=t style="left:2844.0px;top:1577.8px">alloc</div>
<div class=t style="left:2914.6px;top:1577.8px;color:#808080">[free]</div>
</div></body></html>
